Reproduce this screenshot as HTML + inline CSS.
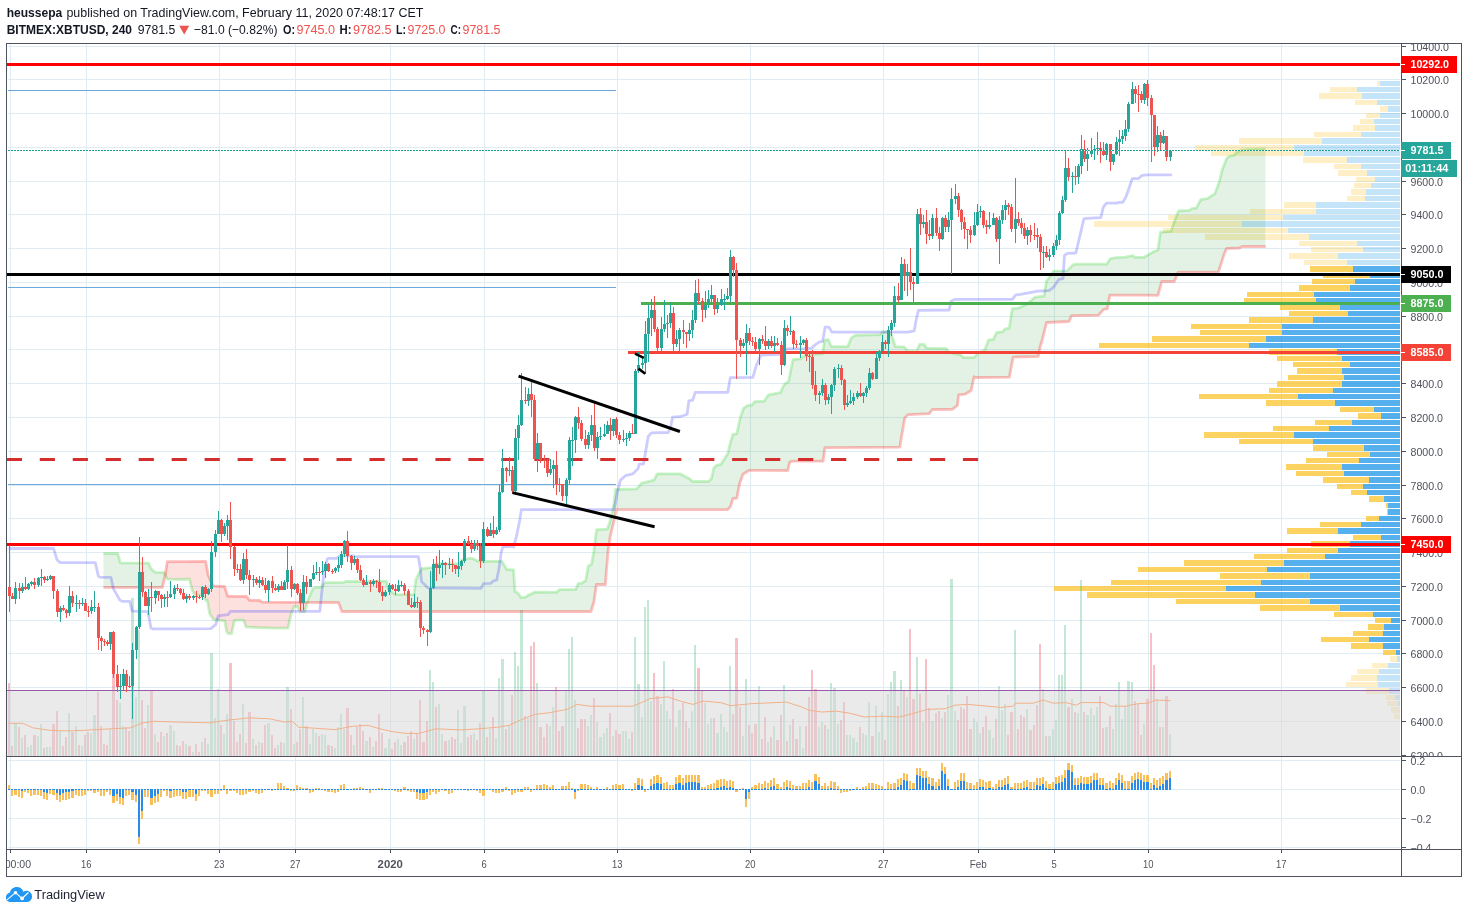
<!DOCTYPE html>
<html lang="en"><head><meta charset="utf-8"><title>BITMEX:XBTUSD chart</title><style>html,body{margin:0;padding:0;background:#fff;overflow:hidden}svg{display:block;will-change:transform}</style></head><body><svg width="1468" height="913" viewBox="0 0 1468 913"><defs><clipPath id="cpM"><rect x="7" y="44" width="1394" height="712"/></clipPath><clipPath id="cpI"><rect x="7" y="757" width="1394" height="92"/></clipPath><clipPath id="cpAxM"><rect x="1402" y="44" width="59" height="712"/></clipPath><clipPath id="cpAxI"><rect x="1402" y="757" width="59" height="92"/></clipPath><clipPath id="cpT"><rect x="7" y="850" width="1394" height="26"/></clipPath></defs>
<g stroke="#e1ecf2" stroke-width="1" shape-rendering="crispEdges"><line x1="8" x2="1400" y1="46.5" y2="46.5"/><line x1="8" x2="1400" y1="79.5" y2="79.5"/><line x1="8" x2="1400" y1="113.5" y2="113.5"/><line x1="8" x2="1400" y1="147.5" y2="147.5"/><line x1="8" x2="1400" y1="181.5" y2="181.5"/><line x1="8" x2="1400" y1="214.5" y2="214.5"/><line x1="8" x2="1400" y1="248.5" y2="248.5"/><line x1="8" x2="1400" y1="282.5" y2="282.5"/><line x1="8" x2="1400" y1="316.5" y2="316.5"/><line x1="8" x2="1400" y1="349.5" y2="349.5"/><line x1="8" x2="1400" y1="383.5" y2="383.5"/><line x1="8" x2="1400" y1="417.5" y2="417.5"/><line x1="8" x2="1400" y1="451.5" y2="451.5"/><line x1="8" x2="1400" y1="485.5" y2="485.5"/><line x1="8" x2="1400" y1="518.5" y2="518.5"/><line x1="8" x2="1400" y1="552.5" y2="552.5"/><line x1="8" x2="1400" y1="586.5" y2="586.5"/><line x1="8" x2="1400" y1="620.5" y2="620.5"/><line x1="8" x2="1400" y1="653.5" y2="653.5"/><line x1="8" x2="1400" y1="687.5" y2="687.5"/><line x1="8" x2="1400" y1="721.5" y2="721.5"/><line x1="8" x2="1400" y1="760.5" y2="760.5"/><line x1="8" x2="1400" y1="789.5" y2="789.5"/><line x1="8" x2="1400" y1="818.5" y2="818.5"/><line x1="8" x2="1400" y1="847.5" y2="847.5"/><line x1="10.5" x2="10.5" y1="44" y2="756"/><line x1="10.5" x2="10.5" y1="757" y2="849"/><line x1="86.5" x2="86.5" y1="44" y2="756"/><line x1="86.5" x2="86.5" y1="757" y2="849"/><line x1="219.5" x2="219.5" y1="44" y2="756"/><line x1="219.5" x2="219.5" y1="757" y2="849"/><line x1="295.5" x2="295.5" y1="44" y2="756"/><line x1="295.5" x2="295.5" y1="757" y2="849"/><line x1="390.5" x2="390.5" y1="44" y2="756"/><line x1="390.5" x2="390.5" y1="757" y2="849"/><line x1="484.5" x2="484.5" y1="44" y2="756"/><line x1="484.5" x2="484.5" y1="757" y2="849"/><line x1="617.5" x2="617.5" y1="44" y2="756"/><line x1="617.5" x2="617.5" y1="757" y2="849"/><line x1="750.5" x2="750.5" y1="44" y2="756"/><line x1="750.5" x2="750.5" y1="757" y2="849"/><line x1="883.5" x2="883.5" y1="44" y2="756"/><line x1="883.5" x2="883.5" y1="757" y2="849"/><line x1="978.5" x2="978.5" y1="44" y2="756"/><line x1="978.5" x2="978.5" y1="757" y2="849"/><line x1="1054.5" x2="1054.5" y1="44" y2="756"/><line x1="1054.5" x2="1054.5" y1="757" y2="849"/><line x1="1148.5" x2="1148.5" y1="44" y2="756"/><line x1="1148.5" x2="1148.5" y1="757" y2="849"/><line x1="1281.5" x2="1281.5" y1="44" y2="756"/><line x1="1281.5" x2="1281.5" y1="757" y2="849"/></g>
<g clip-path="url(#cpM)">
<g shape-rendering="crispEdges"><rect x="1377" y="81" width="3" height="5" fill="rgba(251,193,35,0.26)"/><rect x="1380" y="81" width="20" height="5" fill="rgba(21,146,230,0.25)"/><rect x="1330" y="87" width="27" height="5" fill="rgba(251,193,35,0.26)"/><rect x="1357" y="87" width="43" height="5" fill="rgba(21,146,230,0.25)"/><rect x="1319" y="93" width="43" height="6" fill="rgba(251,193,35,0.26)"/><rect x="1362" y="93" width="38" height="6" fill="rgba(21,146,230,0.25)"/><rect x="1355" y="100" width="22" height="5" fill="rgba(251,193,35,0.26)"/><rect x="1377" y="100" width="23" height="5" fill="rgba(21,146,230,0.25)"/><rect x="1380" y="106" width="8" height="6" fill="rgba(251,193,35,0.26)"/><rect x="1388" y="106" width="12" height="6" fill="rgba(21,146,230,0.25)"/><rect x="1366" y="113" width="14" height="5" fill="rgba(251,193,35,0.26)"/><rect x="1380" y="113" width="20" height="5" fill="rgba(21,146,230,0.25)"/><rect x="1360" y="119" width="14" height="5" fill="rgba(251,193,35,0.26)"/><rect x="1374" y="119" width="26" height="5" fill="rgba(21,146,230,0.25)"/><rect x="1353" y="125" width="22" height="6" fill="rgba(251,193,35,0.26)"/><rect x="1375" y="125" width="25" height="6" fill="rgba(21,146,230,0.25)"/><rect x="1314" y="132" width="47" height="5" fill="rgba(251,193,35,0.26)"/><rect x="1361" y="132" width="39" height="5" fill="rgba(21,146,230,0.25)"/><rect x="1239" y="138" width="83" height="6" fill="rgba(251,193,35,0.26)"/><rect x="1322" y="138" width="78" height="6" fill="rgba(21,146,230,0.25)"/><rect x="1195" y="145" width="99" height="5" fill="rgba(251,193,35,0.26)"/><rect x="1294" y="145" width="106" height="5" fill="rgba(21,146,230,0.25)"/><rect x="1211" y="151" width="93" height="5" fill="rgba(251,193,35,0.26)"/><rect x="1304" y="151" width="96" height="5" fill="rgba(21,146,230,0.25)"/><rect x="1303" y="157" width="44" height="6" fill="rgba(251,193,35,0.26)"/><rect x="1347" y="157" width="53" height="6" fill="rgba(21,146,230,0.25)"/><rect x="1334" y="164" width="27" height="5" fill="rgba(251,193,35,0.26)"/><rect x="1361" y="164" width="39" height="5" fill="rgba(21,146,230,0.25)"/><rect x="1338" y="170" width="29" height="6" fill="rgba(251,193,35,0.26)"/><rect x="1367" y="170" width="33" height="6" fill="rgba(21,146,230,0.25)"/><rect x="1356" y="177" width="19" height="5" fill="rgba(251,193,35,0.26)"/><rect x="1375" y="177" width="25" height="5" fill="rgba(21,146,230,0.25)"/><rect x="1354" y="183" width="17" height="5" fill="rgba(251,193,35,0.26)"/><rect x="1371" y="183" width="29" height="5" fill="rgba(21,146,230,0.25)"/><rect x="1351" y="189" width="15" height="6" fill="rgba(251,193,35,0.26)"/><rect x="1366" y="189" width="34" height="6" fill="rgba(21,146,230,0.25)"/><rect x="1347" y="196" width="18" height="5" fill="rgba(251,193,35,0.26)"/><rect x="1365" y="196" width="35" height="5" fill="rgba(21,146,230,0.25)"/><rect x="1284" y="202" width="32" height="6" fill="rgba(251,193,35,0.26)"/><rect x="1316" y="202" width="84" height="6" fill="rgba(21,146,230,0.25)"/><rect x="1250" y="209" width="66" height="5" fill="rgba(251,193,35,0.26)"/><rect x="1316" y="209" width="84" height="5" fill="rgba(21,146,230,0.25)"/><rect x="1168" y="215" width="115" height="5" fill="rgba(251,193,35,0.26)"/><rect x="1283" y="215" width="117" height="5" fill="rgba(21,146,230,0.25)"/><rect x="1094" y="221" width="148" height="6" fill="rgba(251,193,35,0.26)"/><rect x="1242" y="221" width="158" height="6" fill="rgba(21,146,230,0.25)"/><rect x="1163" y="228" width="125" height="5" fill="rgba(251,193,35,0.26)"/><rect x="1288" y="228" width="112" height="5" fill="rgba(21,146,230,0.25)"/><rect x="1205" y="234" width="104" height="6" fill="rgba(251,193,35,0.26)"/><rect x="1309" y="234" width="91" height="6" fill="rgba(21,146,230,0.25)"/><rect x="1299" y="241" width="58" height="5" fill="rgba(251,193,35,0.26)"/><rect x="1357" y="241" width="43" height="5" fill="rgba(21,146,230,0.25)"/><rect x="1311" y="247" width="52" height="5" fill="rgba(251,193,35,0.26)"/><rect x="1363" y="247" width="37" height="5" fill="rgba(21,146,230,0.25)"/><rect x="1289" y="253" width="49" height="6" fill="rgba(251,193,35,0.26)"/><rect x="1338" y="253" width="62" height="6" fill="rgba(21,146,230,0.25)"/><rect x="1304" y="260" width="43" height="5" fill="rgba(251,193,35,0.26)"/><rect x="1347" y="260" width="53" height="5" fill="rgba(21,146,230,0.25)"/><rect x="1310" y="266" width="43" height="6" fill="rgba(251,193,35,0.72)"/><rect x="1353" y="266" width="47" height="6" fill="rgba(21,146,230,0.72)"/><rect x="1323" y="273" width="47" height="5" fill="rgba(251,193,35,0.72)"/><rect x="1370" y="273" width="30" height="5" fill="rgba(21,146,230,0.72)"/><rect x="1312" y="279" width="43" height="5" fill="rgba(251,193,35,0.72)"/><rect x="1355" y="279" width="45" height="5" fill="rgba(21,146,230,0.72)"/><rect x="1299" y="285" width="51" height="6" fill="rgba(251,193,35,0.72)"/><rect x="1350" y="285" width="50" height="6" fill="rgba(21,146,230,0.72)"/><rect x="1247" y="292" width="67" height="5" fill="rgba(251,193,35,0.72)"/><rect x="1314" y="292" width="86" height="5" fill="rgba(21,146,230,0.72)"/><rect x="1244" y="298" width="72" height="6" fill="rgba(251,193,35,0.72)"/><rect x="1316" y="298" width="84" height="6" fill="rgba(21,146,230,0.72)"/><rect x="1280" y="305" width="60" height="5" fill="rgba(251,193,35,0.72)"/><rect x="1340" y="305" width="60" height="5" fill="rgba(21,146,230,0.72)"/><rect x="1289" y="311" width="59" height="5" fill="rgba(251,193,35,0.72)"/><rect x="1348" y="311" width="52" height="5" fill="rgba(21,146,230,0.72)"/><rect x="1249" y="317" width="64" height="6" fill="rgba(251,193,35,0.72)"/><rect x="1313" y="317" width="87" height="6" fill="rgba(21,146,230,0.72)"/><rect x="1191" y="324" width="91" height="5" fill="rgba(251,193,35,0.72)"/><rect x="1282" y="324" width="118" height="5" fill="rgba(21,146,230,0.72)"/><rect x="1200" y="330" width="82" height="5" fill="rgba(251,193,35,0.72)"/><rect x="1282" y="330" width="118" height="5" fill="rgba(21,146,230,0.72)"/><rect x="1152" y="336" width="114" height="6" fill="rgba(251,193,35,0.72)"/><rect x="1266" y="336" width="134" height="6" fill="rgba(21,146,230,0.72)"/><rect x="1099" y="343" width="150" height="5" fill="rgba(251,193,35,0.72)"/><rect x="1249" y="343" width="151" height="5" fill="rgba(21,146,230,0.72)"/><rect x="1269" y="349" width="68" height="6" fill="rgba(251,193,35,0.72)"/><rect x="1337" y="349" width="63" height="6" fill="rgba(21,146,230,0.72)"/><rect x="1277" y="356" width="65" height="5" fill="rgba(251,193,35,0.72)"/><rect x="1342" y="356" width="58" height="5" fill="rgba(21,146,230,0.72)"/><rect x="1293" y="362" width="57" height="5" fill="rgba(251,193,35,0.72)"/><rect x="1350" y="362" width="50" height="5" fill="rgba(21,146,230,0.72)"/><rect x="1297" y="368" width="45" height="6" fill="rgba(251,193,35,0.72)"/><rect x="1342" y="368" width="58" height="6" fill="rgba(21,146,230,0.72)"/><rect x="1288" y="375" width="56" height="5" fill="rgba(251,193,35,0.72)"/><rect x="1344" y="375" width="56" height="5" fill="rgba(21,146,230,0.72)"/><rect x="1277" y="381" width="65" height="6" fill="rgba(251,193,35,0.72)"/><rect x="1342" y="381" width="58" height="6" fill="rgba(21,146,230,0.72)"/><rect x="1269" y="388" width="64" height="5" fill="rgba(251,193,35,0.72)"/><rect x="1333" y="388" width="67" height="5" fill="rgba(21,146,230,0.72)"/><rect x="1199" y="394" width="99" height="5" fill="rgba(251,193,35,0.72)"/><rect x="1298" y="394" width="102" height="5" fill="rgba(21,146,230,0.72)"/><rect x="1266" y="400" width="69" height="6" fill="rgba(251,193,35,0.72)"/><rect x="1335" y="400" width="65" height="6" fill="rgba(21,146,230,0.72)"/><rect x="1340" y="407" width="34" height="5" fill="rgba(251,193,35,0.72)"/><rect x="1374" y="407" width="26" height="5" fill="rgba(21,146,230,0.72)"/><rect x="1358" y="413" width="23" height="6" fill="rgba(251,193,35,0.72)"/><rect x="1381" y="413" width="19" height="6" fill="rgba(21,146,230,0.72)"/><rect x="1315" y="420" width="37" height="5" fill="rgba(251,193,35,0.72)"/><rect x="1352" y="420" width="48" height="5" fill="rgba(21,146,230,0.72)"/><rect x="1273" y="426" width="56" height="5" fill="rgba(251,193,35,0.72)"/><rect x="1329" y="426" width="71" height="5" fill="rgba(21,146,230,0.72)"/><rect x="1204" y="432" width="90" height="6" fill="rgba(251,193,35,0.72)"/><rect x="1294" y="432" width="106" height="6" fill="rgba(21,146,230,0.72)"/><rect x="1239" y="439" width="74" height="5" fill="rgba(251,193,35,0.72)"/><rect x="1313" y="439" width="87" height="5" fill="rgba(21,146,230,0.72)"/><rect x="1313" y="445" width="51" height="6" fill="rgba(251,193,35,0.72)"/><rect x="1364" y="445" width="36" height="6" fill="rgba(21,146,230,0.72)"/><rect x="1327" y="452" width="43" height="5" fill="rgba(251,193,35,0.72)"/><rect x="1370" y="452" width="30" height="5" fill="rgba(21,146,230,0.72)"/><rect x="1306" y="458" width="53" height="5" fill="rgba(251,193,35,0.72)"/><rect x="1359" y="458" width="41" height="5" fill="rgba(21,146,230,0.72)"/><rect x="1286" y="464" width="56" height="6" fill="rgba(251,193,35,0.72)"/><rect x="1342" y="464" width="58" height="6" fill="rgba(21,146,230,0.72)"/><rect x="1296" y="471" width="48" height="5" fill="rgba(251,193,35,0.72)"/><rect x="1344" y="471" width="56" height="5" fill="rgba(21,146,230,0.72)"/><rect x="1323" y="477" width="46" height="6" fill="rgba(251,193,35,0.72)"/><rect x="1369" y="477" width="31" height="6" fill="rgba(21,146,230,0.72)"/><rect x="1337" y="484" width="26" height="5" fill="rgba(251,193,35,0.72)"/><rect x="1363" y="484" width="37" height="5" fill="rgba(21,146,230,0.72)"/><rect x="1351" y="490" width="16" height="5" fill="rgba(251,193,35,0.72)"/><rect x="1367" y="490" width="33" height="5" fill="rgba(21,146,230,0.72)"/><rect x="1369" y="496" width="15" height="6" fill="rgba(251,193,35,0.72)"/><rect x="1384" y="496" width="16" height="6" fill="rgba(21,146,230,0.72)"/><rect x="1386" y="503" width="2" height="5" fill="rgba(251,193,35,0.72)"/><rect x="1388" y="503" width="12" height="5" fill="rgba(21,146,230,0.72)"/><rect x="1387" y="509" width="1" height="6" fill="rgba(251,193,35,0.72)"/><rect x="1388" y="509" width="12" height="6" fill="rgba(21,146,230,0.72)"/><rect x="1366" y="516" width="13" height="5" fill="rgba(251,193,35,0.72)"/><rect x="1379" y="516" width="21" height="5" fill="rgba(21,146,230,0.72)"/><rect x="1320" y="522" width="41" height="5" fill="rgba(251,193,35,0.72)"/><rect x="1361" y="522" width="39" height="5" fill="rgba(21,146,230,0.72)"/><rect x="1287" y="528" width="51" height="6" fill="rgba(251,193,35,0.72)"/><rect x="1338" y="528" width="62" height="6" fill="rgba(21,146,230,0.72)"/><rect x="1353" y="535" width="28" height="5" fill="rgba(251,193,35,0.72)"/><rect x="1381" y="535" width="19" height="5" fill="rgba(21,146,230,0.72)"/><rect x="1311" y="541" width="39" height="6" fill="rgba(251,193,35,0.72)"/><rect x="1350" y="541" width="50" height="6" fill="rgba(21,146,230,0.72)"/><rect x="1287" y="548" width="51" height="5" fill="rgba(251,193,35,0.72)"/><rect x="1338" y="548" width="62" height="5" fill="rgba(21,146,230,0.72)"/><rect x="1254" y="554" width="71" height="5" fill="rgba(251,193,35,0.72)"/><rect x="1325" y="554" width="75" height="5" fill="rgba(21,146,230,0.72)"/><rect x="1184" y="560" width="100" height="6" fill="rgba(251,193,35,0.72)"/><rect x="1284" y="560" width="116" height="6" fill="rgba(21,146,230,0.72)"/><rect x="1138" y="567" width="129" height="5" fill="rgba(251,193,35,0.72)"/><rect x="1267" y="567" width="133" height="5" fill="rgba(21,146,230,0.72)"/><rect x="1220" y="573" width="90" height="6" fill="rgba(251,193,35,0.72)"/><rect x="1310" y="573" width="90" height="6" fill="rgba(21,146,230,0.72)"/><rect x="1111" y="580" width="150" height="5" fill="rgba(251,193,35,0.72)"/><rect x="1261" y="580" width="139" height="5" fill="rgba(21,146,230,0.72)"/><rect x="1054" y="586" width="172" height="5" fill="rgba(251,193,35,0.72)"/><rect x="1226" y="586" width="174" height="5" fill="rgba(21,146,230,0.72)"/><rect x="1087" y="592" width="168" height="6" fill="rgba(251,193,35,0.72)"/><rect x="1255" y="592" width="145" height="6" fill="rgba(21,146,230,0.72)"/><rect x="1176" y="599" width="134" height="5" fill="rgba(251,193,35,0.72)"/><rect x="1310" y="599" width="90" height="5" fill="rgba(21,146,230,0.72)"/><rect x="1260" y="605" width="80" height="6" fill="rgba(251,193,35,0.72)"/><rect x="1340" y="605" width="60" height="6" fill="rgba(21,146,230,0.72)"/><rect x="1334" y="612" width="39" height="5" fill="rgba(251,193,35,0.72)"/><rect x="1373" y="612" width="27" height="5" fill="rgba(21,146,230,0.72)"/><rect x="1375" y="618" width="16" height="5" fill="rgba(251,193,35,0.72)"/><rect x="1391" y="618" width="9" height="5" fill="rgba(21,146,230,0.72)"/><rect x="1368" y="624" width="16" height="6" fill="rgba(251,193,35,0.72)"/><rect x="1384" y="624" width="16" height="6" fill="rgba(21,146,230,0.72)"/><rect x="1353" y="631" width="30" height="5" fill="rgba(251,193,35,0.72)"/><rect x="1383" y="631" width="17" height="5" fill="rgba(21,146,230,0.72)"/><rect x="1321" y="637" width="48" height="5" fill="rgba(251,193,35,0.72)"/><rect x="1369" y="637" width="31" height="5" fill="rgba(21,146,230,0.72)"/><rect x="1351" y="643" width="32" height="6" fill="rgba(251,193,35,0.72)"/><rect x="1383" y="643" width="17" height="6" fill="rgba(21,146,230,0.72)"/><rect x="1383" y="650" width="13" height="5" fill="rgba(251,193,35,0.72)"/><rect x="1396" y="650" width="4" height="5" fill="rgba(21,146,230,0.72)"/><rect x="1390" y="656" width="7" height="6" fill="rgba(251,193,35,0.26)"/><rect x="1397" y="656" width="3" height="6" fill="rgba(21,146,230,0.25)"/><rect x="1372" y="663" width="16" height="5" fill="rgba(251,193,35,0.26)"/><rect x="1388" y="663" width="12" height="5" fill="rgba(21,146,230,0.25)"/><rect x="1357" y="669" width="22" height="5" fill="rgba(251,193,35,0.26)"/><rect x="1379" y="669" width="21" height="5" fill="rgba(21,146,230,0.25)"/><rect x="1351" y="675" width="26" height="6" fill="rgba(251,193,35,0.26)"/><rect x="1377" y="675" width="23" height="6" fill="rgba(21,146,230,0.25)"/><rect x="1346" y="682" width="32" height="5" fill="rgba(251,193,35,0.26)"/><rect x="1378" y="682" width="22" height="5" fill="rgba(21,146,230,0.25)"/><rect x="1366" y="688" width="23" height="6" fill="rgba(251,193,35,0.26)"/><rect x="1389" y="688" width="11" height="6" fill="rgba(21,146,230,0.25)"/><rect x="1386" y="695" width="9" height="5" fill="rgba(251,193,35,0.26)"/><rect x="1395" y="695" width="5" height="5" fill="rgba(21,146,230,0.25)"/><rect x="1387" y="701" width="11" height="5" fill="rgba(251,193,35,0.26)"/><rect x="1398" y="701" width="2" height="5" fill="rgba(21,146,230,0.25)"/><rect x="1391" y="707" width="9" height="6" fill="rgba(251,193,35,0.26)"/><rect x="1394" y="714" width="6" height="5" fill="rgba(251,193,35,0.26)"/></g>
<g shape-rendering="crispEdges"><g fill="rgba(83,185,135,0.34)"><rect x="14" y="723" width="3" height="33"/><rect x="21" y="738" width="2" height="18"/><rect x="27" y="747" width="2" height="9"/><rect x="30" y="745" width="2" height="11"/><rect x="37" y="736" width="2" height="20"/><rect x="40" y="724" width="2" height="32"/><rect x="46" y="747" width="2" height="9"/><rect x="49" y="747" width="2" height="9"/><rect x="59" y="731" width="2" height="25"/><rect x="68" y="713" width="2" height="43"/><rect x="75" y="726" width="2" height="30"/><rect x="81" y="746" width="2" height="10"/><rect x="90" y="733" width="2" height="23"/><rect x="93" y="715" width="3" height="41"/><rect x="109" y="729" width="2" height="27"/><rect x="119" y="703" width="2" height="53"/><rect x="122" y="726" width="2" height="30"/><rect x="131" y="598" width="3" height="158"/><rect x="135" y="697" width="2" height="59"/><rect x="138" y="630" width="2" height="126"/><rect x="147" y="705" width="2" height="51"/><rect x="154" y="734" width="2" height="22"/><rect x="163" y="736" width="2" height="20"/><rect x="169" y="725" width="3" height="31"/><rect x="173" y="731" width="2" height="25"/><rect x="185" y="744" width="2" height="12"/><rect x="192" y="752" width="2" height="4"/><rect x="201" y="742" width="2" height="14"/><rect x="207" y="744" width="2" height="12"/><rect x="210" y="653" width="3" height="103"/><rect x="214" y="718" width="2" height="38"/><rect x="217" y="689" width="2" height="67"/><rect x="223" y="734" width="2" height="22"/><rect x="226" y="714" width="2" height="42"/><rect x="242" y="704" width="2" height="52"/><rect x="252" y="739" width="2" height="17"/><rect x="258" y="742" width="2" height="14"/><rect x="267" y="723" width="3" height="33"/><rect x="277" y="745" width="2" height="11"/><rect x="283" y="743" width="2" height="13"/><rect x="286" y="687" width="3" height="69"/><rect x="293" y="744" width="2" height="12"/><rect x="302" y="697" width="2" height="59"/><rect x="309" y="744" width="2" height="12"/><rect x="312" y="729" width="2" height="27"/><rect x="315" y="733" width="2" height="23"/><rect x="321" y="734" width="2" height="22"/><rect x="324" y="735" width="2" height="21"/><rect x="334" y="748" width="2" height="8"/><rect x="337" y="727" width="2" height="29"/><rect x="340" y="714" width="2" height="42"/><rect x="343" y="729" width="2" height="27"/><rect x="353" y="745" width="2" height="11"/><rect x="365" y="741" width="3" height="15"/><rect x="372" y="747" width="2" height="9"/><rect x="384" y="748" width="3" height="8"/><rect x="388" y="739" width="2" height="17"/><rect x="397" y="739" width="2" height="17"/><rect x="400" y="745" width="2" height="11"/><rect x="413" y="739" width="2" height="17"/><rect x="429" y="670" width="2" height="86"/><rect x="432" y="682" width="2" height="74"/><rect x="438" y="704" width="2" height="52"/><rect x="441" y="734" width="2" height="22"/><rect x="448" y="740" width="2" height="16"/><rect x="457" y="710" width="2" height="46"/><rect x="460" y="743" width="2" height="13"/><rect x="463" y="706" width="3" height="50"/><rect x="473" y="733" width="2" height="23"/><rect x="482" y="691" width="3" height="65"/><rect x="489" y="729" width="2" height="27"/><rect x="495" y="738" width="2" height="18"/><rect x="498" y="678" width="2" height="78"/><rect x="501" y="659" width="3" height="97"/><rect x="508" y="725" width="2" height="31"/><rect x="514" y="652" width="2" height="104"/><rect x="517" y="666" width="2" height="90"/><rect x="520" y="610" width="3" height="146"/><rect x="527" y="718" width="2" height="38"/><rect x="536" y="683" width="2" height="73"/><rect x="549" y="726" width="2" height="30"/><rect x="552" y="707" width="2" height="49"/><rect x="565" y="691" width="2" height="65"/><rect x="568" y="649" width="2" height="107"/><rect x="571" y="637" width="2" height="119"/><rect x="574" y="700" width="2" height="56"/><rect x="587" y="726" width="2" height="30"/><rect x="590" y="715" width="2" height="41"/><rect x="596" y="722" width="2" height="34"/><rect x="599" y="737" width="3" height="19"/><rect x="603" y="733" width="2" height="23"/><rect x="606" y="728" width="2" height="28"/><rect x="612" y="736" width="2" height="20"/><rect x="622" y="731" width="2" height="25"/><rect x="625" y="731" width="2" height="25"/><rect x="628" y="739" width="2" height="17"/><rect x="634" y="637" width="2" height="119"/><rect x="637" y="684" width="3" height="72"/><rect x="641" y="717" width="2" height="39"/><rect x="644" y="607" width="2" height="149"/><rect x="647" y="600" width="2" height="156"/><rect x="650" y="701" width="2" height="55"/><rect x="660" y="704" width="2" height="52"/><rect x="663" y="661" width="2" height="95"/><rect x="666" y="711" width="2" height="45"/><rect x="669" y="719" width="2" height="37"/><rect x="675" y="727" width="2" height="29"/><rect x="678" y="710" width="3" height="46"/><rect x="688" y="728" width="2" height="28"/><rect x="691" y="711" width="2" height="45"/><rect x="694" y="645" width="2" height="111"/><rect x="704" y="703" width="2" height="53"/><rect x="707" y="724" width="2" height="32"/><rect x="710" y="718" width="2" height="38"/><rect x="716" y="733" width="3" height="23"/><rect x="720" y="714" width="2" height="42"/><rect x="723" y="727" width="2" height="29"/><rect x="726" y="732" width="2" height="24"/><rect x="729" y="666" width="2" height="90"/><rect x="742" y="736" width="2" height="20"/><rect x="745" y="679" width="2" height="77"/><rect x="758" y="686" width="2" height="70"/><rect x="767" y="742" width="2" height="14"/><rect x="773" y="726" width="2" height="30"/><rect x="783" y="685" width="2" height="71"/><rect x="789" y="725" width="2" height="31"/><rect x="799" y="726" width="2" height="30"/><rect x="802" y="748" width="2" height="8"/><rect x="818" y="727" width="2" height="29"/><rect x="821" y="722" width="2" height="34"/><rect x="827" y="729" width="2" height="27"/><rect x="830" y="683" width="2" height="73"/><rect x="833" y="688" width="3" height="68"/><rect x="837" y="724" width="2" height="32"/><rect x="846" y="735" width="2" height="21"/><rect x="849" y="735" width="2" height="21"/><rect x="852" y="738" width="3" height="18"/><rect x="856" y="742" width="2" height="14"/><rect x="862" y="733" width="2" height="23"/><rect x="865" y="735" width="2" height="21"/><rect x="868" y="702" width="2" height="54"/><rect x="875" y="706" width="2" height="50"/><rect x="878" y="732" width="2" height="24"/><rect x="881" y="712" width="2" height="44"/><rect x="887" y="694" width="2" height="62"/><rect x="890" y="682" width="2" height="74"/><rect x="893" y="671" width="3" height="85"/><rect x="900" y="680" width="2" height="76"/><rect x="906" y="697" width="2" height="59"/><rect x="916" y="657" width="2" height="99"/><rect x="922" y="722" width="2" height="34"/><rect x="931" y="721" width="3" height="35"/><rect x="941" y="718" width="2" height="38"/><rect x="947" y="695" width="2" height="61"/><rect x="950" y="579" width="3" height="177"/><rect x="954" y="711" width="2" height="45"/><rect x="973" y="718" width="2" height="38"/><rect x="976" y="722" width="2" height="34"/><rect x="979" y="733" width="2" height="23"/><rect x="988" y="730" width="3" height="26"/><rect x="992" y="738" width="2" height="18"/><rect x="998" y="686" width="2" height="70"/><rect x="1001" y="710" width="2" height="46"/><rect x="1004" y="704" width="2" height="52"/><rect x="1014" y="630" width="2" height="126"/><rect x="1026" y="709" width="2" height="47"/><rect x="1042" y="689" width="2" height="67"/><rect x="1048" y="736" width="3" height="20"/><rect x="1052" y="729" width="2" height="27"/><rect x="1055" y="720" width="2" height="36"/><rect x="1058" y="675" width="2" height="81"/><rect x="1061" y="675" width="2" height="81"/><rect x="1064" y="625" width="2" height="131"/><rect x="1071" y="699" width="2" height="57"/><rect x="1077" y="713" width="2" height="43"/><rect x="1080" y="580" width="2" height="176"/><rect x="1086" y="715" width="3" height="41"/><rect x="1090" y="708" width="2" height="48"/><rect x="1093" y="715" width="2" height="41"/><rect x="1096" y="707" width="2" height="49"/><rect x="1105" y="727" width="3" height="29"/><rect x="1112" y="729" width="2" height="27"/><rect x="1115" y="704" width="2" height="52"/><rect x="1118" y="682" width="2" height="74"/><rect x="1121" y="719" width="2" height="37"/><rect x="1124" y="706" width="2" height="50"/><rect x="1127" y="681" width="3" height="75"/><rect x="1131" y="682" width="2" height="74"/><rect x="1143" y="724" width="2" height="32"/><rect x="1156" y="699" width="2" height="57"/><rect x="1162" y="727" width="2" height="29"/><rect x="1169" y="734" width="2" height="22"/></g><g fill="rgba(235,77,92,0.36)"><rect x="8" y="683" width="2" height="73"/><rect x="11" y="746" width="2" height="10"/><rect x="18" y="727" width="2" height="29"/><rect x="24" y="735" width="2" height="21"/><rect x="33" y="735" width="3" height="21"/><rect x="43" y="748" width="2" height="8"/><rect x="52" y="724" width="3" height="32"/><rect x="56" y="711" width="2" height="45"/><rect x="62" y="746" width="2" height="10"/><rect x="65" y="737" width="2" height="19"/><rect x="71" y="732" width="3" height="24"/><rect x="78" y="745" width="2" height="11"/><rect x="84" y="735" width="2" height="21"/><rect x="87" y="732" width="2" height="24"/><rect x="97" y="692" width="2" height="64"/><rect x="100" y="726" width="2" height="30"/><rect x="103" y="744" width="2" height="12"/><rect x="106" y="745" width="2" height="11"/><rect x="112" y="673" width="3" height="83"/><rect x="116" y="700" width="2" height="56"/><rect x="125" y="727" width="2" height="29"/><rect x="128" y="731" width="2" height="25"/><rect x="141" y="700" width="2" height="56"/><rect x="144" y="728" width="2" height="28"/><rect x="150" y="691" width="3" height="65"/><rect x="157" y="742" width="2" height="14"/><rect x="160" y="732" width="2" height="24"/><rect x="166" y="733" width="2" height="23"/><rect x="176" y="745" width="2" height="11"/><rect x="179" y="746" width="2" height="10"/><rect x="182" y="741" width="2" height="15"/><rect x="188" y="746" width="3" height="10"/><rect x="195" y="744" width="2" height="12"/><rect x="198" y="752" width="2" height="4"/><rect x="204" y="738" width="2" height="18"/><rect x="220" y="725" width="2" height="31"/><rect x="229" y="663" width="3" height="93"/><rect x="233" y="721" width="2" height="35"/><rect x="236" y="742" width="2" height="14"/><rect x="239" y="734" width="2" height="22"/><rect x="245" y="743" width="2" height="13"/><rect x="248" y="712" width="3" height="44"/><rect x="255" y="745" width="2" height="11"/><rect x="261" y="743" width="2" height="13"/><rect x="264" y="725" width="2" height="31"/><rect x="271" y="735" width="2" height="21"/><rect x="274" y="748" width="2" height="8"/><rect x="280" y="742" width="2" height="14"/><rect x="290" y="709" width="2" height="47"/><rect x="296" y="742" width="2" height="14"/><rect x="299" y="729" width="2" height="27"/><rect x="305" y="726" width="3" height="30"/><rect x="318" y="736" width="2" height="20"/><rect x="327" y="745" width="3" height="11"/><rect x="331" y="746" width="2" height="10"/><rect x="346" y="708" width="3" height="48"/><rect x="350" y="735" width="2" height="21"/><rect x="356" y="727" width="2" height="29"/><rect x="359" y="724" width="2" height="32"/><rect x="362" y="731" width="2" height="25"/><rect x="369" y="737" width="2" height="19"/><rect x="375" y="741" width="2" height="15"/><rect x="378" y="714" width="2" height="42"/><rect x="381" y="733" width="2" height="23"/><rect x="391" y="749" width="2" height="7"/><rect x="394" y="742" width="2" height="14"/><rect x="403" y="742" width="3" height="14"/><rect x="407" y="736" width="2" height="20"/><rect x="410" y="731" width="2" height="25"/><rect x="416" y="734" width="2" height="22"/><rect x="419" y="700" width="2" height="56"/><rect x="422" y="742" width="3" height="14"/><rect x="426" y="721" width="2" height="35"/><rect x="435" y="707" width="2" height="49"/><rect x="444" y="741" width="3" height="15"/><rect x="451" y="737" width="2" height="19"/><rect x="454" y="739" width="2" height="17"/><rect x="467" y="737" width="2" height="19"/><rect x="470" y="735" width="2" height="21"/><rect x="476" y="740" width="2" height="16"/><rect x="479" y="723" width="2" height="33"/><rect x="486" y="737" width="2" height="19"/><rect x="492" y="717" width="2" height="39"/><rect x="505" y="729" width="2" height="27"/><rect x="511" y="695" width="2" height="61"/><rect x="524" y="716" width="2" height="40"/><rect x="530" y="646" width="2" height="110"/><rect x="533" y="642" width="2" height="114"/><rect x="539" y="727" width="3" height="29"/><rect x="543" y="737" width="2" height="19"/><rect x="546" y="724" width="2" height="32"/><rect x="555" y="687" width="2" height="69"/><rect x="558" y="731" width="2" height="25"/><rect x="561" y="726" width="3" height="30"/><rect x="577" y="728" width="2" height="28"/><rect x="580" y="719" width="3" height="37"/><rect x="584" y="719" width="2" height="37"/><rect x="593" y="698" width="2" height="58"/><rect x="609" y="713" width="2" height="43"/><rect x="615" y="730" width="2" height="26"/><rect x="618" y="734" width="3" height="22"/><rect x="631" y="732" width="2" height="24"/><rect x="653" y="673" width="2" height="83"/><rect x="656" y="696" width="3" height="60"/><rect x="672" y="689" width="2" height="67"/><rect x="682" y="703" width="2" height="53"/><rect x="685" y="721" width="2" height="35"/><rect x="697" y="668" width="3" height="88"/><rect x="701" y="691" width="2" height="65"/><rect x="713" y="718" width="2" height="38"/><rect x="732" y="714" width="2" height="42"/><rect x="735" y="638" width="3" height="118"/><rect x="739" y="707" width="2" height="49"/><rect x="748" y="725" width="2" height="31"/><rect x="751" y="733" width="2" height="23"/><rect x="754" y="724" width="3" height="32"/><rect x="761" y="739" width="2" height="17"/><rect x="764" y="717" width="2" height="39"/><rect x="770" y="737" width="2" height="19"/><rect x="776" y="740" width="3" height="16"/><rect x="780" y="715" width="2" height="41"/><rect x="786" y="741" width="2" height="15"/><rect x="792" y="719" width="2" height="37"/><rect x="795" y="739" width="3" height="17"/><rect x="805" y="726" width="2" height="30"/><rect x="808" y="697" width="2" height="59"/><rect x="811" y="670" width="2" height="86"/><rect x="814" y="689" width="3" height="67"/><rect x="824" y="725" width="2" height="31"/><rect x="840" y="720" width="2" height="36"/><rect x="843" y="702" width="2" height="54"/><rect x="859" y="727" width="2" height="29"/><rect x="871" y="736" width="3" height="20"/><rect x="884" y="740" width="2" height="16"/><rect x="897" y="706" width="2" height="50"/><rect x="903" y="691" width="2" height="65"/><rect x="909" y="629" width="2" height="127"/><rect x="912" y="699" width="3" height="57"/><rect x="919" y="694" width="2" height="62"/><rect x="925" y="659" width="2" height="97"/><rect x="928" y="708" width="2" height="48"/><rect x="935" y="713" width="2" height="43"/><rect x="938" y="711" width="2" height="45"/><rect x="944" y="712" width="2" height="44"/><rect x="957" y="720" width="2" height="36"/><rect x="960" y="707" width="2" height="49"/><rect x="963" y="709" width="2" height="47"/><rect x="966" y="696" width="2" height="60"/><rect x="969" y="729" width="3" height="27"/><rect x="982" y="727" width="2" height="29"/><rect x="985" y="716" width="2" height="40"/><rect x="995" y="719" width="2" height="37"/><rect x="1007" y="735" width="2" height="21"/><rect x="1010" y="712" width="3" height="44"/><rect x="1017" y="729" width="2" height="27"/><rect x="1020" y="715" width="2" height="41"/><rect x="1023" y="717" width="2" height="39"/><rect x="1029" y="730" width="3" height="26"/><rect x="1033" y="725" width="2" height="31"/><rect x="1036" y="705" width="2" height="51"/><rect x="1039" y="644" width="2" height="112"/><rect x="1045" y="736" width="2" height="20"/><rect x="1067" y="707" width="3" height="49"/><rect x="1074" y="712" width="2" height="44"/><rect x="1083" y="712" width="2" height="44"/><rect x="1099" y="696" width="2" height="60"/><rect x="1102" y="728" width="2" height="28"/><rect x="1109" y="716" width="2" height="40"/><rect x="1134" y="701" width="2" height="55"/><rect x="1137" y="704" width="2" height="52"/><rect x="1140" y="735" width="2" height="21"/><rect x="1146" y="699" width="3" height="57"/><rect x="1150" y="633" width="2" height="123"/><rect x="1153" y="665" width="2" height="91"/><rect x="1159" y="727" width="2" height="29"/><rect x="1165" y="696" width="3" height="60"/></g></g>
<rect x="7" y="691" width="1393" height="65" fill="rgba(214,214,214,0.51)" shape-rendering="crispEdges"/>
<rect x="7" y="690" width="1393" height="1" fill="#985aaa" shape-rendering="crispEdges"/>
<path d="M8.8,723.3 L22.7,723.3 L32.7,727.8 L50.4,730.4 L65.5,730.9 L83.1,730.4 L110.8,728.8 L131.0,727.8 L141.1,723.3 L153.7,721.3 L176.3,722.0 L209.1,722.8 L226.7,720.3 L249.4,717.8 L269.5,718.8 L284.6,722.0 L292.2,721.3 L298.5,727.1 L335.0,729.6 L352.6,726.3 L368.0,725.3 L378.1,728.3 L390.7,731.4 L405.8,733.4 L418.4,733.4 L436.0,728.8 L461.2,729.9 L478.8,728.8 L499.0,727.1 L509.1,725.3 L521.7,719.5 L534.2,714.5 L549.4,712.7 L567.0,709.4 L577.1,704.4 L589.7,706.2 L609.8,706.2 L632.5,706.2 L640.0,703.2 L650.1,698.6 L667.7,696.9 L680.3,701.1 L692.9,704.4 L703.0,701.1 L720.6,702.6 L730.7,705.7 L736.0,705.2 L751.1,703.7 L786.4,702.1 L801.5,706.9 L809.0,710.2 L821.6,712.0 L836.8,711.2 L849.4,713.2 L864.5,717.0 L882.1,716.2 L899.7,717.0 L912.3,713.7 L927.4,709.4 L945.1,708.7 L955.1,705.2 L967.7,704.4 L987.9,706.2 L1000.5,707.4 L1013.1,706.2 L1015.6,703.2 L1033.2,703.2 L1043.3,700.1 L1053.4,703.2 L1066.0,702.6 L1076.1,705.2 L1081.1,702.6 L1104.0,702.6 L1110.1,706.2 L1125.2,706.2 L1137.8,703.7 L1147.9,703.2 L1155.4,700.1 L1170.5,700.6" fill="none" stroke="#f1b088" stroke-width="1"/>
<path d="M103.4,553.5 L103.9,553.5 L104.4,553.5 L104.9,553.5 L105.4,553.5 L105.9,553.5 L106.4,553.5 L106.9,553.5 L107.4,553.5 L107.9,553.5 L108.4,553.5 L108.9,553.5 L109.4,553.5 L109.9,553.5 L110.4,553.5 L110.9,553.5 L111.4,553.5 L111.9,553.5 L112.4,553.5 L112.9,553.5 L113.4,553.5 L113.9,553.5 L114.4,553.5 L114.9,553.5 L115.4,553.5 L115.9,553.5 L116.4,553.5 L116.9,553.5 L117.4,553.5 L117.9,553.9 L118.4,555.7 L118.9,557.6 L119.4,559.5 L119.9,561.4 L120.4,562.9 L120.9,563.0 L121.4,563.0 L121.9,563.0 L122.4,563.0 L122.9,563.0 L123.4,563.0 L123.9,563.0 L124.4,563.0 L124.9,563.0 L125.4,563.0 L125.9,563.0 L126.4,563.0 L126.9,563.0 L127.4,563.0 L127.9,563.0 L128.4,563.0 L128.9,563.0 L129.4,563.0 L129.9,563.0 L130.4,563.0 L130.9,563.0 L131.4,563.0 L131.9,563.1 L132.4,563.1 L132.9,563.1 L133.4,563.1 L133.9,563.1 L134.4,563.1 L134.9,563.1 L135.4,563.1 L135.9,563.1 L136.4,563.1 L136.9,563.1 L137.4,563.1 L137.9,563.1 L138.4,563.1 L138.9,563.1 L139.4,563.1 L139.9,563.1 L140.4,563.1 L140.9,563.1 L141.4,563.1 L141.9,563.1 L142.4,563.1 L142.9,563.1 L143.4,563.2 L143.9,563.2 L144.4,563.2 L144.9,563.2 L145.4,563.2 L145.9,563.2 L146.4,563.2 L146.9,563.2 L147.4,563.2 L147.9,563.2 L148.4,563.2 L148.9,564.0 L149.4,565.2 L149.9,566.3 L150.4,567.4 L150.9,568.5 L151.4,569.1 L151.9,569.5 L152.4,569.9 L152.9,570.3 L153.4,570.7 L153.9,571.1 L154.4,571.5 L154.9,571.9 L155.4,572.3 L155.9,572.4 L156.4,572.4 L156.9,572.4 L157.4,572.4 L157.9,572.4 L158.4,572.4 L158.9,572.4 L159.4,572.5 L159.9,572.5 L160.4,572.5 L160.9,572.5 L161.4,572.5 L161.9,572.5 L162.4,572.5 L162.9,572.6 L163.4,572.6 L163.9,572.6 L164.4,573.0 L164.9,574.1 L165.4,575.2 L165.4,573.8 L164.9,576.0 L164.4,578.2 L163.9,580.4 L163.4,582.6 L162.9,584.8 L162.4,587.0 L161.9,587.4 L161.4,587.4 L160.9,587.4 L160.4,587.4 L159.9,587.4 L159.4,587.4 L158.9,587.4 L158.4,587.4 L157.9,587.4 L157.4,587.4 L156.9,587.4 L156.4,587.4 L155.9,587.4 L155.4,587.4 L154.9,587.4 L154.4,587.4 L153.9,587.4 L153.4,587.4 L152.9,587.4 L152.4,587.4 L151.9,587.4 L151.4,587.4 L150.9,587.4 L150.4,587.4 L149.9,587.4 L149.4,587.4 L148.9,587.4 L148.4,587.4 L147.9,587.4 L147.4,587.4 L146.9,587.4 L146.4,587.4 L145.9,587.4 L145.4,587.4 L144.9,587.4 L144.4,587.4 L143.9,587.4 L143.4,587.4 L142.9,587.4 L142.4,587.4 L141.9,587.4 L141.4,587.4 L140.9,587.4 L140.4,587.4 L139.9,587.4 L139.4,587.4 L138.9,587.4 L138.4,587.4 L137.9,587.4 L137.4,587.4 L136.9,587.4 L136.4,587.4 L135.9,587.4 L135.4,587.4 L134.9,587.4 L134.4,587.4 L133.9,587.4 L133.4,587.4 L132.9,587.4 L132.4,587.4 L131.9,587.4 L131.4,587.4 L130.9,587.4 L130.4,587.4 L129.9,587.4 L129.4,587.4 L128.9,587.4 L128.4,587.4 L127.9,587.4 L127.4,587.4 L126.9,587.4 L126.4,587.4 L125.9,587.4 L125.4,587.4 L124.9,587.4 L124.4,587.4 L123.9,587.4 L123.4,587.4 L122.9,587.4 L122.4,587.4 L121.9,587.4 L121.4,587.4 L120.9,587.4 L120.4,587.4 L119.9,587.4 L119.4,587.4 L118.9,587.4 L118.4,587.4 L117.9,587.4 L117.4,587.4 L116.9,587.4 L116.4,587.4 L115.9,587.4 L115.4,587.4 L114.9,587.4 L114.4,587.4 L113.9,587.4 L113.4,587.4 L112.9,587.4 L112.4,587.4 L111.9,587.4 L111.4,587.4 L110.9,587.4 L110.4,587.4 L109.9,587.4 L109.4,587.4 L108.9,587.4 L108.4,587.4 L107.9,587.4 L107.4,587.4 L106.9,587.4 L106.4,587.4 L105.9,587.4 L105.4,587.4 L104.9,587.4 L104.4,587.4 L103.9,587.4 L103.4,587.4 Z" fill="rgba(67,160,71,0.14)"/><path d="M165.4,575.2 L165.9,576.2 L166.4,577.3 L166.9,578.3 L167.4,579.2 L167.9,579.3 L168.4,579.3 L168.9,579.3 L169.4,579.3 L169.9,579.3 L170.4,579.3 L170.9,579.3 L171.4,579.3 L171.9,579.3 L172.4,579.3 L172.9,579.3 L173.4,579.3 L173.9,579.3 L174.4,579.4 L174.9,579.4 L175.4,579.4 L175.9,579.4 L176.4,579.4 L176.9,579.4 L177.4,579.4 L177.9,579.4 L178.4,579.4 L178.9,579.4 L179.4,579.4 L179.9,579.4 L180.4,579.4 L180.9,579.4 L181.4,579.5 L181.9,579.5 L182.4,579.5 L182.9,579.5 L183.4,579.5 L183.9,579.5 L184.4,579.5 L184.9,579.4 L185.4,579.4 L185.9,579.3 L186.4,579.3 L186.9,579.2 L187.4,579.2 L187.9,579.1 L188.4,579.1 L188.9,579.0 L189.4,579.0 L189.9,580.9 L190.4,582.9 L190.9,584.9 L191.4,586.9 L191.9,588.9 L192.4,590.9 L192.9,591.9 L193.4,592.6 L193.9,593.2 L194.4,593.8 L194.9,594.4 L195.4,594.7 L195.9,594.7 L196.4,594.7 L196.9,594.8 L197.4,594.8 L197.9,594.9 L198.4,594.9 L198.9,595.0 L199.4,595.0 L199.9,595.0 L200.4,595.1 L200.9,595.1 L201.4,595.2 L201.9,595.2 L202.4,595.2 L202.9,595.8 L203.4,596.6 L203.9,597.4 L204.4,598.2 L204.9,599.0 L205.4,599.8 L205.9,600.2 L206.4,600.2 L206.9,600.1 L207.4,601.2 L207.9,603.9 L208.4,606.7 L208.9,609.4 L209.4,612.2 L209.9,614.1 L210.4,614.9 L210.9,615.6 L211.4,616.4 L211.9,617.1 L212.4,617.9 L212.9,618.6 L213.4,619.4 L213.9,619.5 L214.4,619.6 L214.9,619.6 L215.4,619.7 L215.9,619.7 L216.4,619.8 L216.9,619.8 L217.4,619.9 L217.9,619.9 L218.4,620.0 L218.9,620.1 L219.4,620.1 L219.9,620.2 L220.4,620.2 L220.9,620.3 L221.4,620.3 L221.9,620.4 L222.4,620.4 L222.9,620.5 L223.4,620.6 L223.9,620.6 L224.4,620.7 L224.9,621.6 L225.4,624.5 L225.9,627.3 L226.4,630.1 L226.9,631.9 L227.4,632.8 L227.9,633.6 L228.4,633.6 L228.9,633.6 L229.4,633.6 L229.9,633.6 L230.4,633.6 L230.9,633.6 L231.4,633.6 L231.9,632.3 L232.4,629.8 L232.9,627.4 L233.4,624.9 L233.9,622.5 L234.4,621.1 L234.9,620.6 L235.4,620.1 L235.9,620.1 L236.4,620.1 L236.9,620.1 L237.4,620.1 L237.9,620.1 L238.4,620.1 L238.9,620.1 L239.4,620.1 L239.9,620.1 L240.4,620.1 L240.9,620.1 L241.4,620.1 L241.9,620.1 L242.4,620.1 L242.9,620.1 L243.4,620.1 L243.9,621.1 L244.4,622.5 L244.9,623.8 L245.4,625.2 L245.9,626.6 L246.4,627.0 L246.9,627.0 L247.4,627.0 L247.9,627.1 L248.4,627.1 L248.9,627.1 L249.4,627.1 L249.9,627.1 L250.4,627.2 L250.9,627.2 L251.4,627.2 L251.9,627.2 L252.4,627.3 L252.9,627.3 L253.4,627.3 L253.9,627.3 L254.4,627.4 L254.9,627.4 L255.4,627.4 L255.9,627.4 L256.4,627.4 L256.9,627.5 L257.4,627.5 L257.9,627.5 L258.4,627.5 L258.9,627.6 L259.4,627.6 L259.9,627.6 L260.4,627.6 L260.9,627.6 L261.4,627.7 L261.9,627.7 L262.4,627.7 L262.9,627.7 L263.4,627.8 L263.9,627.8 L264.4,627.8 L264.9,627.8 L265.4,627.8 L265.9,627.9 L266.4,627.9 L266.9,627.9 L267.4,627.9 L267.9,628.0 L268.4,628.0 L268.9,628.0 L269.4,628.0 L269.9,628.0 L270.4,628.1 L270.9,628.1 L271.4,628.1 L271.9,628.1 L272.4,628.2 L272.9,628.2 L273.4,628.2 L273.9,628.2 L274.4,628.2 L274.9,628.2 L275.4,628.2 L275.9,628.2 L276.4,628.2 L276.9,628.2 L277.4,628.2 L277.9,628.2 L278.4,628.2 L278.9,628.2 L279.4,628.2 L279.9,628.2 L280.4,628.2 L280.9,628.2 L281.4,628.2 L281.9,628.2 L282.4,628.2 L282.9,628.2 L283.4,628.2 L283.9,628.2 L284.4,628.2 L284.9,628.2 L285.4,628.2 L285.9,628.2 L286.4,628.2 L286.9,628.2 L287.4,628.2 L287.9,628.2 L288.4,626.2 L288.9,623.9 L289.4,621.5 L289.9,619.1 L290.4,616.7 L290.9,614.3 L291.4,613.0 L291.9,611.8 L292.4,610.6 L292.9,609.4 L293.4,608.2 L293.9,607.0 L294.4,606.5 L294.9,606.5 L295.4,606.5 L295.9,606.5 L296.4,606.5 L296.9,606.5 L297.4,606.8 L297.9,607.6 L298.4,608.4 L298.9,609.2 L299.4,610.0 L299.9,610.8 L300.4,611.6 L300.9,611.6 L301.4,611.6 L301.9,611.6 L302.4,611.6 L302.9,611.6 L303.4,611.6 L303.9,611.6 L304.4,611.6 L304.9,611.0 L305.4,609.2 L305.9,607.4 L306.4,605.6 L306.9,603.8 L307.4,602.0 L307.4,602.4 L306.9,602.4 L306.4,602.4 L305.9,602.4 L305.4,602.4 L304.9,602.4 L304.4,602.4 L303.9,602.4 L303.4,602.4 L302.9,602.4 L302.4,602.4 L301.9,602.4 L301.4,602.3 L300.9,602.3 L300.4,602.3 L299.9,602.3 L299.4,602.3 L298.9,602.3 L298.4,602.3 L297.9,602.3 L297.4,602.3 L296.9,602.3 L296.4,602.3 L295.9,602.3 L295.4,602.3 L294.9,602.3 L294.4,602.3 L293.9,602.3 L293.4,602.3 L292.9,602.3 L292.4,602.3 L291.9,602.3 L291.4,602.3 L290.9,602.3 L290.4,602.3 L289.9,602.3 L289.4,602.3 L288.9,602.3 L288.4,602.3 L287.9,602.3 L287.4,602.3 L286.9,602.3 L286.4,602.3 L285.9,602.3 L285.4,602.3 L284.9,602.3 L284.4,602.3 L283.9,602.3 L283.4,602.3 L282.9,602.3 L282.4,602.3 L281.9,602.3 L281.4,602.3 L280.9,602.2 L280.4,602.2 L279.9,602.2 L279.4,602.2 L278.9,602.2 L278.4,602.2 L277.9,602.2 L277.4,602.2 L276.9,602.2 L276.4,602.2 L275.9,602.2 L275.4,602.2 L274.9,602.2 L274.4,602.2 L273.9,602.2 L273.4,602.2 L272.9,602.2 L272.4,602.2 L271.9,602.2 L271.4,602.2 L270.9,602.2 L270.4,602.2 L269.9,602.2 L269.4,602.2 L268.9,602.2 L268.4,602.2 L267.9,602.2 L267.4,602.2 L266.9,602.2 L266.4,602.2 L265.9,602.2 L265.4,602.2 L264.9,602.2 L264.4,602.2 L263.9,602.2 L263.4,602.2 L262.9,602.2 L262.4,602.2 L261.9,602.0 L261.4,601.7 L260.9,601.4 L260.4,601.0 L259.9,600.7 L259.4,600.5 L258.9,600.5 L258.4,600.5 L257.9,600.5 L257.4,600.5 L256.9,600.5 L256.4,600.4 L255.9,600.4 L255.4,600.4 L254.9,600.4 L254.4,600.4 L253.9,600.4 L253.4,600.4 L252.9,600.4 L252.4,600.3 L251.9,600.3 L251.4,600.3 L250.9,600.3 L250.4,600.3 L249.9,600.3 L249.4,600.1 L248.9,599.5 L248.4,598.9 L247.9,598.3 L247.4,597.7 L246.9,597.1 L246.4,596.5 L245.9,596.5 L245.4,596.5 L244.9,596.5 L244.4,596.5 L243.9,596.5 L243.4,596.5 L242.9,596.5 L242.4,596.5 L241.9,596.5 L241.4,596.4 L240.9,596.4 L240.4,596.4 L239.9,596.4 L239.4,596.4 L238.9,596.4 L238.4,596.4 L237.9,596.4 L237.4,596.4 L236.9,596.4 L236.4,596.4 L235.9,596.4 L235.4,596.4 L234.9,596.4 L234.4,596.4 L233.9,596.3 L233.4,596.3 L232.9,596.3 L232.4,596.3 L231.9,596.3 L231.4,596.3 L230.9,596.3 L230.4,596.3 L229.9,596.3 L229.4,596.3 L228.9,596.3 L228.4,596.3 L227.9,596.3 L227.4,595.5 L226.9,593.9 L226.4,592.4 L225.9,590.8 L225.4,589.2 L224.9,587.7 L224.4,586.5 L223.9,586.5 L223.4,586.5 L222.9,586.4 L222.4,586.4 L221.9,586.4 L221.4,586.4 L220.9,586.4 L220.4,586.4 L219.9,586.4 L219.4,586.4 L218.9,586.3 L218.4,586.3 L217.9,586.3 L217.4,586.3 L216.9,586.3 L216.4,586.3 L215.9,586.3 L215.4,586.3 L214.9,586.2 L214.4,586.2 L213.9,585.7 L213.4,585.3 L212.9,584.8 L212.4,584.4 L211.9,583.8 L211.4,582.6 L210.9,581.5 L210.4,580.3 L209.9,579.1 L209.4,578.0 L208.9,576.8 L208.4,575.6 L207.9,573.4 L207.4,570.7 L206.9,567.9 L206.4,565.2 L205.9,562.4 L205.4,561.4 L204.9,561.4 L204.4,561.4 L203.9,561.4 L203.4,561.4 L202.9,561.5 L202.4,561.5 L201.9,561.5 L201.4,561.5 L200.9,561.5 L200.4,561.5 L199.9,561.5 L199.4,561.5 L198.9,561.5 L198.4,561.5 L197.9,561.5 L197.4,561.5 L196.9,561.5 L196.4,561.5 L195.9,561.5 L195.4,561.6 L194.9,561.6 L194.4,561.6 L193.9,561.6 L193.4,561.6 L192.9,561.6 L192.4,561.6 L191.9,561.6 L191.4,561.6 L190.9,561.6 L190.4,561.6 L189.9,561.6 L189.4,561.6 L188.9,561.6 L188.4,561.6 L187.9,561.6 L187.4,561.7 L186.9,561.7 L186.4,561.7 L185.9,561.7 L185.4,561.7 L184.9,561.7 L184.4,561.7 L183.9,561.7 L183.4,561.7 L182.9,561.7 L182.4,561.7 L181.9,561.7 L181.4,561.7 L180.9,561.7 L180.4,561.7 L179.9,561.7 L179.4,561.7 L178.9,561.7 L178.4,561.7 L177.9,561.7 L177.4,561.7 L176.9,561.7 L176.4,561.7 L175.9,561.7 L175.4,561.7 L174.9,561.7 L174.4,561.7 L173.9,561.7 L173.4,561.7 L172.9,561.7 L172.4,561.7 L171.9,561.7 L171.4,561.7 L170.9,561.7 L170.4,561.7 L169.9,561.7 L169.4,561.7 L168.9,561.7 L168.4,561.7 L167.9,561.7 L167.4,561.7 L166.9,564.4 L166.4,567.6 L165.9,570.7 L165.4,573.8 Z" fill="rgba(244,67,54,0.16)"/><path d="M307.4,602.0 L307.9,600.2 L308.4,599.0 L308.9,597.8 L309.4,596.6 L309.9,595.3 L310.4,594.1 L310.9,592.9 L311.4,591.7 L311.9,590.5 L312.4,589.5 L312.9,589.0 L313.4,588.5 L313.9,588.0 L314.4,587.7 L314.9,587.7 L315.4,587.6 L315.9,587.6 L316.4,587.6 L316.9,587.5 L317.4,587.5 L317.9,587.4 L318.4,587.4 L318.9,587.3 L319.4,587.3 L319.9,587.3 L320.4,587.2 L320.9,587.2 L321.4,587.1 L321.9,586.8 L322.4,586.1 L322.9,585.4 L323.4,584.7 L323.9,584.0 L324.4,583.3 L324.9,582.7 L325.4,582.7 L325.9,582.7 L326.4,582.7 L326.9,582.7 L327.4,582.7 L327.9,582.7 L328.4,582.7 L328.9,582.6 L329.4,582.6 L329.9,582.6 L330.4,582.6 L330.9,582.6 L331.4,582.6 L331.9,582.6 L332.4,582.6 L332.9,582.6 L333.4,582.6 L333.9,582.5 L334.4,582.5 L334.9,582.5 L335.4,582.5 L335.9,582.5 L336.4,582.5 L336.9,582.5 L337.4,582.5 L337.9,582.5 L338.4,582.5 L338.9,582.4 L339.4,582.4 L339.9,582.4 L340.4,582.4 L340.9,582.4 L341.4,582.4 L341.9,582.4 L342.4,582.4 L342.9,582.4 L343.4,582.4 L343.9,582.2 L344.4,582.0 L344.9,581.7 L345.4,581.5 L345.9,581.5 L346.4,581.5 L346.9,581.5 L347.4,581.5 L347.9,581.5 L348.4,581.5 L348.9,581.5 L349.4,581.5 L349.9,581.5 L350.4,581.5 L350.9,581.5 L351.4,581.5 L351.9,581.5 L352.4,581.5 L352.9,581.5 L353.4,581.5 L353.9,581.5 L354.4,581.5 L354.9,581.5 L355.4,581.5 L355.9,581.5 L356.4,581.4 L356.9,581.4 L357.4,581.4 L357.9,581.4 L358.4,581.4 L358.9,581.4 L359.4,581.4 L359.9,581.4 L360.4,581.4 L360.9,581.4 L361.4,581.4 L361.9,581.4 L362.4,581.4 L362.9,581.4 L363.4,581.4 L363.9,581.4 L364.4,581.4 L364.9,581.4 L365.4,581.4 L365.9,581.4 L366.4,581.3 L366.9,581.3 L367.4,581.3 L367.9,581.3 L368.4,581.3 L368.9,581.3 L369.4,581.3 L369.9,581.3 L370.4,581.3 L370.9,581.3 L371.4,581.3 L371.9,581.3 L372.4,581.3 L372.9,581.3 L373.4,581.3 L373.9,581.3 L374.4,581.3 L374.9,581.3 L375.4,581.3 L375.9,581.2 L376.4,581.2 L376.9,581.2 L377.4,581.2 L377.9,581.2 L378.4,581.2 L378.9,581.2 L379.4,581.2 L379.9,581.2 L380.4,581.2 L380.9,581.2 L381.4,581.2 L381.9,581.2 L382.4,581.2 L382.9,581.2 L383.4,581.2 L383.9,581.2 L384.4,581.2 L384.9,581.2 L385.4,581.2 L385.9,581.1 L386.4,581.3 L386.9,583.3 L387.4,585.4 L387.9,587.5 L388.4,589.0 L388.9,589.5 L389.4,589.9 L389.9,590.3 L390.4,590.8 L390.9,591.2 L391.4,591.6 L391.9,592.0 L392.4,592.5 L392.9,592.9 L393.4,593.2 L393.9,593.6 L394.4,594.0 L394.9,594.4 L395.4,594.6 L395.9,594.6 L396.4,594.6 L396.9,594.6 L397.4,594.6 L397.9,594.6 L398.4,594.6 L398.9,594.6 L399.4,594.6 L399.9,594.6 L400.4,594.6 L400.9,594.6 L401.4,594.6 L401.9,594.6 L402.4,594.6 L402.9,594.6 L403.4,594.6 L403.9,594.6 L404.4,594.6 L404.9,594.6 L405.4,594.6 L405.9,594.6 L406.4,594.6 L406.9,594.6 L407.4,594.6 L407.9,594.6 L408.4,594.6 L408.9,594.6 L409.4,594.6 L409.9,594.6 L410.4,594.6 L410.9,594.6 L411.4,594.6 L411.9,594.6 L412.4,594.6 L412.9,594.6 L413.4,594.6 L413.9,594.6 L414.4,591.1 L414.9,587.2 L415.4,583.4 L415.9,580.0 L416.4,578.9 L416.9,577.8 L417.4,576.7 L417.9,575.6 L418.4,574.5 L418.9,573.4 L419.4,572.6 L419.9,571.8 L420.4,571.1 L420.9,570.4 L421.4,569.6 L421.9,568.9 L422.4,568.6 L422.9,568.5 L423.4,568.5 L423.9,568.4 L424.4,568.4 L424.9,568.3 L425.4,568.3 L425.9,568.2 L426.4,568.2 L426.9,568.1 L427.4,568.1 L427.9,568.0 L428.4,568.0 L428.9,567.9 L429.4,567.9 L429.9,567.8 L430.4,567.8 L430.9,567.7 L431.4,567.7 L431.9,567.6 L432.4,567.3 L432.9,566.7 L433.4,566.1 L433.9,565.5 L434.4,564.9 L434.9,564.3 L435.4,563.8 L435.9,563.8 L436.4,563.8 L436.9,563.8 L437.4,563.8 L437.9,563.8 L438.4,563.8 L438.9,563.8 L439.4,563.8 L439.9,563.8 L440.4,563.8 L440.9,563.8 L441.4,563.8 L441.9,563.8 L442.4,563.8 L442.9,563.8 L443.4,563.8 L443.9,563.8 L444.4,563.7 L444.9,563.7 L445.4,563.7 L445.9,563.7 L446.4,563.7 L446.9,563.7 L447.4,563.7 L447.9,563.7 L448.4,563.7 L448.9,563.7 L449.4,563.7 L449.9,563.7 L450.4,563.7 L450.9,563.7 L451.4,563.7 L451.9,563.7 L452.4,563.7 L452.9,563.7 L453.4,563.7 L453.9,563.6 L454.4,563.6 L454.9,563.6 L455.4,563.6 L455.9,563.6 L456.4,563.6 L456.9,563.6 L457.4,563.6 L457.9,563.6 L458.4,563.6 L458.9,563.6 L459.4,563.1 L459.9,562.4 L460.4,561.7 L460.9,561.0 L461.4,560.3 L461.9,560.0 L462.4,559.9 L462.9,559.7 L463.4,559.6 L463.9,559.5 L464.4,559.3 L464.9,559.2 L465.4,559.1 L465.9,559.0 L466.4,558.9 L466.9,558.9 L467.4,558.8 L467.9,558.7 L468.4,558.7 L468.9,558.6 L469.4,558.5 L469.9,558.4 L470.4,558.4 L470.9,558.3 L471.4,558.2 L471.9,558.3 L472.4,558.5 L472.9,558.7 L473.4,558.9 L473.9,559.1 L474.4,559.3 L474.9,559.6 L475.4,559.9 L475.9,560.2 L476.4,560.5 L476.9,560.8 L477.4,561.1 L477.9,561.3 L478.4,561.3 L478.9,561.3 L479.4,561.3 L479.9,561.3 L480.4,561.3 L480.9,561.3 L481.4,561.3 L481.9,561.3 L482.4,561.3 L482.9,561.3 L483.4,561.3 L483.9,561.3 L484.4,561.3 L484.9,561.3 L485.4,561.3 L485.9,561.3 L486.4,561.3 L486.9,561.3 L487.4,561.3 L487.9,561.3 L488.4,561.3 L488.9,561.3 L489.4,561.3 L489.9,561.3 L490.4,561.3 L490.9,561.3 L491.4,561.3 L491.9,561.3 L492.4,561.3 L492.9,561.3 L493.4,561.3 L493.9,561.3 L494.4,561.3 L494.9,561.3 L495.4,561.3 L495.9,561.3 L496.4,561.3 L496.9,561.3 L497.4,561.3 L497.9,561.3 L498.4,561.3 L498.9,561.3 L499.4,561.3 L499.9,561.3 L500.4,561.3 L500.9,561.3 L501.4,561.3 L501.9,561.7 L502.4,562.4 L502.9,563.2 L503.4,563.9 L503.9,564.7 L504.4,565.5 L504.9,566.3 L505.4,567.2 L505.9,568.1 L506.4,569.0 L506.9,569.5 L507.4,569.5 L507.9,569.5 L508.4,569.6 L508.9,569.6 L509.4,569.6 L509.9,569.7 L510.4,569.7 L510.9,569.7 L511.4,569.7 L511.9,569.8 L512.4,569.8 L512.9,569.8 L513.4,569.8 L513.9,575.1 L514.4,583.7 L514.9,591.5 L515.4,591.8 L515.9,592.1 L516.4,592.4 L516.9,592.7 L517.4,593.0 L517.9,593.3 L518.4,593.9 L518.9,594.6 L519.4,595.3 L519.9,596.0 L520.4,596.7 L520.9,597.4 L521.4,597.7 L521.9,597.6 L522.4,597.5 L522.9,597.5 L523.4,597.4 L523.9,597.4 L524.4,597.3 L524.9,597.3 L525.4,597.2 L525.9,597.0 L526.4,596.6 L526.9,596.2 L527.4,595.8 L527.9,595.4 L528.4,595.0 L528.9,594.7 L529.4,594.5 L529.9,594.4 L530.4,594.2 L530.9,594.1 L531.4,593.9 L531.9,593.6 L532.4,593.3 L532.9,593.0 L533.4,592.7 L533.9,592.4 L534.4,592.1 L534.9,592.1 L535.4,592.1 L535.9,592.1 L536.4,592.1 L536.9,592.1 L537.4,592.1 L537.9,592.1 L538.4,592.1 L538.9,592.1 L539.4,592.1 L539.9,592.2 L540.4,592.2 L540.9,592.2 L541.4,592.2 L541.9,592.2 L542.4,592.2 L542.9,592.2 L543.4,592.2 L543.9,592.2 L544.4,592.2 L544.9,592.2 L545.4,592.2 L545.9,592.2 L546.4,592.2 L546.9,592.2 L547.4,592.2 L547.9,592.2 L548.4,592.2 L548.9,592.2 L549.4,592.2 L549.9,592.2 L550.4,592.2 L550.9,592.2 L551.4,592.3 L551.9,592.3 L552.4,592.3 L552.9,592.3 L553.4,592.3 L553.9,592.3 L554.4,592.3 L554.9,592.3 L555.4,592.3 L555.9,592.3 L556.4,592.3 L556.9,592.1 L557.4,591.6 L557.9,591.2 L558.4,590.7 L558.9,590.2 L559.4,589.8 L559.9,589.6 L560.4,589.6 L560.9,589.6 L561.4,589.6 L561.9,589.6 L562.4,589.6 L562.9,589.6 L563.4,589.6 L563.9,589.5 L564.4,589.5 L564.9,589.5 L565.4,589.5 L565.9,589.5 L566.4,589.5 L566.9,589.5 L567.4,589.5 L567.9,589.5 L568.4,589.5 L568.9,589.5 L569.4,589.5 L569.9,589.5 L570.4,589.5 L570.9,589.5 L571.4,589.5 L571.9,589.4 L572.4,589.4 L572.9,589.4 L573.4,589.4 L573.9,589.4 L574.4,589.4 L574.9,589.4 L575.4,589.4 L575.9,589.1 L576.4,587.9 L576.9,586.6 L577.4,585.4 L577.9,584.1 L578.4,583.4 L578.9,583.4 L579.4,583.4 L579.9,583.4 L580.4,583.4 L580.9,583.4 L581.4,583.4 L581.9,583.1 L582.4,582.8 L582.9,582.4 L583.4,582.1 L583.9,581.8 L584.4,581.4 L584.9,581.1 L585.4,580.8 L585.9,579.8 L586.4,576.9 L586.9,573.9 L587.4,570.9 L587.9,567.9 L588.4,566.1 L588.9,565.8 L589.4,565.5 L589.9,565.2 L590.4,564.9 L590.9,564.6 L591.4,564.4 L591.9,562.1 L592.4,559.4 L592.9,556.7 L593.4,554.0 L593.9,551.3 L594.4,547.0 L594.9,542.8 L595.4,538.5 L595.9,534.8 L596.4,531.0 L596.9,529.6 L597.4,529.6 L597.9,529.6 L598.4,529.6 L598.9,529.5 L599.4,529.5 L599.9,529.5 L600.4,529.5 L600.9,529.5 L601.4,529.5 L601.9,529.4 L602.4,529.4 L602.9,529.4 L603.4,529.4 L603.9,529.4 L604.4,529.3 L604.9,529.3 L605.4,529.3 L605.9,529.3 L606.4,529.3 L606.9,529.3 L607.4,528.8 L607.9,527.4 L608.4,525.9 L608.9,524.5 L609.4,523.0 L609.9,521.6 L610.4,520.1 L610.9,517.8 L611.4,515.4 L611.9,513.1 L612.4,510.8 L612.9,508.4 L613.4,506.1 L613.9,503.8 L614.4,499.9 L614.9,494.7 L615.4,489.5 L615.9,489.5 L616.4,489.5 L616.9,489.5 L617.4,489.5 L617.9,489.4 L618.4,489.4 L618.9,489.4 L619.4,489.4 L619.9,489.4 L620.4,489.4 L620.9,489.3 L621.4,489.3 L621.9,489.3 L622.4,489.3 L622.9,489.3 L623.4,489.3 L623.9,489.3 L624.4,489.2 L624.9,489.2 L625.4,489.2 L625.9,489.2 L626.4,489.2 L626.9,489.2 L627.4,489.2 L627.9,489.1 L628.4,489.1 L628.9,489.1 L629.4,489.1 L629.9,489.1 L630.4,489.1 L630.9,489.1 L631.4,489.0 L631.9,489.0 L632.4,489.0 L632.9,489.0 L633.4,489.0 L633.9,489.0 L634.4,489.0 L634.9,488.9 L635.4,488.9 L635.9,488.9 L636.4,488.9 L636.9,488.7 L637.4,488.1 L637.9,487.5 L638.4,487.0 L638.9,486.4 L639.4,485.8 L639.9,485.3 L640.4,484.7 L640.9,484.2 L641.4,483.6 L641.9,483.2 L642.4,483.1 L642.9,482.9 L643.4,482.8 L643.9,482.7 L644.4,482.6 L644.9,482.4 L645.4,482.3 L645.9,482.2 L646.4,482.0 L646.9,481.9 L647.4,481.8 L647.9,481.7 L648.4,481.5 L648.9,481.4 L649.4,481.3 L649.9,481.2 L650.4,481.0 L650.9,480.9 L651.4,480.8 L651.9,480.6 L652.4,480.5 L652.9,480.4 L653.4,480.3 L653.9,480.1 L654.4,479.3 L654.9,478.3 L655.4,477.3 L655.9,476.3 L656.4,475.4 L656.9,474.4 L657.4,473.8 L657.9,473.8 L658.4,473.8 L658.9,473.8 L659.4,473.8 L659.9,473.8 L660.4,473.8 L660.9,473.8 L661.4,473.8 L661.9,473.8 L662.4,473.8 L662.9,473.8 L663.4,473.8 L663.9,473.8 L664.4,473.8 L664.9,473.8 L665.4,473.8 L665.9,473.8 L666.4,473.8 L666.9,473.8 L667.4,473.8 L667.9,473.8 L668.4,473.8 L668.9,473.8 L669.4,473.8 L669.9,473.8 L670.4,473.8 L670.9,473.8 L671.4,473.8 L671.9,473.8 L672.4,473.8 L672.9,473.8 L673.4,473.8 L673.9,473.8 L674.4,473.8 L674.9,473.8 L675.4,473.8 L675.9,473.8 L676.4,473.8 L676.9,473.8 L677.4,473.8 L677.9,473.8 L678.4,473.8 L678.9,473.8 L679.4,473.8 L679.9,473.8 L680.4,474.1 L680.9,474.3 L681.4,474.6 L681.9,474.9 L682.4,475.1 L682.9,475.4 L683.4,475.6 L683.9,475.9 L684.4,476.2 L684.9,476.4 L685.4,476.7 L685.9,477.0 L686.4,477.2 L686.9,477.5 L687.4,477.7 L687.9,478.0 L688.4,478.3 L688.9,478.5 L689.4,478.8 L689.9,479.1 L690.4,479.5 L690.9,480.0 L691.4,480.5 L691.9,481.0 L692.4,481.5 L692.9,481.5 L693.4,481.5 L693.9,481.5 L694.4,481.5 L694.9,481.5 L695.4,481.5 L695.9,481.5 L696.4,481.5 L696.9,481.5 L697.4,481.5 L697.9,481.5 L698.4,481.5 L698.9,481.5 L699.4,481.5 L699.9,481.5 L700.4,481.5 L700.9,481.5 L701.4,481.5 L701.9,481.5 L702.4,481.5 L702.9,481.5 L703.4,481.5 L703.9,481.5 L704.4,481.5 L704.9,481.5 L705.4,481.5 L705.9,481.5 L706.4,481.5 L706.9,481.5 L707.4,481.5 L707.9,481.5 L708.4,481.5 L708.9,481.2 L709.4,480.7 L709.9,480.2 L710.4,479.7 L710.9,479.2 L711.4,478.7 L711.9,476.7 L712.4,474.4 L712.9,472.2 L713.4,469.9 L713.9,468.0 L714.4,467.5 L714.9,467.0 L715.4,466.5 L715.9,466.1 L716.4,465.6 L716.9,465.3 L717.4,465.1 L717.9,465.0 L718.4,464.9 L718.9,464.8 L719.4,464.7 L719.9,464.6 L720.4,464.4 L720.9,464.3 L721.4,463.7 L721.9,462.9 L722.4,462.1 L722.9,461.3 L723.4,460.5 L723.9,459.7 L724.4,459.0 L724.9,458.2 L725.4,457.4 L725.9,456.6 L726.4,455.8 L726.9,455.0 L727.4,454.3 L727.9,452.9 L728.4,450.9 L728.9,448.9 L729.4,446.8 L729.9,444.8 L730.4,442.8 L730.9,441.0 L731.4,439.3 L731.9,437.6 L732.4,436.0 L732.9,434.3 L733.4,434.2 L733.9,434.2 L734.4,434.1 L734.9,434.0 L735.4,434.0 L735.9,433.9 L736.4,433.8 L736.9,432.9 L737.4,430.7 L737.9,428.5 L738.4,426.2 L738.9,424.0 L739.4,421.8 L739.9,419.6 L740.4,417.5 L740.9,416.0 L741.4,414.5 L741.9,413.0 L742.4,411.5 L742.9,410.0 L743.4,408.5 L743.9,408.0 L744.4,407.6 L744.9,407.3 L745.4,406.9 L745.9,406.5 L746.4,406.2 L746.9,405.8 L747.4,405.6 L747.9,405.5 L748.4,405.5 L748.9,405.4 L749.4,405.4 L749.9,405.4 L750.4,405.3 L750.9,405.3 L751.4,405.2 L751.9,404.9 L752.4,404.3 L752.9,403.8 L753.4,403.2 L753.9,402.6 L754.4,402.1 L754.9,401.7 L755.4,401.7 L755.9,401.6 L756.4,401.6 L756.9,401.6 L757.4,401.6 L757.9,401.5 L758.4,401.5 L758.9,401.5 L759.4,401.4 L759.9,401.4 L760.4,401.4 L760.9,401.4 L761.4,401.3 L761.9,401.3 L762.4,401.3 L762.9,401.3 L763.4,401.2 L763.9,401.2 L764.4,400.8 L764.9,400.1 L765.4,399.4 L765.9,398.7 L766.4,398.0 L766.9,397.2 L767.4,396.5 L767.9,395.8 L768.4,395.1 L768.9,394.9 L769.4,394.8 L769.9,394.7 L770.4,394.6 L770.9,394.5 L771.4,394.4 L771.9,394.3 L772.4,394.2 L772.9,394.1 L773.4,394.0 L773.9,393.9 L774.4,393.8 L774.9,393.7 L775.4,393.6 L775.9,393.5 L776.4,393.4 L776.9,393.3 L777.4,393.2 L777.9,393.2 L778.4,393.1 L778.9,393.0 L779.4,392.9 L779.9,392.8 L780.4,392.7 L780.9,391.7 L781.4,390.6 L781.9,389.5 L782.4,388.4 L782.9,387.3 L783.4,386.2 L783.9,385.2 L784.4,384.4 L784.9,384.0 L785.4,383.7 L785.9,383.3 L786.4,382.9 L786.9,382.6 L787.4,382.2 L787.9,381.9 L788.4,381.5 L788.9,379.8 L789.4,377.3 L789.9,374.8 L790.4,372.3 L790.9,369.8 L791.4,367.3 L791.9,364.8 L792.4,362.3 L792.9,359.8 L793.4,359.4 L793.9,359.4 L794.4,359.3 L794.9,359.3 L795.4,359.3 L795.9,359.2 L796.4,359.2 L796.9,359.1 L797.4,359.1 L797.9,359.0 L798.4,359.0 L798.9,359.0 L799.4,358.9 L799.9,358.9 L800.4,358.8 L800.9,358.5 L801.4,358.1 L801.9,357.8 L802.4,357.4 L802.9,357.0 L803.4,356.6 L803.9,356.2 L804.4,355.9 L804.9,355.5 L805.4,355.4 L805.9,355.3 L806.4,355.2 L806.9,355.2 L807.4,355.1 L807.9,355.1 L808.4,355.0 L808.9,355.0 L809.4,354.9 L809.9,354.9 L810.4,354.8 L810.9,354.8 L811.4,354.7 L811.9,354.7 L812.4,354.6 L812.9,354.5 L813.4,354.5 L813.9,354.4 L814.4,354.4 L814.9,354.3 L815.4,354.3 L815.9,354.2 L816.4,354.2 L816.9,354.1 L817.4,354.1 L817.9,354.0 L818.4,354.0 L818.9,353.9 L819.4,353.9 L819.9,353.8 L820.4,353.7 L820.9,353.7 L821.4,353.6 L821.9,353.6 L822.4,353.5 L822.9,351.3 L823.4,347.8 L823.9,344.3 L824.4,340.8 L824.9,340.2 L825.4,340.1 L825.9,340.0 L826.4,339.8 L826.9,339.7 L827.4,339.6 L827.9,339.4 L828.4,339.8 L828.9,340.9 L829.4,342.1 L829.9,343.2 L830.4,344.4 L830.9,345.6 L831.4,346.6 L831.9,346.6 L832.4,346.6 L832.9,346.6 L833.4,346.6 L833.9,346.6 L834.4,346.6 L834.9,346.6 L835.4,346.6 L835.9,346.6 L836.4,346.6 L836.9,346.6 L837.4,346.6 L837.9,346.6 L838.4,346.6 L838.9,346.6 L839.4,346.6 L839.9,346.6 L840.4,346.6 L840.9,346.6 L841.4,346.6 L841.9,346.6 L842.4,346.6 L842.9,346.6 L843.4,346.6 L843.9,346.6 L844.4,346.6 L844.9,346.6 L845.4,346.6 L845.9,346.6 L846.4,346.6 L846.9,346.6 L847.4,346.6 L847.9,346.0 L848.4,344.9 L848.9,343.7 L849.4,342.5 L849.9,341.4 L850.4,340.2 L850.9,339.0 L851.4,337.9 L851.9,337.5 L852.4,337.2 L852.9,336.8 L853.4,336.5 L853.9,336.2 L854.4,335.8 L854.9,335.5 L855.4,335.3 L855.9,335.3 L856.4,335.3 L856.9,335.3 L857.4,335.3 L857.9,335.3 L858.4,335.3 L858.9,335.2 L859.4,335.2 L859.9,335.2 L860.4,335.2 L860.9,335.2 L861.4,335.2 L861.9,335.2 L862.4,335.2 L862.9,335.1 L863.4,335.1 L863.9,335.1 L864.4,335.1 L864.9,335.1 L865.4,335.1 L865.9,335.1 L866.4,335.1 L866.9,335.0 L867.4,335.0 L867.9,335.0 L868.4,335.0 L868.9,335.0 L869.4,335.0 L869.9,335.0 L870.4,335.0 L870.9,334.9 L871.4,334.9 L871.9,334.9 L872.4,334.9 L872.9,334.9 L873.4,334.9 L873.9,334.9 L874.4,334.9 L874.9,334.8 L875.4,334.8 L875.9,334.8 L876.4,334.8 L876.9,334.8 L877.4,334.8 L877.9,334.8 L878.4,334.8 L878.9,334.7 L879.4,334.7 L879.9,334.7 L880.4,334.5 L880.9,333.9 L881.4,333.4 L881.9,332.8 L882.4,332.2 L882.9,331.8 L883.4,331.8 L883.9,331.8 L884.4,331.8 L884.9,331.8 L885.4,331.8 L885.9,331.8 L886.4,331.8 L886.9,331.8 L887.4,331.8 L887.9,331.8 L888.4,331.8 L888.9,331.8 L889.4,332.4 L889.9,333.2 L890.4,333.9 L890.9,334.7 L891.4,335.5 L891.9,336.2 L892.4,337.4 L892.9,339.0 L893.4,340.6 L893.9,342.2 L894.4,343.8 L894.9,345.4 L895.4,346.6 L895.9,346.6 L896.4,346.6 L896.9,346.7 L897.4,346.7 L897.9,346.7 L898.4,346.7 L898.9,346.7 L899.4,346.7 L899.9,346.7 L900.4,346.8 L900.9,346.8 L901.4,346.8 L901.9,346.8 L902.4,346.8 L902.9,346.8 L903.4,346.8 L903.9,346.9 L904.4,347.2 L904.9,347.8 L905.4,348.3 L905.9,348.9 L906.4,349.4 L906.9,350.0 L907.4,350.5 L907.9,351.0 L908.4,351.0 L908.9,351.0 L909.4,351.0 L909.9,351.0 L910.4,351.0 L910.9,351.0 L911.4,351.0 L911.9,351.0 L912.4,351.0 L912.9,351.0 L913.4,351.0 L913.9,351.0 L914.4,351.0 L914.9,351.0 L915.4,351.0 L915.9,351.0 L916.4,351.0 L916.9,350.3 L917.4,349.3 L917.9,348.2 L918.4,347.2 L918.9,346.1 L919.4,345.0 L919.9,344.4 L920.4,344.4 L920.9,344.4 L921.4,344.4 L921.9,344.4 L922.4,344.4 L922.9,344.4 L923.4,344.4 L923.9,344.4 L924.4,344.8 L924.9,345.5 L925.4,346.3 L925.9,347.0 L926.4,347.8 L926.9,348.1 L927.4,348.1 L927.9,348.1 L928.4,348.2 L928.9,348.2 L929.4,348.2 L929.9,348.2 L930.4,348.2 L930.9,348.2 L931.4,348.2 L931.9,348.2 L932.4,348.2 L932.9,348.2 L933.4,348.3 L933.9,348.3 L934.4,348.3 L934.9,348.3 L935.4,348.3 L935.9,348.3 L936.4,348.3 L936.9,348.3 L937.4,348.3 L937.9,348.3 L938.4,348.3 L938.9,348.4 L939.4,348.4 L939.9,348.4 L940.4,348.4 L940.9,348.4 L941.4,348.4 L941.9,348.4 L942.4,348.4 L942.9,348.4 L943.4,348.4 L943.9,348.5 L944.4,348.5 L944.9,348.5 L945.4,348.5 L945.9,348.5 L946.4,348.9 L946.9,349.5 L947.4,350.1 L947.9,350.7 L948.4,351.3 L948.9,351.9 L949.4,352.3 L949.9,352.4 L950.4,352.5 L950.9,352.6 L951.4,352.8 L951.9,352.9 L952.4,353.0 L952.9,353.1 L953.4,353.2 L953.9,353.3 L954.4,353.4 L954.9,353.5 L955.4,353.6 L955.9,353.8 L956.4,353.9 L956.9,354.0 L957.4,354.1 L957.9,354.2 L958.4,354.3 L958.9,354.4 L959.4,354.5 L959.9,354.6 L960.4,354.8 L960.9,355.2 L961.4,355.6 L961.9,356.1 L962.4,356.5 L962.9,357.0 L963.4,357.5 L963.9,357.6 L964.4,357.6 L964.9,357.6 L965.4,357.6 L965.9,357.6 L966.4,357.6 L966.9,357.6 L967.4,357.6 L967.9,357.6 L968.4,357.6 L968.9,357.6 L969.4,357.6 L969.9,357.6 L970.4,357.6 L970.9,357.6 L971.4,357.6 L971.9,357.6 L972.4,357.6 L972.9,357.6 L973.4,357.6 L973.9,357.6 L974.4,357.2 L974.9,356.6 L975.4,356.0 L975.9,355.5 L976.4,354.9 L976.9,354.3 L977.4,353.7 L977.9,353.2 L978.4,353.0 L978.9,352.8 L979.4,352.5 L979.9,352.3 L980.4,352.1 L980.9,351.8 L981.4,351.6 L981.9,351.4 L982.4,351.1 L982.9,350.9 L983.4,350.7 L983.9,350.4 L984.4,350.2 L984.9,349.6 L985.4,348.2 L985.9,346.9 L986.4,345.6 L986.9,344.2 L987.4,342.9 L987.9,341.6 L988.4,340.2 L988.9,340.0 L989.4,339.9 L989.9,339.9 L990.4,339.8 L990.9,339.7 L991.4,339.7 L991.9,339.6 L992.4,339.5 L992.9,339.5 L993.4,339.4 L993.9,338.5 L994.4,337.4 L994.9,336.3 L995.4,335.2 L995.9,334.1 L996.4,333.0 L996.9,332.5 L997.4,332.4 L997.9,332.4 L998.4,332.3 L998.9,332.3 L999.4,332.2 L999.9,332.2 L1000.4,332.1 L1000.9,332.0 L1001.4,332.0 L1001.9,331.9 L1002.4,331.7 L1002.9,331.2 L1003.4,330.7 L1003.9,330.2 L1004.4,329.7 L1004.9,329.2 L1005.4,328.8 L1005.9,328.7 L1006.4,328.6 L1006.9,328.5 L1007.4,328.4 L1007.9,328.3 L1008.4,328.3 L1008.9,328.2 L1009.4,326.6 L1009.9,323.5 L1010.4,320.4 L1010.9,317.3 L1011.4,314.2 L1011.9,311.1 L1012.4,308.7 L1012.9,308.6 L1013.4,308.6 L1013.9,308.5 L1014.4,308.5 L1014.9,308.4 L1015.4,308.4 L1015.9,308.3 L1016.4,308.3 L1016.9,308.2 L1017.4,308.2 L1017.9,308.1 L1018.4,308.1 L1018.9,307.9 L1019.4,307.7 L1019.9,307.5 L1020.4,307.2 L1020.9,307.0 L1021.4,306.8 L1021.9,306.5 L1022.4,306.3 L1022.9,306.1 L1023.4,305.8 L1023.9,305.6 L1024.4,305.4 L1024.9,305.1 L1025.4,304.9 L1025.9,304.7 L1026.4,304.5 L1026.9,304.1 L1027.4,303.7 L1027.9,303.3 L1028.4,302.9 L1028.9,302.5 L1029.4,302.1 L1029.9,301.6 L1030.4,301.2 L1030.9,300.8 L1031.4,300.3 L1031.9,299.9 L1032.4,299.4 L1032.9,298.9 L1033.4,298.5 L1033.9,298.0 L1034.4,297.6 L1034.9,297.2 L1035.4,297.1 L1035.9,297.1 L1036.4,297.0 L1036.9,296.9 L1037.4,296.9 L1037.9,296.8 L1038.4,296.8 L1038.9,296.7 L1039.4,296.7 L1039.9,296.6 L1040.4,296.6 L1040.9,296.5 L1041.4,296.5 L1041.9,296.4 L1042.4,296.4 L1042.9,296.3 L1043.4,296.3 L1043.9,296.2 L1044.4,293.6 L1044.9,290.6 L1045.4,287.6 L1045.9,284.6 L1046.4,281.6 L1046.9,280.6 L1047.4,279.9 L1047.9,279.3 L1048.4,278.6 L1048.9,277.9 L1049.4,277.3 L1049.9,276.6 L1050.4,275.9 L1050.9,275.1 L1051.4,274.3 L1051.9,273.5 L1052.4,272.7 L1052.9,271.9 L1053.4,271.1 L1053.9,271.1 L1054.4,271.1 L1054.9,271.1 L1055.4,271.1 L1055.9,271.1 L1056.4,271.1 L1056.9,271.1 L1057.4,271.1 L1057.9,271.0 L1058.4,271.0 L1058.9,271.0 L1059.4,271.0 L1059.9,271.0 L1060.4,271.0 L1060.9,271.0 L1061.4,271.0 L1061.9,271.0 L1062.4,271.0 L1062.9,271.0 L1063.4,270.9 L1063.9,270.9 L1064.4,270.9 L1064.9,270.9 L1065.4,270.9 L1065.9,270.9 L1066.4,270.9 L1066.9,270.9 L1067.4,270.6 L1067.9,270.1 L1068.4,269.6 L1068.9,269.0 L1069.4,268.5 L1069.9,268.0 L1070.4,267.4 L1070.9,266.9 L1071.4,266.4 L1071.9,265.8 L1072.4,265.3 L1072.9,264.8 L1073.4,264.7 L1073.9,264.6 L1074.4,264.5 L1074.9,264.4 L1075.4,264.3 L1075.9,264.2 L1076.4,264.2 L1076.9,264.2 L1077.4,264.2 L1077.9,264.2 L1078.4,264.2 L1078.9,264.2 L1079.4,264.2 L1079.9,264.2 L1080.4,264.2 L1080.9,264.2 L1081.4,264.2 L1081.9,264.2 L1082.4,264.2 L1082.9,264.2 L1083.4,264.2 L1083.9,264.2 L1084.4,264.2 L1084.9,264.2 L1085.4,264.2 L1085.9,264.2 L1086.4,264.2 L1086.9,264.2 L1087.4,264.2 L1087.9,264.2 L1088.4,264.2 L1088.9,264.2 L1089.4,264.2 L1089.9,264.2 L1090.4,264.2 L1090.9,264.2 L1091.4,264.2 L1091.9,264.2 L1092.4,264.2 L1092.9,264.2 L1093.4,264.2 L1093.9,264.2 L1094.4,264.2 L1094.9,264.2 L1095.4,264.2 L1095.9,264.2 L1096.4,264.2 L1096.9,264.2 L1097.4,264.2 L1097.9,264.2 L1098.4,264.2 L1098.9,264.2 L1099.4,264.2 L1099.9,264.2 L1100.4,264.2 L1100.9,264.2 L1101.4,264.2 L1101.9,264.2 L1102.4,264.2 L1102.9,264.2 L1103.4,264.2 L1103.9,264.2 L1104.4,264.2 L1104.9,264.2 L1105.4,264.2 L1105.9,264.2 L1106.4,264.2 L1106.9,263.8 L1107.4,263.1 L1107.9,262.3 L1108.4,261.6 L1108.9,260.8 L1109.4,260.1 L1109.9,259.3 L1110.4,258.6 L1110.9,258.5 L1111.4,258.4 L1111.9,258.3 L1112.4,258.2 L1112.9,258.1 L1113.4,258.1 L1113.9,258.0 L1114.4,257.9 L1114.9,257.8 L1115.4,257.7 L1115.9,257.6 L1116.4,257.6 L1116.9,257.5 L1117.4,257.5 L1117.9,257.5 L1118.4,257.5 L1118.9,257.4 L1119.4,257.4 L1119.9,257.4 L1120.4,257.4 L1120.9,257.3 L1121.4,257.3 L1121.9,257.3 L1122.4,257.2 L1122.9,257.2 L1123.4,257.2 L1123.9,257.2 L1124.4,257.1 L1124.9,257.1 L1125.4,257.1 L1125.9,257.0 L1126.4,256.9 L1126.9,256.7 L1127.4,256.6 L1127.9,256.5 L1128.4,256.4 L1128.9,256.3 L1129.4,256.2 L1129.9,256.0 L1130.4,255.9 L1130.9,255.8 L1131.4,255.7 L1131.9,255.6 L1132.4,255.5 L1132.9,255.9 L1133.4,256.3 L1133.9,256.6 L1134.4,257.0 L1134.9,257.3 L1135.4,257.3 L1135.9,257.3 L1136.4,257.3 L1136.9,257.3 L1137.4,257.3 L1137.9,257.3 L1138.4,257.3 L1138.9,257.3 L1139.4,257.3 L1139.9,257.3 L1140.4,257.3 L1140.9,257.3 L1141.4,257.3 L1141.9,257.3 L1142.4,257.3 L1142.9,257.3 L1143.4,257.3 L1143.9,257.3 L1144.4,257.1 L1144.9,256.8 L1145.4,256.5 L1145.9,256.2 L1146.4,255.9 L1146.9,255.6 L1147.4,255.3 L1147.9,255.0 L1148.4,254.7 L1148.9,254.5 L1149.4,254.2 L1149.9,253.9 L1150.4,253.6 L1150.9,253.3 L1151.4,253.0 L1151.9,252.7 L1152.4,252.4 L1152.9,252.1 L1153.4,251.9 L1153.9,251.7 L1154.4,251.5 L1154.9,251.3 L1155.4,251.0 L1155.9,250.8 L1156.4,250.6 L1156.9,250.4 L1157.4,250.2 L1157.9,249.8 L1158.4,246.2 L1158.9,242.6 L1159.4,239.1 L1159.9,235.5 L1160.4,232.1 L1160.9,232.0 L1161.4,232.0 L1161.9,232.0 L1162.4,232.0 L1162.9,231.9 L1163.4,231.9 L1163.9,231.9 L1164.4,231.8 L1164.9,231.8 L1165.4,231.8 L1165.9,231.7 L1166.4,231.7 L1166.9,231.7 L1167.4,231.7 L1167.9,231.6 L1168.4,231.6 L1168.9,231.6 L1169.4,231.5 L1169.9,231.5 L1170.4,231.5 L1170.9,231.5 L1171.4,230.3 L1171.9,228.8 L1172.4,227.3 L1172.9,225.8 L1173.4,224.3 L1173.9,222.8 L1174.4,221.3 L1174.9,219.9 L1175.4,218.6 L1175.9,217.4 L1176.4,216.1 L1176.9,214.9 L1177.4,213.6 L1177.9,212.4 L1178.4,211.1 L1178.9,210.8 L1179.4,210.7 L1179.9,210.7 L1180.4,210.7 L1180.9,210.7 L1181.4,210.7 L1181.9,210.6 L1182.4,210.6 L1182.9,210.6 L1183.4,210.6 L1183.9,210.6 L1184.4,210.6 L1184.9,210.5 L1185.4,210.5 L1185.9,210.5 L1186.4,210.5 L1186.9,210.5 L1187.4,210.5 L1187.9,210.4 L1188.4,210.4 L1188.9,210.4 L1189.4,210.3 L1189.9,209.9 L1190.4,209.6 L1190.9,209.2 L1191.4,208.9 L1191.9,208.6 L1192.4,208.3 L1192.9,208.3 L1193.4,208.3 L1193.9,208.3 L1194.4,208.3 L1194.9,208.3 L1195.4,208.3 L1195.9,208.3 L1196.4,207.7 L1196.9,206.8 L1197.4,205.9 L1197.9,205.0 L1198.4,204.1 L1198.9,203.2 L1199.4,202.3 L1199.9,201.3 L1200.4,200.4 L1200.9,199.5 L1201.4,199.5 L1201.9,199.4 L1202.4,199.3 L1202.9,199.3 L1203.4,199.2 L1203.9,199.1 L1204.4,199.0 L1204.9,199.0 L1205.4,198.9 L1205.9,198.8 L1206.4,198.8 L1206.9,198.7 L1207.4,198.5 L1207.9,198.2 L1208.4,197.9 L1208.9,197.6 L1209.4,197.2 L1209.9,196.9 L1210.4,196.6 L1210.9,196.3 L1211.4,196.0 L1211.9,195.7 L1212.4,195.3 L1212.9,195.0 L1213.4,194.7 L1213.9,194.4 L1214.4,194.1 L1214.9,193.3 L1215.4,192.0 L1215.9,190.8 L1216.4,189.5 L1216.9,188.2 L1217.4,186.9 L1217.9,185.6 L1218.4,184.3 L1218.9,183.0 L1219.4,181.3 L1219.9,179.3 L1220.4,177.3 L1220.9,175.3 L1221.4,173.3 L1221.9,171.3 L1222.4,169.6 L1222.9,168.2 L1223.4,166.9 L1223.9,165.6 L1224.4,164.3 L1224.9,163.0 L1225.4,161.7 L1225.9,160.4 L1226.4,159.0 L1226.9,158.3 L1227.4,157.8 L1227.9,157.4 L1228.4,156.9 L1228.9,156.5 L1229.4,156.2 L1229.9,156.1 L1230.4,156.0 L1230.9,155.9 L1231.4,155.8 L1231.9,155.7 L1232.4,155.6 L1232.9,155.5 L1233.4,155.4 L1233.9,155.3 L1234.4,154.9 L1234.9,154.3 L1235.4,153.7 L1235.9,153.1 L1236.4,152.5 L1236.9,152.2 L1237.4,151.9 L1237.9,151.7 L1238.4,151.5 L1238.9,151.3 L1239.4,151.0 L1239.9,150.8 L1240.4,150.6 L1240.9,150.4 L1241.4,150.1 L1241.9,150.0 L1242.4,150.0 L1242.9,149.9 L1243.4,149.9 L1243.9,149.9 L1244.4,149.8 L1244.9,149.8 L1245.4,149.8 L1245.9,149.7 L1246.4,149.7 L1246.9,149.7 L1247.4,149.6 L1247.9,149.6 L1248.4,149.5 L1248.9,149.5 L1249.4,149.5 L1249.9,149.4 L1250.4,149.4 L1250.9,149.4 L1251.4,149.4 L1251.9,149.4 L1252.4,149.4 L1252.9,149.3 L1253.4,149.3 L1253.9,149.3 L1254.4,149.3 L1254.9,149.3 L1255.4,149.3 L1255.9,149.3 L1256.4,149.3 L1256.9,149.2 L1257.4,149.2 L1257.9,149.2 L1258.4,149.2 L1258.9,149.2 L1259.4,149.2 L1259.9,149.2 L1260.4,149.2 L1260.9,149.1 L1261.4,149.1 L1261.9,149.1 L1262.4,149.1 L1262.9,149.1 L1263.4,149.1 L1263.9,149.1 L1264.4,149.1 L1264.9,149.0 L1265.4,149.0 L1265.4,246.5 L1264.9,246.5 L1264.4,246.5 L1263.9,246.5 L1263.4,246.5 L1262.9,246.5 L1262.4,246.5 L1261.9,246.5 L1261.4,246.5 L1260.9,246.5 L1260.4,246.5 L1259.9,246.5 L1259.4,246.5 L1258.9,246.5 L1258.4,246.5 L1257.9,246.5 L1257.4,246.5 L1256.9,246.5 L1256.4,246.5 L1255.9,246.5 L1255.4,246.5 L1254.9,246.5 L1254.4,246.5 L1253.9,246.5 L1253.4,246.5 L1252.9,246.5 L1252.4,246.5 L1251.9,246.5 L1251.4,246.5 L1250.9,246.5 L1250.4,246.5 L1249.9,246.5 L1249.4,246.5 L1248.9,246.5 L1248.4,246.5 L1247.9,246.5 L1247.4,246.5 L1246.9,246.5 L1246.4,246.5 L1245.9,246.5 L1245.4,246.5 L1244.9,246.5 L1244.4,246.5 L1243.9,246.5 L1243.4,246.5 L1242.9,246.5 L1242.4,246.5 L1241.9,246.7 L1241.4,247.0 L1240.9,247.2 L1240.4,247.4 L1239.9,247.7 L1239.4,247.9 L1238.9,248.1 L1238.4,248.1 L1237.9,248.1 L1237.4,248.1 L1236.9,248.1 L1236.4,248.1 L1235.9,248.1 L1235.4,248.2 L1234.9,248.2 L1234.4,248.2 L1233.9,248.2 L1233.4,248.2 L1232.9,248.2 L1232.4,248.2 L1231.9,248.3 L1231.4,248.3 L1230.9,248.3 L1230.4,248.3 L1229.9,248.3 L1229.4,248.3 L1228.9,248.4 L1228.4,248.4 L1227.9,248.4 L1227.4,248.4 L1226.9,248.4 L1226.4,248.8 L1225.9,250.0 L1225.4,251.1 L1224.9,252.2 L1224.4,253.3 L1223.9,254.6 L1223.4,256.2 L1222.9,257.8 L1222.4,259.4 L1221.9,261.0 L1221.4,262.6 L1220.9,264.2 L1220.4,265.8 L1219.9,267.4 L1219.4,269.0 L1218.9,270.6 L1218.4,272.2 L1217.9,272.2 L1217.4,272.2 L1216.9,272.2 L1216.4,272.2 L1215.9,272.2 L1215.4,272.2 L1214.9,272.2 L1214.4,272.2 L1213.9,272.2 L1213.4,272.2 L1212.9,272.2 L1212.4,272.2 L1211.9,272.2 L1211.4,272.2 L1210.9,272.2 L1210.4,272.2 L1209.9,272.2 L1209.4,272.2 L1208.9,272.2 L1208.4,272.2 L1207.9,272.2 L1207.4,272.2 L1206.9,272.2 L1206.4,272.2 L1205.9,272.2 L1205.4,272.2 L1204.9,272.2 L1204.4,272.2 L1203.9,272.2 L1203.4,272.2 L1202.9,272.2 L1202.4,272.2 L1201.9,272.2 L1201.4,272.2 L1200.9,272.2 L1200.4,272.2 L1199.9,272.2 L1199.4,272.2 L1198.9,272.2 L1198.4,272.2 L1197.9,272.2 L1197.4,272.2 L1196.9,272.2 L1196.4,272.2 L1195.9,272.2 L1195.4,272.2 L1194.9,272.2 L1194.4,272.2 L1193.9,272.2 L1193.4,272.2 L1192.9,272.2 L1192.4,272.2 L1191.9,272.2 L1191.4,272.2 L1190.9,272.2 L1190.4,272.2 L1189.9,272.2 L1189.4,272.2 L1188.9,272.2 L1188.4,272.2 L1187.9,272.2 L1187.4,272.2 L1186.9,272.2 L1186.4,272.2 L1185.9,272.2 L1185.4,272.2 L1184.9,272.2 L1184.4,272.2 L1183.9,272.2 L1183.4,272.2 L1182.9,272.2 L1182.4,272.2 L1181.9,272.2 L1181.4,272.2 L1180.9,272.2 L1180.4,272.2 L1179.9,272.2 L1179.4,272.2 L1178.9,272.2 L1178.4,272.2 L1177.9,272.7 L1177.4,273.9 L1176.9,275.1 L1176.4,276.3 L1175.9,277.6 L1175.4,278.8 L1174.9,280.0 L1174.4,281.2 L1173.9,281.5 L1173.4,281.5 L1172.9,281.5 L1172.4,281.5 L1171.9,281.5 L1171.4,281.5 L1170.9,281.5 L1170.4,281.5 L1169.9,281.5 L1169.4,281.5 L1168.9,281.5 L1168.4,281.5 L1167.9,281.5 L1167.4,281.5 L1166.9,281.5 L1166.4,281.5 L1165.9,281.5 L1165.4,281.5 L1164.9,281.5 L1164.4,281.5 L1163.9,281.5 L1163.4,281.5 L1162.9,281.5 L1162.4,281.5 L1161.9,281.5 L1161.4,282.6 L1160.9,284.4 L1160.4,286.2 L1159.9,288.0 L1159.4,289.8 L1158.9,291.6 L1158.4,293.5 L1157.9,295.3 L1157.4,295.3 L1156.9,295.3 L1156.4,295.3 L1155.9,295.3 L1155.4,295.3 L1154.9,295.3 L1154.4,295.3 L1153.9,295.3 L1153.4,295.3 L1152.9,295.3 L1152.4,295.3 L1151.9,295.3 L1151.4,295.2 L1150.9,295.2 L1150.4,295.2 L1149.9,295.2 L1149.4,295.2 L1148.9,295.2 L1148.4,295.2 L1147.9,295.2 L1147.4,295.2 L1146.9,295.2 L1146.4,295.2 L1145.9,295.2 L1145.4,295.2 L1144.9,295.2 L1144.4,295.2 L1143.9,295.2 L1143.4,295.2 L1142.9,295.2 L1142.4,295.2 L1141.9,295.2 L1141.4,295.2 L1140.9,295.2 L1140.4,295.2 L1139.9,295.2 L1139.4,295.2 L1138.9,295.2 L1138.4,295.2 L1137.9,295.2 L1137.4,295.2 L1136.9,295.2 L1136.4,295.2 L1135.9,295.2 L1135.4,295.2 L1134.9,295.2 L1134.4,295.2 L1133.9,295.2 L1133.4,295.2 L1132.9,295.2 L1132.4,295.2 L1131.9,295.2 L1131.4,295.2 L1130.9,295.2 L1130.4,295.2 L1129.9,295.2 L1129.4,295.2 L1128.9,295.2 L1128.4,295.2 L1127.9,295.2 L1127.4,295.2 L1126.9,295.2 L1126.4,295.2 L1125.9,295.2 L1125.4,295.2 L1124.9,295.2 L1124.4,295.2 L1123.9,295.2 L1123.4,295.2 L1122.9,295.2 L1122.4,295.2 L1121.9,295.2 L1121.4,295.2 L1120.9,295.2 L1120.4,295.2 L1119.9,295.2 L1119.4,295.2 L1118.9,295.2 L1118.4,295.2 L1117.9,295.2 L1117.4,295.2 L1116.9,295.2 L1116.4,295.2 L1115.9,295.2 L1115.4,295.2 L1114.9,295.2 L1114.4,295.2 L1113.9,295.2 L1113.4,295.2 L1112.9,295.2 L1112.4,295.2 L1111.9,295.2 L1111.4,295.2 L1110.9,295.2 L1110.4,295.2 L1109.9,295.2 L1109.4,297.2 L1108.9,299.9 L1108.4,302.6 L1107.9,305.3 L1107.4,308.0 L1106.9,308.8 L1106.4,308.9 L1105.9,309.0 L1105.4,309.0 L1104.9,309.1 L1104.4,309.2 L1103.9,309.3 L1103.4,309.5 L1102.9,310.1 L1102.4,310.7 L1101.9,311.2 L1101.4,311.8 L1100.9,312.4 L1100.4,313.0 L1099.9,313.6 L1099.4,314.2 L1098.9,314.8 L1098.4,315.2 L1097.9,315.3 L1097.4,315.3 L1096.9,315.3 L1096.4,315.3 L1095.9,315.3 L1095.4,315.3 L1094.9,315.3 L1094.4,315.3 L1093.9,315.3 L1093.4,315.3 L1092.9,315.3 L1092.4,315.3 L1091.9,315.3 L1091.4,315.3 L1090.9,315.4 L1090.4,315.4 L1089.9,315.4 L1089.4,315.4 L1088.9,315.4 L1088.4,315.4 L1087.9,315.4 L1087.4,315.4 L1086.9,315.4 L1086.4,315.4 L1085.9,315.4 L1085.4,315.4 L1084.9,315.4 L1084.4,315.4 L1083.9,315.4 L1083.4,315.5 L1082.9,315.5 L1082.4,315.5 L1081.9,315.5 L1081.4,315.5 L1080.9,315.5 L1080.4,315.5 L1079.9,315.5 L1079.4,315.5 L1078.9,315.5 L1078.4,315.5 L1077.9,315.5 L1077.4,315.5 L1076.9,315.5 L1076.4,315.6 L1075.9,315.6 L1075.4,315.6 L1074.9,315.6 L1074.4,315.6 L1073.9,315.6 L1073.4,315.6 L1072.9,315.6 L1072.4,315.6 L1071.9,315.6 L1071.4,316.0 L1070.9,317.1 L1070.4,318.3 L1069.9,319.5 L1069.4,320.7 L1068.9,321.5 L1068.4,321.5 L1067.9,321.6 L1067.4,321.6 L1066.9,321.6 L1066.4,321.6 L1065.9,321.7 L1065.4,321.7 L1064.9,321.7 L1064.4,321.7 L1063.9,321.7 L1063.4,321.8 L1062.9,321.8 L1062.4,321.8 L1061.9,321.8 L1061.4,321.9 L1060.9,321.9 L1060.4,321.9 L1059.9,321.9 L1059.4,321.9 L1058.9,322.0 L1058.4,322.0 L1057.9,322.0 L1057.4,322.0 L1056.9,322.1 L1056.4,322.1 L1055.9,322.1 L1055.4,322.1 L1054.9,322.1 L1054.4,322.2 L1053.9,322.2 L1053.4,322.2 L1052.9,322.2 L1052.4,322.3 L1051.9,322.3 L1051.4,322.3 L1050.9,322.3 L1050.4,322.3 L1049.9,322.4 L1049.4,322.4 L1048.9,322.4 L1048.4,322.4 L1047.9,322.5 L1047.4,322.5 L1046.9,322.5 L1046.4,322.8 L1045.9,324.8 L1045.4,326.8 L1044.9,328.8 L1044.4,330.8 L1043.9,332.8 L1043.4,334.8 L1042.9,336.8 L1042.4,338.8 L1041.9,340.7 L1041.4,342.3 L1040.9,344.0 L1040.4,345.6 L1039.9,347.5 L1039.4,350.2 L1038.9,353.0 L1038.4,355.7 L1037.9,356.3 L1037.4,356.3 L1036.9,356.3 L1036.4,356.4 L1035.9,356.4 L1035.4,356.4 L1034.9,356.4 L1034.4,356.4 L1033.9,356.4 L1033.4,356.5 L1032.9,356.5 L1032.4,356.5 L1031.9,356.5 L1031.4,356.5 L1030.9,356.5 L1030.4,356.6 L1029.9,356.6 L1029.4,356.6 L1028.9,356.6 L1028.4,356.6 L1027.9,356.6 L1027.4,356.6 L1026.9,356.7 L1026.4,356.7 L1025.9,356.7 L1025.4,356.7 L1024.9,356.7 L1024.4,356.7 L1023.9,356.8 L1023.4,356.8 L1022.9,356.8 L1022.4,356.8 L1021.9,356.8 L1021.4,356.8 L1020.9,356.9 L1020.4,356.9 L1019.9,356.9 L1019.4,356.9 L1018.9,356.9 L1018.4,356.9 L1017.9,356.9 L1017.4,357.0 L1016.9,357.0 L1016.4,357.0 L1015.9,357.0 L1015.4,357.0 L1014.9,357.0 L1014.4,357.1 L1013.9,357.1 L1013.4,357.1 L1012.9,358.1 L1012.4,360.8 L1011.9,363.4 L1011.4,366.0 L1010.9,368.7 L1010.4,371.3 L1009.9,374.0 L1009.4,376.6 L1008.9,377.2 L1008.4,377.2 L1007.9,377.2 L1007.4,377.2 L1006.9,377.2 L1006.4,377.2 L1005.9,377.2 L1005.4,377.2 L1004.9,377.2 L1004.4,377.2 L1003.9,377.2 L1003.4,377.3 L1002.9,377.3 L1002.4,377.3 L1001.9,377.3 L1001.4,377.3 L1000.9,377.3 L1000.4,377.3 L999.9,377.3 L999.4,377.3 L998.9,377.3 L998.4,377.3 L997.9,377.3 L997.4,377.3 L996.9,377.3 L996.4,377.3 L995.9,377.3 L995.4,377.3 L994.9,377.3 L994.4,377.3 L993.9,377.3 L993.4,377.3 L992.9,377.3 L992.4,377.3 L991.9,377.3 L991.4,377.4 L990.9,377.4 L990.4,377.4 L989.9,377.4 L989.4,377.4 L988.9,377.4 L988.4,377.4 L987.9,377.4 L987.4,377.4 L986.9,377.4 L986.4,377.4 L985.9,377.4 L985.4,377.4 L984.9,377.4 L984.4,377.4 L983.9,377.4 L983.4,377.4 L982.9,377.4 L982.4,377.4 L981.9,377.4 L981.4,377.4 L980.9,377.4 L980.4,377.4 L979.9,377.5 L979.4,377.5 L978.9,377.5 L978.4,377.5 L977.9,377.5 L977.4,377.5 L976.9,377.5 L976.4,377.5 L975.9,377.5 L975.4,377.5 L974.9,377.5 L974.4,377.4 L973.9,377.2 L973.4,379.6 L972.9,381.9 L972.4,384.3 L971.9,386.7 L971.4,389.1 L970.9,390.6 L970.4,390.9 L969.9,391.2 L969.4,391.5 L968.9,391.8 L968.4,392.1 L967.9,392.4 L967.4,392.7 L966.9,393.0 L966.4,393.3 L965.9,393.6 L965.4,393.9 L964.9,394.2 L964.4,394.3 L963.9,394.3 L963.4,394.4 L962.9,394.4 L962.4,394.5 L961.9,394.5 L961.4,394.6 L960.9,394.6 L960.4,394.7 L959.9,394.7 L959.4,394.8 L958.9,394.8 L958.4,396.4 L957.9,400.6 L957.4,404.9 L956.9,405.8 L956.4,406.2 L955.9,406.6 L955.4,407.0 L954.9,407.3 L954.4,407.7 L953.9,408.1 L953.4,408.5 L952.9,408.8 L952.4,409.2 L951.9,409.3 L951.4,409.3 L950.9,409.3 L950.4,409.3 L949.9,409.3 L949.4,409.3 L948.9,409.3 L948.4,409.3 L947.9,409.3 L947.4,409.4 L946.9,409.4 L946.4,409.4 L945.9,409.4 L945.4,409.4 L944.9,409.4 L944.4,409.4 L943.9,409.4 L943.4,409.4 L942.9,409.4 L942.4,409.4 L941.9,409.4 L941.4,409.4 L940.9,409.4 L940.4,409.4 L939.9,409.4 L939.4,409.5 L938.9,409.5 L938.4,409.5 L937.9,409.5 L937.4,409.5 L936.9,409.5 L936.4,409.5 L935.9,409.5 L935.4,409.5 L934.9,409.5 L934.4,409.5 L933.9,409.5 L933.4,409.5 L932.9,409.5 L932.4,409.5 L931.9,410.0 L931.4,410.7 L930.9,411.3 L930.4,412.0 L929.9,412.7 L929.4,413.3 L928.9,413.7 L928.4,413.7 L927.9,413.7 L927.4,413.7 L926.9,413.8 L926.4,413.8 L925.9,413.8 L925.4,413.8 L924.9,413.9 L924.4,413.9 L923.9,413.9 L923.4,413.9 L922.9,413.9 L922.4,414.0 L921.9,414.0 L921.4,414.0 L920.9,414.0 L920.4,414.0 L919.9,414.1 L919.4,414.1 L918.9,414.1 L918.4,414.1 L917.9,414.1 L917.4,414.2 L916.9,414.2 L916.4,414.2 L915.9,414.2 L915.4,414.2 L914.9,414.3 L914.4,414.3 L913.9,414.3 L913.4,414.3 L912.9,414.3 L912.4,414.4 L911.9,414.4 L911.4,414.4 L910.9,414.4 L910.4,414.4 L909.9,414.5 L909.4,414.5 L908.9,414.5 L908.4,414.5 L907.9,414.6 L907.4,415.0 L906.9,415.6 L906.4,416.1 L905.9,416.7 L905.4,417.3 L904.9,417.8 L904.4,419.7 L903.9,422.6 L903.4,425.5 L902.9,428.5 L902.4,431.4 L901.9,434.3 L901.4,437.2 L900.9,440.1 L900.4,443.1 L899.9,446.0 L899.4,447.2 L898.9,447.2 L898.4,447.2 L897.9,447.2 L897.4,447.2 L896.9,447.2 L896.4,447.2 L895.9,447.2 L895.4,447.2 L894.9,447.2 L894.4,447.2 L893.9,447.2 L893.4,447.2 L892.9,447.2 L892.4,447.2 L891.9,447.2 L891.4,447.2 L890.9,447.2 L890.4,447.2 L889.9,447.3 L889.4,447.3 L888.9,447.3 L888.4,447.3 L887.9,447.3 L887.4,447.3 L886.9,447.3 L886.4,447.3 L885.9,447.3 L885.4,447.3 L884.9,447.3 L884.4,447.3 L883.9,447.3 L883.4,447.3 L882.9,447.3 L882.4,447.3 L881.9,447.3 L881.4,447.3 L880.9,447.3 L880.4,447.3 L879.9,447.3 L879.4,447.3 L878.9,447.3 L878.4,447.3 L877.9,447.3 L877.4,447.3 L876.9,447.3 L876.4,447.3 L875.9,447.3 L875.4,447.3 L874.9,447.3 L874.4,447.3 L873.9,447.3 L873.4,447.3 L872.9,447.3 L872.4,447.3 L871.9,447.3 L871.4,447.4 L870.9,447.4 L870.4,447.4 L869.9,447.4 L869.4,447.4 L868.9,447.4 L868.4,447.4 L867.9,447.4 L867.4,447.4 L866.9,447.4 L866.4,447.4 L865.9,447.4 L865.4,447.4 L864.9,447.4 L864.4,447.4 L863.9,447.4 L863.4,447.4 L862.9,447.4 L862.4,447.4 L861.9,447.4 L861.4,447.4 L860.9,447.4 L860.4,447.4 L859.9,447.4 L859.4,447.4 L858.9,447.4 L858.4,447.4 L857.9,447.4 L857.4,447.4 L856.9,447.4 L856.4,447.4 L855.9,447.4 L855.4,447.4 L854.9,447.4 L854.4,447.4 L853.9,447.4 L853.4,447.4 L852.9,447.5 L852.4,447.5 L851.9,447.5 L851.4,447.5 L850.9,447.5 L850.4,447.5 L849.9,447.5 L849.4,447.5 L848.9,447.5 L848.4,447.5 L847.9,447.5 L847.4,447.5 L846.9,447.5 L846.4,447.5 L845.9,447.5 L845.4,447.5 L844.9,447.5 L844.4,447.5 L843.9,447.5 L843.4,447.5 L842.9,447.5 L842.4,447.5 L841.9,447.5 L841.4,447.5 L840.9,447.5 L840.4,447.5 L839.9,447.5 L839.4,447.5 L838.9,447.5 L838.4,447.5 L837.9,447.5 L837.4,447.5 L836.9,447.5 L836.4,447.5 L835.9,447.5 L835.4,447.5 L834.9,447.5 L834.4,447.5 L833.9,447.6 L833.4,447.6 L832.9,447.6 L832.4,447.6 L831.9,447.6 L831.4,447.6 L830.9,447.6 L830.4,447.6 L829.9,447.6 L829.4,447.6 L828.9,447.6 L828.4,447.6 L827.9,447.6 L827.4,447.6 L826.9,447.6 L826.4,447.6 L825.9,447.6 L825.4,447.6 L824.9,447.6 L824.4,451.1 L823.9,454.7 L823.4,458.3 L822.9,461.2 L822.4,461.2 L821.9,461.2 L821.4,461.2 L820.9,461.2 L820.4,461.2 L819.9,461.2 L819.4,461.2 L818.9,461.2 L818.4,461.2 L817.9,461.2 L817.4,461.2 L816.9,461.2 L816.4,461.2 L815.9,461.2 L815.4,461.2 L814.9,461.2 L814.4,461.2 L813.9,461.2 L813.4,461.2 L812.9,461.2 L812.4,461.2 L811.9,461.2 L811.4,461.2 L810.9,461.2 L810.4,461.2 L809.9,461.2 L809.4,461.2 L808.9,461.2 L808.4,461.2 L807.9,461.2 L807.4,461.2 L806.9,461.2 L806.4,461.2 L805.9,461.2 L805.4,461.2 L804.9,461.2 L804.4,461.2 L803.9,461.2 L803.4,461.2 L802.9,461.2 L802.4,461.2 L801.9,461.2 L801.4,461.2 L800.9,461.2 L800.4,461.2 L799.9,461.2 L799.4,461.2 L798.9,461.2 L798.4,461.2 L797.9,461.2 L797.4,461.2 L796.9,461.2 L796.4,461.2 L795.9,461.2 L795.4,461.2 L794.9,461.2 L794.4,461.2 L793.9,461.2 L793.4,461.2 L792.9,461.2 L792.4,461.2 L791.9,461.4 L791.4,461.5 L790.9,461.7 L790.4,461.8 L789.9,461.9 L789.4,463.2 L788.9,465.4 L788.4,467.5 L787.9,469.6 L787.4,470.5 L786.9,470.5 L786.4,470.5 L785.9,470.5 L785.4,470.5 L784.9,470.5 L784.4,470.5 L783.9,470.5 L783.4,470.5 L782.9,470.5 L782.4,470.5 L781.9,470.5 L781.4,470.5 L780.9,470.5 L780.4,470.5 L779.9,470.5 L779.4,470.5 L778.9,470.5 L778.4,470.5 L777.9,470.4 L777.4,470.4 L776.9,470.4 L776.4,470.4 L775.9,470.4 L775.4,470.4 L774.9,470.4 L774.4,470.4 L773.9,470.4 L773.4,470.4 L772.9,470.4 L772.4,470.4 L771.9,470.4 L771.4,470.4 L770.9,470.4 L770.4,470.4 L769.9,470.4 L769.4,470.4 L768.9,470.4 L768.4,470.4 L767.9,470.4 L767.4,470.4 L766.9,470.4 L766.4,470.4 L765.9,470.4 L765.4,470.4 L764.9,470.4 L764.4,470.4 L763.9,470.4 L763.4,470.4 L762.9,470.4 L762.4,470.4 L761.9,470.4 L761.4,470.4 L760.9,470.4 L760.4,470.4 L759.9,470.4 L759.4,470.4 L758.9,470.4 L758.4,470.3 L757.9,470.3 L757.4,470.3 L756.9,470.3 L756.4,470.3 L755.9,470.3 L755.4,470.3 L754.9,470.3 L754.4,470.3 L753.9,470.3 L753.4,470.3 L752.9,470.3 L752.4,470.3 L751.9,470.3 L751.4,470.3 L750.9,470.3 L750.4,470.3 L749.9,470.3 L749.4,470.3 L748.9,470.4 L748.4,470.7 L747.9,471.1 L747.4,471.4 L746.9,471.7 L746.4,472.0 L745.9,472.4 L745.4,472.7 L744.9,473.0 L744.4,473.3 L743.9,473.6 L743.4,474.0 L742.9,474.3 L742.4,475.7 L741.9,477.0 L741.4,478.4 L740.9,479.8 L740.4,481.2 L739.9,482.5 L739.4,484.4 L738.9,486.9 L738.4,489.5 L737.9,492.0 L737.4,494.6 L736.9,497.1 L736.4,498.2 L735.9,498.3 L735.4,498.3 L734.9,498.3 L734.4,498.4 L733.9,498.4 L733.4,498.5 L732.9,498.5 L732.4,500.1 L731.9,501.7 L731.4,503.3 L730.9,505.0 L730.4,506.4 L729.9,507.0 L729.4,507.5 L728.9,508.1 L728.4,508.7 L727.9,509.3 L727.4,509.5 L726.9,509.5 L726.4,509.5 L725.9,509.5 L725.4,509.5 L724.9,509.5 L724.4,509.5 L723.9,509.5 L723.4,509.5 L722.9,509.5 L722.4,509.5 L721.9,509.5 L721.4,509.5 L720.9,509.5 L720.4,509.5 L719.9,509.5 L719.4,509.5 L718.9,509.5 L718.4,509.5 L717.9,509.5 L717.4,509.5 L716.9,509.5 L716.4,509.5 L715.9,509.5 L715.4,509.5 L714.9,509.5 L714.4,509.5 L713.9,509.5 L713.4,509.5 L712.9,509.5 L712.4,509.5 L711.9,509.5 L711.4,509.5 L710.9,509.5 L710.4,509.5 L709.9,509.5 L709.4,509.5 L708.9,509.5 L708.4,509.5 L707.9,509.5 L707.4,509.5 L706.9,509.5 L706.4,509.5 L705.9,509.5 L705.4,509.5 L704.9,509.5 L704.4,509.5 L703.9,509.5 L703.4,509.5 L702.9,509.5 L702.4,509.5 L701.9,509.5 L701.4,509.5 L700.9,509.5 L700.4,509.5 L699.9,509.5 L699.4,509.5 L698.9,509.5 L698.4,509.5 L697.9,509.5 L697.4,509.5 L696.9,509.5 L696.4,509.5 L695.9,509.5 L695.4,509.5 L694.9,509.5 L694.4,509.5 L693.9,509.5 L693.4,509.5 L692.9,509.5 L692.4,509.5 L691.9,509.5 L691.4,509.5 L690.9,509.5 L690.4,509.5 L689.9,509.5 L689.4,509.5 L688.9,509.5 L688.4,509.5 L687.9,509.5 L687.4,509.5 L686.9,509.5 L686.4,509.5 L685.9,509.5 L685.4,509.5 L684.9,509.5 L684.4,509.5 L683.9,509.5 L683.4,509.5 L682.9,509.5 L682.4,509.5 L681.9,509.5 L681.4,509.5 L680.9,509.5 L680.4,509.5 L679.9,509.5 L679.4,509.5 L678.9,509.5 L678.4,509.5 L677.9,509.5 L677.4,509.5 L676.9,509.5 L676.4,509.5 L675.9,509.5 L675.4,509.5 L674.9,509.5 L674.4,509.5 L673.9,509.5 L673.4,509.5 L672.9,509.5 L672.4,509.5 L671.9,509.6 L671.4,509.6 L670.9,509.6 L670.4,509.6 L669.9,509.6 L669.4,509.6 L668.9,509.6 L668.4,509.6 L667.9,509.6 L667.4,509.6 L666.9,509.6 L666.4,509.6 L665.9,509.6 L665.4,509.6 L664.9,509.6 L664.4,509.6 L663.9,509.6 L663.4,509.6 L662.9,509.6 L662.4,509.6 L661.9,509.6 L661.4,509.6 L660.9,509.6 L660.4,509.6 L659.9,509.6 L659.4,509.6 L658.9,509.6 L658.4,509.6 L657.9,509.6 L657.4,509.6 L656.9,509.6 L656.4,509.6 L655.9,509.6 L655.4,509.6 L654.9,509.6 L654.4,509.6 L653.9,509.6 L653.4,509.6 L652.9,509.6 L652.4,509.6 L651.9,509.6 L651.4,509.6 L650.9,509.6 L650.4,509.6 L649.9,509.6 L649.4,509.6 L648.9,509.6 L648.4,509.6 L647.9,509.6 L647.4,509.6 L646.9,509.6 L646.4,509.6 L645.9,509.6 L645.4,509.6 L644.9,509.6 L644.4,509.6 L643.9,509.6 L643.4,509.6 L642.9,509.6 L642.4,509.6 L641.9,509.6 L641.4,509.6 L640.9,509.6 L640.4,509.6 L639.9,509.6 L639.4,509.6 L638.9,509.6 L638.4,509.6 L637.9,509.6 L637.4,509.6 L636.9,509.6 L636.4,509.6 L635.9,509.6 L635.4,509.6 L634.9,509.6 L634.4,509.6 L633.9,509.6 L633.4,509.6 L632.9,509.6 L632.4,509.6 L631.9,509.6 L631.4,509.6 L630.9,509.6 L630.4,509.6 L629.9,509.6 L629.4,509.6 L628.9,509.6 L628.4,509.6 L627.9,509.6 L627.4,509.6 L626.9,509.6 L626.4,509.6 L625.9,509.6 L625.4,509.6 L624.9,509.6 L624.4,509.6 L623.9,509.6 L623.4,509.6 L622.9,509.6 L622.4,509.6 L621.9,509.6 L621.4,509.6 L620.9,509.6 L620.4,509.6 L619.9,509.6 L619.4,509.6 L618.9,509.6 L618.4,509.6 L617.9,509.6 L617.4,509.6 L616.9,509.6 L616.4,509.6 L615.9,510.2 L615.4,513.1 L614.9,515.9 L614.4,518.7 L613.9,521.2 L613.4,523.2 L612.9,525.2 L612.4,527.2 L611.9,529.2 L611.4,531.2 L610.9,533.2 L610.4,535.2 L609.9,538.4 L609.4,541.6 L608.9,544.9 L608.4,548.1 L607.9,552.9 L607.4,558.7 L606.9,564.4 L606.4,570.2 L605.9,577.1 L605.4,584.4 L604.9,584.5 L604.4,584.5 L603.9,584.5 L603.4,584.5 L602.9,584.5 L602.4,584.5 L601.9,584.5 L601.4,584.5 L600.9,584.5 L600.4,584.5 L599.9,584.5 L599.4,584.5 L598.9,584.5 L598.4,584.5 L597.9,584.5 L597.4,584.5 L596.9,584.5 L596.4,584.5 L595.9,587.3 L595.4,591.0 L594.9,594.6 L594.4,598.3 L593.9,601.9 L593.4,603.6 L592.9,605.1 L592.4,606.7 L591.9,608.3 L591.4,609.9 L590.9,611.5 L590.4,611.5 L589.9,611.5 L589.4,611.5 L588.9,611.5 L588.4,611.5 L587.9,611.5 L587.4,611.5 L586.9,611.5 L586.4,611.5 L585.9,611.5 L585.4,611.5 L584.9,611.5 L584.4,611.5 L583.9,611.5 L583.4,611.5 L582.9,611.5 L582.4,611.5 L581.9,611.5 L581.4,611.5 L580.9,611.5 L580.4,611.5 L579.9,611.5 L579.4,611.5 L578.9,611.5 L578.4,611.5 L577.9,611.5 L577.4,611.5 L576.9,611.5 L576.4,611.5 L575.9,611.5 L575.4,611.5 L574.9,611.5 L574.4,611.5 L573.9,611.5 L573.4,611.5 L572.9,611.5 L572.4,611.5 L571.9,611.5 L571.4,611.5 L570.9,611.5 L570.4,611.5 L569.9,611.5 L569.4,611.5 L568.9,611.5 L568.4,611.5 L567.9,611.5 L567.4,611.5 L566.9,611.5 L566.4,611.5 L565.9,611.5 L565.4,611.5 L564.9,611.5 L564.4,611.5 L563.9,611.5 L563.4,611.5 L562.9,611.5 L562.4,611.5 L561.9,611.5 L561.4,611.5 L560.9,611.5 L560.4,611.5 L559.9,611.5 L559.4,611.5 L558.9,611.5 L558.4,611.5 L557.9,611.5 L557.4,611.5 L556.9,611.5 L556.4,611.5 L555.9,611.5 L555.4,611.5 L554.9,611.5 L554.4,611.5 L553.9,611.5 L553.4,611.5 L552.9,611.5 L552.4,611.5 L551.9,611.5 L551.4,611.5 L550.9,611.5 L550.4,611.5 L549.9,611.5 L549.4,611.5 L548.9,611.5 L548.4,611.5 L547.9,611.5 L547.4,611.5 L546.9,611.5 L546.4,611.5 L545.9,611.5 L545.4,611.5 L544.9,611.5 L544.4,611.5 L543.9,611.5 L543.4,611.5 L542.9,611.5 L542.4,611.5 L541.9,611.5 L541.4,611.5 L540.9,611.5 L540.4,611.5 L539.9,611.5 L539.4,611.5 L538.9,611.5 L538.4,611.5 L537.9,611.5 L537.4,611.5 L536.9,611.5 L536.4,611.5 L535.9,611.5 L535.4,611.5 L534.9,611.5 L534.4,611.5 L533.9,611.5 L533.4,611.5 L532.9,611.5 L532.4,611.5 L531.9,611.5 L531.4,611.5 L530.9,611.5 L530.4,611.5 L529.9,611.5 L529.4,611.5 L528.9,611.5 L528.4,611.5 L527.9,611.5 L527.4,611.5 L526.9,611.5 L526.4,611.5 L525.9,611.5 L525.4,611.5 L524.9,611.5 L524.4,611.5 L523.9,611.5 L523.4,611.5 L522.9,611.5 L522.4,611.5 L521.9,611.5 L521.4,611.5 L520.9,611.5 L520.4,611.5 L519.9,611.5 L519.4,611.5 L518.9,611.5 L518.4,611.5 L517.9,611.5 L517.4,611.5 L516.9,611.5 L516.4,611.5 L515.9,611.5 L515.4,611.5 L514.9,611.5 L514.4,611.5 L513.9,611.5 L513.4,611.5 L512.9,611.5 L512.4,611.5 L511.9,611.5 L511.4,611.5 L510.9,611.5 L510.4,611.5 L509.9,611.5 L509.4,611.5 L508.9,611.5 L508.4,611.5 L507.9,611.5 L507.4,611.5 L506.9,611.5 L506.4,611.5 L505.9,611.5 L505.4,611.5 L504.9,611.5 L504.4,611.5 L503.9,611.5 L503.4,611.5 L502.9,611.5 L502.4,611.5 L501.9,611.5 L501.4,611.5 L500.9,611.5 L500.4,611.5 L499.9,611.5 L499.4,611.5 L498.9,611.5 L498.4,611.5 L497.9,611.5 L497.4,611.5 L496.9,611.5 L496.4,611.5 L495.9,611.5 L495.4,611.5 L494.9,611.5 L494.4,611.5 L493.9,611.5 L493.4,611.5 L492.9,611.5 L492.4,611.5 L491.9,611.5 L491.4,611.5 L490.9,611.5 L490.4,611.5 L489.9,611.5 L489.4,611.5 L488.9,611.5 L488.4,611.5 L487.9,611.5 L487.4,611.5 L486.9,611.5 L486.4,611.5 L485.9,611.5 L485.4,611.5 L484.9,611.5 L484.4,611.5 L483.9,611.5 L483.4,611.5 L482.9,611.5 L482.4,611.5 L481.9,611.5 L481.4,611.5 L480.9,611.5 L480.4,611.5 L479.9,611.5 L479.4,611.5 L478.9,611.5 L478.4,611.5 L477.9,611.5 L477.4,611.5 L476.9,611.5 L476.4,611.5 L475.9,611.5 L475.4,611.5 L474.9,611.5 L474.4,611.5 L473.9,611.5 L473.4,611.5 L472.9,611.5 L472.4,611.5 L471.9,611.5 L471.4,611.5 L470.9,611.5 L470.4,611.5 L469.9,611.5 L469.4,611.5 L468.9,611.5 L468.4,611.5 L467.9,611.5 L467.4,611.5 L466.9,611.5 L466.4,611.5 L465.9,611.5 L465.4,611.5 L464.9,611.5 L464.4,611.5 L463.9,611.5 L463.4,611.5 L462.9,611.5 L462.4,611.5 L461.9,611.5 L461.4,611.5 L460.9,611.5 L460.4,611.5 L459.9,611.5 L459.4,611.5 L458.9,611.5 L458.4,611.5 L457.9,611.5 L457.4,611.5 L456.9,611.5 L456.4,611.5 L455.9,611.5 L455.4,611.5 L454.9,611.5 L454.4,611.5 L453.9,611.5 L453.4,611.5 L452.9,611.5 L452.4,611.5 L451.9,611.5 L451.4,611.5 L450.9,611.5 L450.4,611.5 L449.9,611.5 L449.4,611.5 L448.9,611.5 L448.4,611.5 L447.9,611.5 L447.4,611.5 L446.9,611.5 L446.4,611.5 L445.9,611.5 L445.4,611.5 L444.9,611.5 L444.4,611.5 L443.9,611.5 L443.4,611.5 L442.9,611.5 L442.4,611.5 L441.9,611.5 L441.4,611.5 L440.9,611.5 L440.4,611.5 L439.9,611.5 L439.4,611.5 L438.9,611.5 L438.4,611.5 L437.9,611.5 L437.4,611.5 L436.9,611.5 L436.4,611.5 L435.9,611.5 L435.4,611.5 L434.9,611.5 L434.4,611.5 L433.9,611.5 L433.4,611.5 L432.9,611.5 L432.4,611.5 L431.9,611.5 L431.4,611.5 L430.9,611.5 L430.4,611.5 L429.9,611.5 L429.4,611.5 L428.9,611.5 L428.4,611.5 L427.9,611.5 L427.4,611.5 L426.9,611.5 L426.4,611.5 L425.9,611.5 L425.4,611.5 L424.9,611.5 L424.4,611.5 L423.9,611.5 L423.4,611.5 L422.9,611.5 L422.4,611.5 L421.9,611.5 L421.4,611.5 L420.9,611.5 L420.4,611.5 L419.9,611.5 L419.4,611.5 L418.9,611.5 L418.4,611.5 L417.9,611.5 L417.4,611.5 L416.9,611.5 L416.4,611.5 L415.9,611.5 L415.4,611.5 L414.9,611.5 L414.4,611.5 L413.9,611.5 L413.4,611.5 L412.9,611.5 L412.4,611.5 L411.9,611.5 L411.4,611.5 L410.9,611.5 L410.4,611.5 L409.9,611.5 L409.4,611.5 L408.9,611.5 L408.4,611.5 L407.9,611.5 L407.4,611.5 L406.9,611.5 L406.4,611.5 L405.9,611.5 L405.4,611.5 L404.9,611.5 L404.4,611.5 L403.9,611.5 L403.4,611.5 L402.9,611.5 L402.4,611.5 L401.9,611.5 L401.4,611.5 L400.9,611.5 L400.4,611.5 L399.9,611.5 L399.4,611.5 L398.9,611.5 L398.4,611.5 L397.9,611.5 L397.4,611.5 L396.9,611.5 L396.4,611.5 L395.9,611.5 L395.4,611.5 L394.9,611.5 L394.4,611.5 L393.9,611.5 L393.4,611.5 L392.9,611.5 L392.4,611.5 L391.9,611.5 L391.4,611.5 L390.9,611.5 L390.4,611.5 L389.9,611.5 L389.4,611.5 L388.9,611.5 L388.4,611.5 L387.9,611.5 L387.4,611.5 L386.9,611.5 L386.4,611.5 L385.9,611.5 L385.4,611.5 L384.9,611.5 L384.4,611.5 L383.9,611.5 L383.4,611.5 L382.9,611.5 L382.4,611.5 L381.9,611.5 L381.4,611.5 L380.9,611.5 L380.4,611.5 L379.9,611.5 L379.4,611.5 L378.9,611.5 L378.4,611.5 L377.9,611.5 L377.4,611.5 L376.9,611.5 L376.4,611.5 L375.9,611.5 L375.4,611.5 L374.9,611.5 L374.4,611.5 L373.9,611.5 L373.4,611.5 L372.9,611.5 L372.4,611.5 L371.9,611.5 L371.4,611.5 L370.9,611.5 L370.4,611.5 L369.9,611.5 L369.4,611.5 L368.9,611.5 L368.4,611.5 L367.9,611.5 L367.4,611.5 L366.9,611.5 L366.4,611.5 L365.9,611.5 L365.4,611.5 L364.9,611.5 L364.4,611.5 L363.9,611.5 L363.4,611.5 L362.9,611.5 L362.4,611.5 L361.9,611.5 L361.4,611.5 L360.9,611.5 L360.4,611.5 L359.9,611.5 L359.4,611.5 L358.9,611.5 L358.4,611.5 L357.9,611.5 L357.4,611.5 L356.9,611.5 L356.4,611.5 L355.9,611.5 L355.4,611.5 L354.9,611.5 L354.4,611.5 L353.9,611.5 L353.4,611.5 L352.9,611.5 L352.4,611.5 L351.9,611.5 L351.4,611.5 L350.9,611.5 L350.4,611.5 L349.9,611.5 L349.4,611.5 L348.9,611.5 L348.4,611.5 L347.9,611.5 L347.4,611.5 L346.9,611.5 L346.4,611.5 L345.9,611.5 L345.4,611.5 L344.9,611.5 L344.4,611.5 L343.9,611.5 L343.4,611.5 L342.9,611.5 L342.4,611.5 L341.9,611.5 L341.4,610.1 L340.9,608.8 L340.4,607.4 L339.9,606.1 L339.4,604.7 L338.9,603.4 L338.4,602.5 L337.9,602.5 L337.4,602.5 L336.9,602.5 L336.4,602.5 L335.9,602.5 L335.4,602.5 L334.9,602.5 L334.4,602.5 L333.9,602.5 L333.4,602.5 L332.9,602.5 L332.4,602.5 L331.9,602.5 L331.4,602.5 L330.9,602.5 L330.4,602.5 L329.9,602.5 L329.4,602.5 L328.9,602.5 L328.4,602.5 L327.9,602.5 L327.4,602.5 L326.9,602.5 L326.4,602.5 L325.9,602.5 L325.4,602.5 L324.9,602.5 L324.4,602.5 L323.9,602.5 L323.4,602.5 L322.9,602.5 L322.4,602.5 L321.9,602.4 L321.4,602.4 L320.9,602.4 L320.4,602.4 L319.9,602.4 L319.4,602.4 L318.9,602.4 L318.4,602.4 L317.9,602.4 L317.4,602.4 L316.9,602.4 L316.4,602.4 L315.9,602.4 L315.4,602.4 L314.9,602.4 L314.4,602.4 L313.9,602.4 L313.4,602.4 L312.9,602.4 L312.4,602.4 L311.9,602.4 L311.4,602.4 L310.9,602.4 L310.4,602.4 L309.9,602.4 L309.4,602.4 L308.9,602.4 L308.4,602.4 L307.9,602.4 L307.4,602.4 Z" fill="rgba(67,160,71,0.14)"/><path d="M103.4,553.5 L117.8,553.5 L120.3,562.9 L148.5,563.2 L151.0,568.8 L155.4,572.3 L164.2,572.6 L167.3,579.2 L184.0,579.5 L189.4,579.0 L192.6,591.5 L195.1,594.6 L202.6,595.3 L205.7,600.3 L207.2,600.0 L209.7,613.8 L213.5,619.5 L224.7,620.7 L226.6,631.4 L227.9,633.6 L231.6,633.6 L234.1,621.3 L235.4,620.1 L243.5,620.1 L246.1,627.0 L274.0,628.2 L288.0,628.2 L291.0,614.1 L294.1,606.5 L297.2,606.5 L300.4,611.6 L304.7,611.6 L307.9,600.3 L312.3,589.6 L314.1,587.7 L321.7,587.1 L324.8,582.7 L343.6,582.4 L345.5,581.5 L354.0,581.5 L386.4,581.1 L388.3,588.9 L392.6,592.7 L395.2,594.6 L414.0,594.6 L415.8,580.1 L419.0,573.2 L422.1,568.6 L432.1,567.6 L435.3,563.8 L459.1,563.6 L461.6,560.1 L465.3,559.1 L471.6,558.2 L474.7,559.5 L477.9,561.3 L501.7,561.3 L504.2,565.1 L506.7,569.5 L513.6,569.9 L514.9,591.4 L518.0,593.3 L521.1,597.7 L525.7,597.2 L528.6,594.8 L531.5,593.9 L534.3,592.1 L556.7,592.3 L559.6,589.6 L575.8,589.4 L578.2,583.4 L581.5,583.4 L585.8,580.5 L588.2,566.2 L591.5,564.3 L593.9,551.4 L595.3,539.0 L596.6,529.6 L607.3,529.2 L610.4,520.2 L614.1,502.7 L615.4,489.5 L636.7,488.9 L641.7,483.2 L654.0,480.1 L657.2,473.8 L679.9,473.8 L690.0,479.1 L692.4,481.5 L708.6,481.5 L711.5,478.6 L713.8,468.1 L716.7,465.3 L721.0,464.3 L727.7,453.8 L730.5,442.4 L732.9,434.3 L736.7,433.8 L740.3,417.7 L743.5,408.3 L747.2,405.6 L751.6,405.2 L754.7,401.7 L764.1,401.2 L768.5,394.9 L780.4,392.7 L784.2,384.5 L788.6,381.4 L793.0,359.5 L800.5,358.8 L805.0,355.4 L822.6,353.5 L824.5,340.3 L828.2,339.3 L831.4,346.6 L847.7,346.6 L851.4,337.8 L855.2,335.3 L880.2,334.7 L882.8,331.8 L889.0,331.8 L892.2,336.6 L895.3,346.6 L904.1,346.9 L907.8,351.0 L916.6,351.0 L919.7,344.4 L924.1,344.4 L926.6,348.1 L946.1,348.5 L949.2,352.3 L960.5,354.8 L963.6,357.6 L974.0,357.6 L977.8,353.3 L984.7,350.1 L988.5,340.0 L993.5,339.4 L996.6,332.5 L1002.3,331.9 L1005.4,328.8 L1009.2,328.1 L1012.3,308.7 L1018.6,308.1 L1026.7,304.3 L1030.5,301.2 L1034.9,297.2 L1044.0,296.2 L1046.5,281.2 L1050.2,276.1 L1053.4,271.1 L1067.2,270.9 L1072.8,264.9 L1075.9,264.2 L1106.7,264.2 L1110.4,258.6 L1116.1,257.6 L1125.5,257.1 L1132.3,255.5 L1134.9,257.3 L1144.0,257.3 L1152.9,252.1 L1157.9,250.0 L1160.4,232.1 L1171.0,231.4 L1174.8,220.2 L1178.6,210.8 L1189.2,210.4 L1192.3,208.3 L1196.1,208.3 L1200.9,199.5 L1207.2,198.7 L1214.7,193.9 L1219.1,182.6 L1222.2,170.1 L1226.6,158.6 L1229.1,156.3 L1234.1,155.3 L1236.6,152.3 L1241.6,150.0 L1250.4,149.4 L1265.7,149.0" fill="none" stroke="rgba(0,205,0,0.215)" stroke-width="2.8" stroke-linejoin="round"/><path d="M103.4,587.4 L162.3,587.4 L165.5,573.6 L167.3,561.7 L184.0,561.7 L205.7,561.4 L208.2,575.2 L212.0,584.0 L214.5,586.2 L224.5,586.5 L227.7,596.3 L246.5,596.5 L249.6,600.3 L259.6,600.5 L262.1,602.2 L338.6,602.5 L341.7,610.9 L341.7,611.5 L524.0,611.5 L590.9,611.5 L593.9,602.0 L596.3,584.5 L605.4,584.5 L606.3,571.5 L608.2,549.5 L610.4,535.3 L614.1,520.2 L616.0,509.6 L654.0,509.6 L727.7,509.5 L730.5,506.3 L732.9,498.5 L736.7,498.2 L739.6,483.4 L742.9,474.3 L749.1,470.3 L787.7,470.5 L789.7,462.0 L792.5,461.2 L823.0,461.2 L824.9,447.6 L899.7,447.2 L904.7,418.1 L907.8,414.6 L929.1,413.7 L932.3,409.5 L952.3,409.3 L957.3,405.5 L958.6,394.9 L964.9,394.2 L971.1,390.5 L974.0,376.7 L974.5,377.5 L1009.3,377.2 L1013.1,357.1 L1038.3,356.3 L1040.0,347.0 L1042.1,340.1 L1046.5,322.5 L1069.0,321.5 L1071.6,315.6 L1098.5,315.2 L1103.5,309.4 L1107.3,308.7 L1109.8,295.2 L1144.0,295.2 L1157.9,295.3 L1161.7,281.5 L1174.3,281.5 L1178.1,272.2 L1218.4,272.2 L1224.1,254.1 L1226.6,248.4 L1239.1,248.0 L1242.3,246.5 L1265.7,246.5" fill="none" stroke="rgba(255,0,0,0.25)" stroke-width="2.8" stroke-linejoin="round"/><path d="M8.5,548.5 L53.6,548.5 L57.0,559.8 L60.2,562.6 L95.3,562.6 L98.4,576.1 L100.3,577.4 L110.9,577.4 L113.4,588.6 L119.7,599.9 L122.2,601.4 L129.7,601.4 L132.2,611.2 L147.9,611.6 L151.0,628.1 L152.3,628.8 L184.0,628.8 L210.9,628.6 L215.8,624.4 L218.2,615.8 L228.1,614.6 L230.5,611.4 L230.5,611.3 L319.8,611.3 L322.3,587.7 L324.2,570.2 L327.3,558.9 L328.6,558.3 L336.7,558.3 L339.8,555.8 L354.0,555.8 L354.0,556.6 L418.3,556.6 L420.2,567.6 L421.5,581.4 L424.0,583.9 L427.7,587.9 L481.0,588.3 L483.5,583.6 L491.0,583.3 L493.5,580.8 L496.7,580.1 L499.2,567.6 L501.1,552.6 L502.9,546.9 L513.6,546.3 L513.6,547.2 L516.4,536.5 L519.5,521.5 L521.4,509.6 L614.1,509.6 L617.9,490.1 L620.4,480.1 L625.4,475.7 L632.9,473.8 L638.0,468.8 L639.2,464.1 L643.6,463.8 L645.5,452.5 L648.2,436.5 L651.3,432.8 L668.3,432.5 L670.8,426.5 L672.6,417.1 L680.2,416.7 L687.1,414.2 L688.9,400.8 L692.7,400.2 L695.2,392.3 L727.8,392.3 L730.3,377.6 L752.9,377.4 L756.0,366.3 L761.0,355.1 L780.4,354.4 L786.7,348.8 L804.0,348.6 L811.9,348.1 L815.7,344.4 L819.5,341.9 L822.6,341.4 L825.1,327.2 L828.9,327.2 L832.0,332.2 L907.8,332.2 L914.1,330.9 L916.6,317.8 L918.5,310.3 L949.2,310.0 L950.9,301.2 L955.3,299.3 L1012.3,299.3 L1015.8,294.9 L1020.2,294.3 L1031.4,292.4 L1037.7,291.2 L1049.0,290.6 L1053.4,287.4 L1059.0,279.3 L1063.0,278.6 L1064.5,255.3 L1067.6,253.4 L1075.8,253.0 L1078.9,240.2 L1083.9,218.9 L1086.4,218.3 L1100.8,217.7 L1103.4,207.0 L1106.5,203.2 L1116.5,203.2 L1119.0,202.4 L1122.8,202.4 L1125.9,197.0 L1129.0,188.2 L1132.2,178.6 L1138.5,178.6 L1141.6,175.7 L1146.6,174.8 L1171.9,174.8" fill="none" stroke="rgba(0,0,255,0.2)" stroke-width="2.8" stroke-linejoin="round"/>
<rect x="8" y="90" width="608" height="1" fill="#6ea8dc" shape-rendering="crispEdges"/><rect x="8" y="287" width="608" height="1" fill="#6ea8dc" shape-rendering="crispEdges"/><rect x="8" y="484" width="608" height="1" fill="#6ea8dc" shape-rendering="crispEdges"/><line x1="6.8" x2="979.3" y1="459.5" y2="459.5" stroke="#d32f2f" stroke-width="3" stroke-dasharray="15.2 17.77"/>
<g shape-rendering="crispEdges"><rect x="7" y="63" width="1393" height="3" fill="#ff0000"/><rect x="7" y="273" width="1393" height="3" fill="#000000"/><rect x="641" y="302" width="759" height="3" fill="#4caf50"/><rect x="628" y="351" width="772" height="3" fill="#f44336"/><rect x="7" y="543" width="1393" height="3" fill="#ff0000"/></g>
<g shape-rendering="crispEdges"><g fill="#26a69a"><rect x="15" y="582" width="1" height="22"/><rect x="14" y="588" width="3" height="11"/><rect x="22" y="583" width="1" height="10"/><rect x="21" y="587" width="3" height="4"/><rect x="28" y="583" width="1" height="7"/><rect x="27" y="584" width="3" height="5"/><rect x="31" y="581" width="1" height="5"/><rect x="30" y="582" width="3" height="2"/><rect x="38" y="577" width="1" height="10"/><rect x="37" y="578" width="3" height="7"/><rect x="41" y="569" width="1" height="17"/><rect x="40" y="577" width="3" height="1"/><rect x="47" y="576" width="1" height="5"/><rect x="46" y="579" width="3" height="1"/><rect x="50" y="575" width="1" height="5"/><rect x="49" y="576" width="3" height="3"/><rect x="60" y="606" width="1" height="16"/><rect x="59" y="608" width="3" height="4"/><rect x="69" y="586" width="1" height="30"/><rect x="68" y="596" width="3" height="17"/><rect x="76" y="595" width="1" height="17"/><rect x="75" y="603" width="3" height="1"/><rect x="82" y="598" width="1" height="8"/><rect x="81" y="603" width="3" height="1"/><rect x="91" y="600" width="1" height="14"/><rect x="90" y="607" width="3" height="4"/><rect x="94" y="591" width="1" height="21"/><rect x="93" y="607" width="3" height="1"/><rect x="110" y="632" width="1" height="18"/><rect x="109" y="632" width="3" height="12"/><rect x="120" y="674" width="1" height="25"/><rect x="119" y="686" width="3" height="1"/><rect x="123" y="669" width="1" height="21"/><rect x="122" y="674" width="3" height="12"/><rect x="132" y="643" width="1" height="76"/><rect x="131" y="650" width="3" height="36"/><rect x="136" y="626" width="1" height="33"/><rect x="135" y="627" width="3" height="23"/><rect x="139" y="537" width="1" height="92"/><rect x="138" y="572" width="3" height="55"/><rect x="148" y="589" width="1" height="26"/><rect x="147" y="597" width="3" height="9"/><rect x="155" y="590" width="1" height="14"/><rect x="154" y="591" width="3" height="7"/><rect x="164" y="594" width="1" height="13"/><rect x="163" y="597" width="3" height="2"/><rect x="170" y="581" width="1" height="17"/><rect x="169" y="594" width="3" height="3"/><rect x="174" y="585" width="1" height="14"/><rect x="173" y="588" width="3" height="6"/><rect x="186" y="594" width="1" height="9"/><rect x="185" y="596" width="3" height="3"/><rect x="193" y="595" width="1" height="5"/><rect x="192" y="596" width="3" height="2"/><rect x="202" y="586" width="1" height="14"/><rect x="201" y="587" width="3" height="10"/><rect x="208" y="588" width="1" height="7"/><rect x="207" y="589" width="3" height="5"/><rect x="211" y="541" width="1" height="51"/><rect x="210" y="552" width="3" height="37"/><rect x="215" y="530" width="1" height="27"/><rect x="214" y="534" width="3" height="18"/><rect x="218" y="511" width="1" height="23"/><rect x="217" y="520" width="3" height="14"/><rect x="224" y="523" width="1" height="13"/><rect x="223" y="526" width="3" height="8"/><rect x="227" y="515" width="1" height="25"/><rect x="226" y="520" width="3" height="6"/><rect x="243" y="553" width="1" height="31"/><rect x="242" y="559" width="3" height="21"/><rect x="253" y="575" width="1" height="12"/><rect x="252" y="579" width="3" height="1"/><rect x="259" y="576" width="1" height="12"/><rect x="258" y="580" width="3" height="3"/><rect x="268" y="580" width="1" height="22"/><rect x="267" y="581" width="3" height="9"/><rect x="278" y="584" width="1" height="8"/><rect x="277" y="586" width="3" height="4"/><rect x="284" y="580" width="1" height="10"/><rect x="283" y="582" width="3" height="8"/><rect x="287" y="545" width="1" height="44"/><rect x="286" y="570" width="3" height="12"/><rect x="294" y="583" width="1" height="7"/><rect x="293" y="584" width="3" height="5"/><rect x="303" y="575" width="1" height="35"/><rect x="302" y="582" width="3" height="21"/><rect x="310" y="579" width="1" height="8"/><rect x="309" y="579" width="3" height="8"/><rect x="313" y="565" width="1" height="15"/><rect x="312" y="573" width="3" height="6"/><rect x="316" y="562" width="1" height="13"/><rect x="315" y="572" width="3" height="1"/><rect x="322" y="561" width="1" height="14"/><rect x="321" y="571" width="3" height="1"/><rect x="325" y="562" width="1" height="16"/><rect x="324" y="564" width="3" height="7"/><rect x="335" y="567" width="1" height="6"/><rect x="334" y="568" width="3" height="3"/><rect x="338" y="557" width="1" height="15"/><rect x="337" y="565" width="3" height="3"/><rect x="341" y="551" width="1" height="17"/><rect x="340" y="554" width="3" height="11"/><rect x="344" y="540" width="1" height="17"/><rect x="343" y="541" width="3" height="13"/><rect x="354" y="556" width="1" height="9"/><rect x="353" y="559" width="3" height="4"/><rect x="366" y="575" width="1" height="10"/><rect x="365" y="582" width="3" height="3"/><rect x="373" y="579" width="1" height="7"/><rect x="372" y="581" width="3" height="3"/><rect x="385" y="590" width="1" height="7"/><rect x="384" y="592" width="3" height="4"/><rect x="389" y="583" width="1" height="12"/><rect x="388" y="585" width="3" height="7"/><rect x="398" y="580" width="1" height="12"/><rect x="397" y="585" width="3" height="6"/><rect x="401" y="581" width="1" height="6"/><rect x="400" y="585" width="3" height="1"/><rect x="414" y="594" width="1" height="14"/><rect x="413" y="602" width="3" height="5"/><rect x="430" y="571" width="1" height="62"/><rect x="429" y="588" width="3" height="44"/><rect x="433" y="559" width="1" height="30"/><rect x="432" y="564" width="3" height="24"/><rect x="439" y="550" width="1" height="24"/><rect x="438" y="565" width="3" height="3"/><rect x="442" y="560" width="1" height="18"/><rect x="441" y="563" width="3" height="2"/><rect x="449" y="558" width="1" height="11"/><rect x="448" y="564" width="3" height="1"/><rect x="458" y="552" width="1" height="25"/><rect x="457" y="566" width="3" height="3"/><rect x="461" y="560" width="1" height="10"/><rect x="460" y="561" width="3" height="5"/><rect x="464" y="539" width="1" height="24"/><rect x="463" y="541" width="3" height="20"/><rect x="474" y="540" width="1" height="11"/><rect x="473" y="543" width="3" height="6"/><rect x="483" y="522" width="1" height="41"/><rect x="482" y="529" width="3" height="32"/><rect x="490" y="523" width="1" height="13"/><rect x="489" y="530" width="3" height="6"/><rect x="496" y="527" width="1" height="8"/><rect x="495" y="530" width="3" height="4"/><rect x="499" y="485" width="1" height="47"/><rect x="498" y="492" width="3" height="38"/><rect x="502" y="449" width="1" height="44"/><rect x="501" y="468" width="3" height="24"/><rect x="509" y="457" width="1" height="19"/><rect x="508" y="470" width="3" height="1"/><rect x="515" y="429" width="1" height="66"/><rect x="514" y="438" width="3" height="53"/><rect x="518" y="415" width="1" height="45"/><rect x="517" y="425" width="3" height="13"/><rect x="521" y="373" width="1" height="53"/><rect x="520" y="400" width="3" height="25"/><rect x="528" y="388" width="1" height="18"/><rect x="527" y="394" width="3" height="7"/><rect x="537" y="433" width="1" height="39"/><rect x="536" y="443" width="3" height="16"/><rect x="550" y="459" width="1" height="16"/><rect x="549" y="469" width="3" height="4"/><rect x="553" y="460" width="1" height="28"/><rect x="552" y="465" width="3" height="4"/><rect x="566" y="478" width="1" height="28"/><rect x="565" y="480" width="3" height="16"/><rect x="569" y="437" width="1" height="47"/><rect x="568" y="440" width="3" height="40"/><rect x="572" y="427" width="1" height="39"/><rect x="571" y="440" width="3" height="1"/><rect x="575" y="416" width="1" height="37"/><rect x="574" y="417" width="3" height="23"/><rect x="588" y="432" width="1" height="17"/><rect x="587" y="435" width="3" height="10"/><rect x="591" y="415" width="1" height="26"/><rect x="590" y="425" width="3" height="10"/><rect x="597" y="432" width="1" height="27"/><rect x="596" y="437" width="3" height="11"/><rect x="600" y="427" width="1" height="13"/><rect x="599" y="436" width="3" height="1"/><rect x="604" y="424" width="1" height="13"/><rect x="603" y="434" width="3" height="2"/><rect x="607" y="421" width="1" height="13"/><rect x="606" y="425" width="3" height="9"/><rect x="613" y="419" width="1" height="17"/><rect x="612" y="419" width="3" height="12"/><rect x="623" y="430" width="1" height="12"/><rect x="622" y="439" width="3" height="1"/><rect x="626" y="433" width="1" height="13"/><rect x="625" y="438" width="3" height="1"/><rect x="629" y="431" width="1" height="10"/><rect x="628" y="433" width="3" height="5"/><rect x="635" y="369" width="1" height="65"/><rect x="634" y="371" width="3" height="63"/><rect x="638" y="352" width="1" height="21"/><rect x="637" y="365" width="3" height="6"/><rect x="642" y="357" width="1" height="12"/><rect x="641" y="363" width="3" height="2"/><rect x="645" y="321" width="1" height="53"/><rect x="644" y="334" width="3" height="29"/><rect x="648" y="304" width="1" height="58"/><rect x="647" y="318" width="3" height="16"/><rect x="651" y="299" width="1" height="37"/><rect x="650" y="310" width="3" height="8"/><rect x="661" y="317" width="1" height="35"/><rect x="660" y="329" width="3" height="19"/><rect x="664" y="300" width="1" height="32"/><rect x="663" y="324" width="3" height="5"/><rect x="667" y="315" width="1" height="23"/><rect x="666" y="323" width="3" height="1"/><rect x="670" y="303" width="1" height="25"/><rect x="669" y="313" width="3" height="10"/><rect x="676" y="330" width="1" height="17"/><rect x="675" y="339" width="3" height="5"/><rect x="679" y="328" width="1" height="24"/><rect x="678" y="330" width="3" height="9"/><rect x="689" y="323" width="1" height="18"/><rect x="688" y="330" width="3" height="4"/><rect x="692" y="310" width="1" height="28"/><rect x="691" y="320" width="3" height="10"/><rect x="695" y="280" width="1" height="43"/><rect x="694" y="293" width="3" height="27"/><rect x="705" y="291" width="1" height="27"/><rect x="704" y="305" width="3" height="5"/><rect x="708" y="290" width="1" height="18"/><rect x="707" y="299" width="3" height="6"/><rect x="711" y="285" width="1" height="20"/><rect x="710" y="295" width="3" height="4"/><rect x="717" y="298" width="1" height="15"/><rect x="716" y="305" width="3" height="4"/><rect x="721" y="289" width="1" height="17"/><rect x="720" y="299" width="3" height="6"/><rect x="724" y="294" width="1" height="16"/><rect x="723" y="299" width="3" height="1"/><rect x="727" y="288" width="1" height="12"/><rect x="726" y="296" width="3" height="3"/><rect x="730" y="250" width="1" height="52"/><rect x="729" y="257" width="3" height="39"/><rect x="743" y="339" width="1" height="9"/><rect x="742" y="343" width="3" height="3"/><rect x="746" y="324" width="1" height="51"/><rect x="745" y="333" width="3" height="10"/><rect x="759" y="338" width="1" height="27"/><rect x="758" y="339" width="3" height="10"/><rect x="768" y="339" width="1" height="10"/><rect x="767" y="341" width="3" height="5"/><rect x="774" y="336" width="1" height="16"/><rect x="773" y="343" width="3" height="3"/><rect x="784" y="320" width="1" height="46"/><rect x="783" y="328" width="3" height="37"/><rect x="790" y="316" width="1" height="19"/><rect x="789" y="331" width="3" height="1"/><rect x="800" y="336" width="1" height="22"/><rect x="799" y="343" width="3" height="2"/><rect x="803" y="339" width="1" height="6"/><rect x="802" y="340" width="3" height="3"/><rect x="819" y="391" width="1" height="13"/><rect x="818" y="393" width="3" height="2"/><rect x="822" y="379" width="1" height="17"/><rect x="821" y="385" width="3" height="8"/><rect x="828" y="394" width="1" height="10"/><rect x="827" y="397" width="3" height="3"/><rect x="831" y="384" width="1" height="30"/><rect x="830" y="385" width="3" height="12"/><rect x="834" y="367" width="1" height="24"/><rect x="833" y="369" width="3" height="16"/><rect x="838" y="364" width="1" height="14"/><rect x="837" y="368" width="3" height="1"/><rect x="847" y="395" width="1" height="12"/><rect x="846" y="403" width="3" height="2"/><rect x="850" y="390" width="1" height="14"/><rect x="849" y="401" width="3" height="2"/><rect x="853" y="393" width="1" height="12"/><rect x="852" y="397" width="3" height="4"/><rect x="857" y="391" width="1" height="8"/><rect x="856" y="393" width="3" height="4"/><rect x="863" y="392" width="1" height="11"/><rect x="862" y="393" width="3" height="3"/><rect x="866" y="386" width="1" height="11"/><rect x="865" y="388" width="3" height="5"/><rect x="869" y="368" width="1" height="22"/><rect x="868" y="373" width="3" height="15"/><rect x="876" y="352" width="1" height="27"/><rect x="875" y="358" width="3" height="21"/><rect x="879" y="350" width="1" height="11"/><rect x="878" y="351" width="3" height="7"/><rect x="882" y="335" width="1" height="16"/><rect x="881" y="342" width="3" height="9"/><rect x="888" y="326" width="1" height="31"/><rect x="887" y="330" width="3" height="14"/><rect x="891" y="320" width="1" height="16"/><rect x="890" y="323" width="3" height="7"/><rect x="894" y="286" width="1" height="41"/><rect x="893" y="296" width="3" height="27"/><rect x="901" y="257" width="1" height="43"/><rect x="900" y="264" width="3" height="36"/><rect x="907" y="264" width="1" height="32"/><rect x="906" y="272" width="3" height="4"/><rect x="917" y="209" width="1" height="75"/><rect x="916" y="214" width="3" height="70"/><rect x="923" y="215" width="1" height="13"/><rect x="922" y="222" width="3" height="2"/><rect x="932" y="214" width="1" height="25"/><rect x="931" y="218" width="3" height="18"/><rect x="942" y="217" width="1" height="23"/><rect x="941" y="218" width="3" height="21"/><rect x="948" y="212" width="1" height="20"/><rect x="947" y="220" width="3" height="7"/><rect x="951" y="188" width="1" height="86"/><rect x="950" y="199" width="3" height="21"/><rect x="955" y="184" width="1" height="20"/><rect x="954" y="196" width="3" height="3"/><rect x="974" y="212" width="1" height="24"/><rect x="973" y="225" width="3" height="10"/><rect x="977" y="204" width="1" height="22"/><rect x="976" y="212" width="3" height="13"/><rect x="980" y="206" width="1" height="12"/><rect x="979" y="211" width="3" height="1"/><rect x="989" y="212" width="1" height="17"/><rect x="988" y="225" width="3" height="2"/><rect x="993" y="213" width="1" height="12"/><rect x="992" y="218" width="3" height="7"/><rect x="999" y="216" width="1" height="48"/><rect x="998" y="220" width="3" height="19"/><rect x="1002" y="205" width="1" height="19"/><rect x="1001" y="210" width="3" height="10"/><rect x="1005" y="200" width="1" height="20"/><rect x="1004" y="205" width="3" height="5"/><rect x="1015" y="178" width="1" height="65"/><rect x="1014" y="219" width="3" height="10"/><rect x="1027" y="227" width="1" height="18"/><rect x="1026" y="230" width="3" height="6"/><rect x="1043" y="246" width="1" height="22"/><rect x="1042" y="252" width="3" height="1"/><rect x="1049" y="249" width="1" height="12"/><rect x="1048" y="255" width="3" height="2"/><rect x="1053" y="243" width="1" height="14"/><rect x="1052" y="246" width="3" height="9"/><rect x="1056" y="235" width="1" height="15"/><rect x="1055" y="240" width="3" height="6"/><rect x="1059" y="211" width="1" height="34"/><rect x="1058" y="213" width="3" height="27"/><rect x="1062" y="196" width="1" height="18"/><rect x="1061" y="200" width="3" height="13"/><rect x="1065" y="151" width="1" height="51"/><rect x="1064" y="168" width="3" height="32"/><rect x="1072" y="172" width="1" height="21"/><rect x="1071" y="176" width="3" height="1"/><rect x="1078" y="164" width="1" height="20"/><rect x="1077" y="166" width="3" height="11"/><rect x="1081" y="135" width="1" height="39"/><rect x="1080" y="149" width="3" height="17"/><rect x="1087" y="148" width="1" height="23"/><rect x="1086" y="154" width="3" height="5"/><rect x="1091" y="138" width="1" height="19"/><rect x="1090" y="151" width="3" height="3"/><rect x="1094" y="145" width="1" height="15"/><rect x="1093" y="149" width="3" height="2"/><rect x="1097" y="132" width="1" height="23"/><rect x="1096" y="148" width="3" height="1"/><rect x="1106" y="143" width="1" height="17"/><rect x="1105" y="144" width="3" height="11"/><rect x="1113" y="154" width="1" height="11"/><rect x="1112" y="154" width="3" height="8"/><rect x="1116" y="137" width="1" height="18"/><rect x="1115" y="142" width="3" height="12"/><rect x="1119" y="130" width="1" height="26"/><rect x="1118" y="139" width="3" height="3"/><rect x="1122" y="130" width="1" height="14"/><rect x="1121" y="136" width="3" height="3"/><rect x="1125" y="120" width="1" height="21"/><rect x="1124" y="129" width="3" height="7"/><rect x="1128" y="102" width="1" height="30"/><rect x="1127" y="104" width="3" height="25"/><rect x="1132" y="82" width="1" height="22"/><rect x="1131" y="89" width="3" height="15"/><rect x="1144" y="83" width="1" height="21"/><rect x="1143" y="84" width="3" height="16"/><rect x="1157" y="126" width="1" height="26"/><rect x="1156" y="135" width="3" height="12"/><rect x="1163" y="130" width="1" height="14"/><rect x="1162" y="136" width="3" height="7"/><rect x="1170" y="150" width="1" height="11"/><rect x="1169" y="151" width="3" height="6"/></g><g fill="#ef5350"><rect x="9" y="545" width="1" height="67"/><rect x="8" y="587" width="3" height="9"/><rect x="12" y="593" width="1" height="6"/><rect x="11" y="596" width="3" height="3"/><rect x="19" y="583" width="1" height="16"/><rect x="18" y="588" width="3" height="3"/><rect x="25" y="577" width="1" height="13"/><rect x="24" y="587" width="3" height="2"/><rect x="34" y="578" width="1" height="11"/><rect x="33" y="582" width="3" height="3"/><rect x="44" y="576" width="1" height="7"/><rect x="43" y="577" width="3" height="3"/><rect x="53" y="576" width="1" height="23"/><rect x="52" y="576" width="3" height="15"/><rect x="57" y="589" width="1" height="28"/><rect x="56" y="591" width="3" height="21"/><rect x="63" y="605" width="1" height="6"/><rect x="62" y="608" width="3" height="2"/><rect x="66" y="609" width="1" height="9"/><rect x="65" y="610" width="3" height="3"/><rect x="72" y="591" width="1" height="16"/><rect x="71" y="596" width="3" height="7"/><rect x="79" y="600" width="1" height="9"/><rect x="78" y="603" width="3" height="1"/><rect x="85" y="599" width="1" height="12"/><rect x="84" y="603" width="3" height="8"/><rect x="88" y="606" width="1" height="11"/><rect x="87" y="611" width="3" height="1"/><rect x="98" y="603" width="1" height="47"/><rect x="97" y="607" width="3" height="31"/><rect x="101" y="636" width="1" height="15"/><rect x="100" y="638" width="3" height="3"/><rect x="104" y="639" width="1" height="7"/><rect x="103" y="641" width="3" height="1"/><rect x="107" y="640" width="1" height="6"/><rect x="106" y="642" width="3" height="2"/><rect x="113" y="631" width="1" height="47"/><rect x="112" y="632" width="3" height="42"/><rect x="117" y="665" width="1" height="27"/><rect x="116" y="674" width="3" height="13"/><rect x="126" y="670" width="1" height="22"/><rect x="125" y="674" width="3" height="12"/><rect x="129" y="676" width="1" height="12"/><rect x="128" y="686" width="3" height="1"/><rect x="142" y="557" width="1" height="40"/><rect x="141" y="572" width="3" height="20"/><rect x="145" y="591" width="1" height="15"/><rect x="144" y="592" width="3" height="14"/><rect x="151" y="582" width="1" height="30"/><rect x="150" y="597" width="3" height="1"/><rect x="158" y="591" width="1" height="10"/><rect x="157" y="591" width="3" height="4"/><rect x="161" y="594" width="1" height="14"/><rect x="160" y="595" width="3" height="4"/><rect x="167" y="591" width="1" height="16"/><rect x="166" y="597" width="3" height="1"/><rect x="177" y="584" width="1" height="7"/><rect x="176" y="588" width="3" height="1"/><rect x="180" y="588" width="1" height="7"/><rect x="179" y="589" width="3" height="4"/><rect x="183" y="589" width="1" height="11"/><rect x="182" y="593" width="3" height="6"/><rect x="189" y="594" width="1" height="6"/><rect x="188" y="596" width="3" height="2"/><rect x="196" y="591" width="1" height="12"/><rect x="195" y="596" width="3" height="1"/><rect x="199" y="595" width="1" height="4"/><rect x="198" y="597" width="3" height="1"/><rect x="205" y="585" width="1" height="13"/><rect x="204" y="587" width="3" height="7"/><rect x="221" y="519" width="1" height="23"/><rect x="220" y="520" width="3" height="14"/><rect x="230" y="502" width="1" height="57"/><rect x="229" y="520" width="3" height="27"/><rect x="234" y="546" width="1" height="30"/><rect x="233" y="547" width="3" height="22"/><rect x="237" y="564" width="1" height="9"/><rect x="236" y="569" width="3" height="1"/><rect x="240" y="564" width="1" height="17"/><rect x="239" y="569" width="3" height="11"/><rect x="246" y="549" width="1" height="30"/><rect x="245" y="559" width="3" height="16"/><rect x="249" y="570" width="1" height="25"/><rect x="248" y="575" width="3" height="5"/><rect x="256" y="577" width="1" height="8"/><rect x="255" y="579" width="3" height="4"/><rect x="262" y="577" width="1" height="9"/><rect x="261" y="580" width="3" height="5"/><rect x="265" y="578" width="1" height="15"/><rect x="264" y="585" width="3" height="5"/><rect x="272" y="576" width="1" height="17"/><rect x="271" y="581" width="3" height="7"/><rect x="275" y="584" width="1" height="7"/><rect x="274" y="588" width="3" height="2"/><rect x="281" y="581" width="1" height="9"/><rect x="280" y="586" width="3" height="4"/><rect x="291" y="566" width="1" height="31"/><rect x="290" y="570" width="3" height="19"/><rect x="297" y="583" width="1" height="12"/><rect x="296" y="584" width="3" height="9"/><rect x="300" y="589" width="1" height="22"/><rect x="299" y="593" width="3" height="10"/><rect x="306" y="576" width="1" height="18"/><rect x="305" y="582" width="3" height="5"/><rect x="319" y="567" width="1" height="14"/><rect x="318" y="572" width="3" height="1"/><rect x="328" y="563" width="1" height="9"/><rect x="327" y="564" width="3" height="7"/><rect x="332" y="569" width="1" height="5"/><rect x="331" y="571" width="3" height="1"/><rect x="347" y="531" width="1" height="31"/><rect x="346" y="541" width="3" height="15"/><rect x="351" y="555" width="1" height="15"/><rect x="350" y="556" width="3" height="7"/><rect x="357" y="558" width="1" height="15"/><rect x="356" y="559" width="3" height="11"/><rect x="360" y="565" width="1" height="16"/><rect x="359" y="570" width="3" height="10"/><rect x="363" y="578" width="1" height="9"/><rect x="362" y="580" width="3" height="5"/><rect x="370" y="580" width="1" height="12"/><rect x="369" y="582" width="3" height="2"/><rect x="376" y="580" width="1" height="8"/><rect x="375" y="581" width="3" height="1"/><rect x="379" y="569" width="1" height="24"/><rect x="378" y="582" width="3" height="10"/><rect x="382" y="586" width="1" height="15"/><rect x="381" y="592" width="3" height="4"/><rect x="392" y="584" width="1" height="6"/><rect x="391" y="585" width="3" height="4"/><rect x="395" y="584" width="1" height="11"/><rect x="394" y="589" width="3" height="2"/><rect x="404" y="583" width="1" height="12"/><rect x="403" y="585" width="3" height="6"/><rect x="408" y="589" width="1" height="16"/><rect x="407" y="591" width="3" height="14"/><rect x="411" y="598" width="1" height="10"/><rect x="410" y="605" width="3" height="2"/><rect x="417" y="597" width="1" height="11"/><rect x="416" y="602" width="3" height="1"/><rect x="420" y="600" width="1" height="37"/><rect x="419" y="602" width="3" height="26"/><rect x="423" y="626" width="1" height="8"/><rect x="422" y="628" width="3" height="2"/><rect x="427" y="629" width="1" height="17"/><rect x="426" y="630" width="3" height="2"/><rect x="436" y="556" width="1" height="25"/><rect x="435" y="564" width="3" height="4"/><rect x="445" y="562" width="1" height="13"/><rect x="444" y="563" width="3" height="2"/><rect x="452" y="559" width="1" height="13"/><rect x="451" y="564" width="3" height="1"/><rect x="455" y="565" width="1" height="9"/><rect x="454" y="565" width="3" height="4"/><rect x="468" y="536" width="1" height="9"/><rect x="467" y="541" width="3" height="3"/><rect x="471" y="540" width="1" height="13"/><rect x="470" y="544" width="3" height="5"/><rect x="477" y="540" width="1" height="10"/><rect x="476" y="543" width="3" height="3"/><rect x="480" y="543" width="1" height="25"/><rect x="479" y="546" width="3" height="15"/><rect x="487" y="527" width="1" height="10"/><rect x="486" y="529" width="3" height="7"/><rect x="493" y="516" width="1" height="22"/><rect x="492" y="530" width="3" height="4"/><rect x="506" y="467" width="1" height="15"/><rect x="505" y="468" width="3" height="3"/><rect x="512" y="466" width="1" height="27"/><rect x="511" y="470" width="3" height="21"/><rect x="525" y="387" width="1" height="17"/><rect x="524" y="400" width="3" height="1"/><rect x="531" y="380" width="1" height="37"/><rect x="530" y="394" width="3" height="6"/><rect x="534" y="395" width="1" height="64"/><rect x="533" y="400" width="3" height="59"/><rect x="540" y="443" width="1" height="20"/><rect x="539" y="443" width="3" height="17"/><rect x="544" y="455" width="1" height="13"/><rect x="543" y="460" width="3" height="1"/><rect x="547" y="459" width="1" height="18"/><rect x="546" y="461" width="3" height="12"/><rect x="556" y="451" width="1" height="44"/><rect x="555" y="465" width="3" height="19"/><rect x="559" y="478" width="1" height="14"/><rect x="558" y="484" width="3" height="1"/><rect x="562" y="484" width="1" height="17"/><rect x="561" y="484" width="3" height="12"/><rect x="578" y="407" width="1" height="22"/><rect x="577" y="417" width="3" height="6"/><rect x="581" y="420" width="1" height="21"/><rect x="580" y="423" width="3" height="16"/><rect x="585" y="430" width="1" height="19"/><rect x="584" y="439" width="3" height="6"/><rect x="594" y="401" width="1" height="50"/><rect x="593" y="425" width="3" height="23"/><rect x="610" y="418" width="1" height="22"/><rect x="609" y="425" width="3" height="6"/><rect x="616" y="417" width="1" height="21"/><rect x="615" y="419" width="3" height="16"/><rect x="619" y="432" width="1" height="12"/><rect x="618" y="435" width="3" height="5"/><rect x="632" y="424" width="1" height="10"/><rect x="631" y="433" width="3" height="1"/><rect x="654" y="296" width="1" height="36"/><rect x="653" y="310" width="3" height="19"/><rect x="657" y="327" width="1" height="26"/><rect x="656" y="329" width="3" height="19"/><rect x="673" y="307" width="1" height="45"/><rect x="672" y="313" width="3" height="31"/><rect x="683" y="320" width="1" height="24"/><rect x="682" y="330" width="3" height="2"/><rect x="686" y="332" width="1" height="16"/><rect x="685" y="332" width="3" height="2"/><rect x="698" y="279" width="1" height="25"/><rect x="697" y="293" width="3" height="8"/><rect x="702" y="298" width="1" height="24"/><rect x="701" y="301" width="3" height="9"/><rect x="714" y="295" width="1" height="20"/><rect x="713" y="295" width="3" height="14"/><rect x="733" y="256" width="1" height="21"/><rect x="732" y="257" width="3" height="13"/><rect x="736" y="263" width="1" height="116"/><rect x="735" y="270" width="3" height="70"/><rect x="740" y="338" width="1" height="19"/><rect x="739" y="340" width="3" height="6"/><rect x="749" y="328" width="1" height="17"/><rect x="748" y="333" width="3" height="8"/><rect x="752" y="337" width="1" height="9"/><rect x="751" y="341" width="3" height="1"/><rect x="755" y="337" width="1" height="15"/><rect x="754" y="342" width="3" height="7"/><rect x="762" y="335" width="1" height="9"/><rect x="761" y="339" width="3" height="2"/><rect x="765" y="326" width="1" height="24"/><rect x="764" y="341" width="3" height="5"/><rect x="771" y="336" width="1" height="12"/><rect x="770" y="341" width="3" height="5"/><rect x="777" y="338" width="1" height="8"/><rect x="776" y="343" width="3" height="2"/><rect x="781" y="341" width="1" height="34"/><rect x="780" y="345" width="3" height="20"/><rect x="787" y="325" width="1" height="11"/><rect x="786" y="328" width="3" height="3"/><rect x="793" y="330" width="1" height="19"/><rect x="792" y="331" width="3" height="13"/><rect x="796" y="340" width="1" height="8"/><rect x="795" y="344" width="3" height="1"/><rect x="806" y="338" width="1" height="23"/><rect x="805" y="340" width="3" height="16"/><rect x="809" y="354" width="1" height="18"/><rect x="808" y="356" width="3" height="1"/><rect x="812" y="350" width="1" height="39"/><rect x="811" y="357" width="3" height="28"/><rect x="815" y="371" width="1" height="30"/><rect x="814" y="385" width="3" height="10"/><rect x="825" y="383" width="1" height="22"/><rect x="824" y="385" width="3" height="15"/><rect x="841" y="365" width="1" height="20"/><rect x="840" y="368" width="3" height="12"/><rect x="844" y="379" width="1" height="31"/><rect x="843" y="380" width="3" height="25"/><rect x="860" y="383" width="1" height="14"/><rect x="859" y="393" width="3" height="3"/><rect x="872" y="372" width="1" height="8"/><rect x="871" y="373" width="3" height="6"/><rect x="885" y="340" width="1" height="9"/><rect x="884" y="342" width="3" height="2"/><rect x="898" y="283" width="1" height="20"/><rect x="897" y="296" width="3" height="4"/><rect x="904" y="259" width="1" height="32"/><rect x="903" y="264" width="3" height="12"/><rect x="910" y="248" width="1" height="42"/><rect x="909" y="272" width="3" height="10"/><rect x="913" y="277" width="1" height="25"/><rect x="912" y="282" width="3" height="2"/><rect x="920" y="208" width="1" height="27"/><rect x="919" y="214" width="3" height="10"/><rect x="926" y="210" width="1" height="34"/><rect x="925" y="222" width="3" height="12"/><rect x="929" y="220" width="1" height="20"/><rect x="928" y="234" width="3" height="2"/><rect x="936" y="208" width="1" height="28"/><rect x="935" y="218" width="3" height="15"/><rect x="939" y="227" width="1" height="24"/><rect x="938" y="233" width="3" height="6"/><rect x="945" y="215" width="1" height="17"/><rect x="944" y="218" width="3" height="9"/><rect x="958" y="193" width="1" height="24"/><rect x="957" y="196" width="3" height="14"/><rect x="961" y="209" width="1" height="21"/><rect x="960" y="210" width="3" height="12"/><rect x="964" y="217" width="1" height="22"/><rect x="963" y="222" width="3" height="7"/><rect x="967" y="229" width="1" height="20"/><rect x="966" y="229" width="3" height="1"/><rect x="970" y="226" width="1" height="17"/><rect x="969" y="230" width="3" height="5"/><rect x="983" y="210" width="1" height="18"/><rect x="982" y="211" width="3" height="14"/><rect x="986" y="220" width="1" height="14"/><rect x="985" y="225" width="3" height="2"/><rect x="996" y="217" width="1" height="25"/><rect x="995" y="218" width="3" height="21"/><rect x="1008" y="203" width="1" height="12"/><rect x="1007" y="205" width="3" height="2"/><rect x="1011" y="204" width="1" height="28"/><rect x="1010" y="207" width="3" height="22"/><rect x="1018" y="212" width="1" height="14"/><rect x="1017" y="219" width="3" height="4"/><rect x="1021" y="218" width="1" height="16"/><rect x="1020" y="223" width="3" height="5"/><rect x="1024" y="223" width="1" height="16"/><rect x="1023" y="228" width="3" height="8"/><rect x="1030" y="225" width="1" height="17"/><rect x="1029" y="230" width="3" height="5"/><rect x="1034" y="223" width="1" height="17"/><rect x="1033" y="235" width="3" height="1"/><rect x="1037" y="228" width="1" height="20"/><rect x="1036" y="235" width="3" height="2"/><rect x="1040" y="234" width="1" height="36"/><rect x="1039" y="237" width="3" height="15"/><rect x="1046" y="246" width="1" height="12"/><rect x="1045" y="252" width="3" height="5"/><rect x="1068" y="158" width="1" height="23"/><rect x="1067" y="168" width="3" height="9"/><rect x="1075" y="166" width="1" height="19"/><rect x="1074" y="176" width="3" height="1"/><rect x="1084" y="140" width="1" height="22"/><rect x="1083" y="149" width="3" height="10"/><rect x="1100" y="142" width="1" height="21"/><rect x="1099" y="148" width="3" height="2"/><rect x="1103" y="142" width="1" height="14"/><rect x="1102" y="150" width="3" height="5"/><rect x="1110" y="144" width="1" height="27"/><rect x="1109" y="144" width="3" height="18"/><rect x="1135" y="86" width="1" height="17"/><rect x="1134" y="89" width="3" height="5"/><rect x="1138" y="85" width="1" height="27"/><rect x="1137" y="94" width="3" height="1"/><rect x="1141" y="91" width="1" height="12"/><rect x="1140" y="94" width="3" height="6"/><rect x="1147" y="80" width="1" height="26"/><rect x="1146" y="84" width="3" height="14"/><rect x="1151" y="95" width="1" height="67"/><rect x="1150" y="98" width="3" height="17"/><rect x="1154" y="115" width="1" height="41"/><rect x="1153" y="115" width="3" height="32"/><rect x="1160" y="132" width="1" height="18"/><rect x="1159" y="135" width="3" height="8"/><rect x="1166" y="136" width="1" height="25"/><rect x="1165" y="136" width="3" height="21"/></g></g>
<g stroke="#000" stroke-width="3" stroke-linecap="butt"><line x1="518.6" y1="376.1" x2="679.9" y2="431.5"/><line x1="512.4" y1="492.6" x2="654.6" y2="526.8"/></g><g stroke="#000" stroke-width="2.6"><line x1="635" y1="353.6" x2="643.8" y2="357.8"/><line x1="638.5" y1="368.6" x2="645.2" y2="373.8"/></g>
<g shape-rendering="crispEdges"><line x1="8" x2="1400" y1="150.5" y2="150.5" stroke="#fff" stroke-width="1"/><line x1="8" x2="1400" y1="150.5" y2="150.5" stroke="#17a08d" stroke-width="1" stroke-dasharray="2 1"/></g>
</g>
<g clip-path="url(#cpI)"><g shape-rendering="crispEdges"><g fill="#f9bf5a"><rect x="8" y="785" width="2" height="4"/><rect x="11" y="790" width="2" height="6"/><rect x="14" y="790" width="3" height="5"/><rect x="18" y="790" width="2" height="7"/><rect x="21" y="791" width="2" height="7"/><rect x="24" y="790" width="2" height="2"/><rect x="27" y="790" width="2" height="3"/><rect x="30" y="790" width="2" height="6"/><rect x="33" y="790" width="3" height="5"/><rect x="37" y="790" width="2" height="5"/><rect x="40" y="790" width="2" height="6"/><rect x="43" y="792" width="2" height="7"/><rect x="46" y="793" width="2" height="7"/><rect x="49" y="790" width="2" height="4"/><rect x="52" y="790" width="3" height="5"/><rect x="56" y="793" width="2" height="7"/><rect x="59" y="795" width="2" height="7"/><rect x="62" y="793" width="2" height="7"/><rect x="65" y="792" width="2" height="8"/><rect x="68" y="792" width="2" height="7"/><rect x="71" y="791" width="3" height="7"/><rect x="75" y="790" width="2" height="5"/><rect x="78" y="790" width="2" height="6"/><rect x="81" y="790" width="2" height="6"/><rect x="84" y="790" width="2" height="5"/><rect x="87" y="790" width="2" height="1"/><rect x="90" y="790" width="2" height="1"/><rect x="93" y="790" width="3" height="3"/><rect x="97" y="790" width="2" height="2"/><rect x="100" y="790" width="2" height="6"/><rect x="103" y="790" width="2" height="6"/><rect x="106" y="790" width="2" height="2"/><rect x="109" y="790" width="2" height="5"/><rect x="112" y="796" width="3" height="7"/><rect x="116" y="794" width="2" height="7"/><rect x="119" y="797" width="2" height="7"/><rect x="122" y="798" width="2" height="7"/><rect x="125" y="790" width="2" height="6"/><rect x="128" y="790" width="2" height="5"/><rect x="131" y="792" width="3" height="8"/><rect x="135" y="795" width="2" height="7"/><rect x="138" y="837" width="2" height="7"/><rect x="141" y="811" width="2" height="8"/><rect x="144" y="790" width="2" height="7"/><rect x="147" y="790" width="2" height="7"/><rect x="150" y="798" width="3" height="7"/><rect x="154" y="796" width="2" height="7"/><rect x="157" y="794" width="2" height="8"/><rect x="160" y="790" width="2" height="7"/><rect x="163" y="790" width="2" height="1"/><rect x="166" y="790" width="2" height="6"/><rect x="169" y="791" width="3" height="7"/><rect x="173" y="790" width="2" height="7"/><rect x="176" y="790" width="2" height="6"/><rect x="179" y="790" width="2" height="6"/><rect x="182" y="792" width="2" height="7"/><rect x="185" y="792" width="2" height="7"/><rect x="188" y="790" width="3" height="7"/><rect x="192" y="790" width="2" height="7"/><rect x="195" y="794" width="2" height="7"/><rect x="198" y="790" width="2" height="6"/><rect x="201" y="790" width="2" height="1"/><rect x="204" y="790" width="2" height="1"/><rect x="207" y="790" width="2" height="4"/><rect x="210" y="790" width="3" height="7"/><rect x="214" y="790" width="2" height="4"/><rect x="217" y="790" width="2" height="4"/><rect x="220" y="790" width="2" height="1"/><rect x="223" y="785" width="2" height="4"/><rect x="226" y="790" width="2" height="4"/><rect x="229" y="790" width="3" height="1"/><rect x="233" y="790" width="2" height="1"/><rect x="236" y="790" width="2" height="3"/><rect x="239" y="790" width="2" height="5"/><rect x="242" y="790" width="2" height="5"/><rect x="245" y="790" width="2" height="4"/><rect x="248" y="790" width="3" height="2"/><rect x="252" y="790" width="2" height="1"/><rect x="255" y="790" width="2" height="3"/><rect x="258" y="790" width="2" height="4"/><rect x="261" y="790" width="2" height="3"/><rect x="271" y="790" width="2" height="1"/><rect x="277" y="783" width="2" height="6"/><rect x="280" y="783" width="2" height="6"/><rect x="283" y="786" width="2" height="3"/><rect x="286" y="788" width="3" height="1"/><rect x="290" y="790" width="2" height="1"/><rect x="293" y="790" width="2" height="1"/><rect x="296" y="785" width="2" height="4"/><rect x="299" y="787" width="2" height="2"/><rect x="302" y="788" width="2" height="1"/><rect x="305" y="788" width="3" height="1"/><rect x="309" y="790" width="2" height="3"/><rect x="312" y="790" width="2" height="2"/><rect x="315" y="788" width="2" height="1"/><rect x="318" y="788" width="2" height="1"/><rect x="324" y="790" width="2" height="1"/><rect x="327" y="790" width="3" height="2"/><rect x="331" y="790" width="2" height="2"/><rect x="334" y="790" width="2" height="3"/><rect x="337" y="790" width="2" height="2"/><rect x="340" y="785" width="2" height="4"/><rect x="343" y="784" width="2" height="5"/><rect x="353" y="788" width="2" height="1"/><rect x="356" y="788" width="2" height="1"/><rect x="359" y="787" width="2" height="2"/><rect x="362" y="788" width="2" height="1"/><rect x="369" y="790" width="2" height="3"/><rect x="378" y="788" width="2" height="1"/><rect x="381" y="788" width="2" height="1"/><rect x="394" y="790" width="2" height="1"/><rect x="397" y="790" width="2" height="2"/><rect x="400" y="790" width="2" height="2"/><rect x="403" y="787" width="3" height="2"/><rect x="407" y="790" width="2" height="1"/><rect x="410" y="790" width="2" height="2"/><rect x="413" y="790" width="2" height="2"/><rect x="416" y="792" width="2" height="7"/><rect x="419" y="793" width="2" height="7"/><rect x="422" y="793" width="3" height="7"/><rect x="426" y="792" width="2" height="7"/><rect x="429" y="790" width="2" height="5"/><rect x="432" y="790" width="2" height="2"/><rect x="435" y="790" width="2" height="4"/><rect x="438" y="790" width="2" height="2"/><rect x="444" y="790" width="3" height="1"/><rect x="448" y="790" width="2" height="4"/><rect x="451" y="790" width="2" height="3"/><rect x="467" y="790" width="2" height="1"/><rect x="476" y="790" width="2" height="1"/><rect x="479" y="790" width="2" height="3"/><rect x="482" y="790" width="3" height="6"/><rect x="492" y="790" width="2" height="2"/><rect x="495" y="790" width="2" height="3"/><rect x="498" y="790" width="2" height="3"/><rect x="501" y="790" width="3" height="2"/><rect x="505" y="787" width="2" height="2"/><rect x="508" y="790" width="2" height="1"/><rect x="511" y="790" width="2" height="5"/><rect x="514" y="790" width="2" height="3"/><rect x="517" y="790" width="2" height="2"/><rect x="520" y="790" width="3" height="2"/><rect x="524" y="787" width="2" height="2"/><rect x="527" y="787" width="2" height="2"/><rect x="530" y="790" width="2" height="2"/><rect x="536" y="785" width="2" height="4"/><rect x="539" y="785" width="3" height="4"/><rect x="543" y="784" width="2" height="5"/><rect x="546" y="785" width="2" height="4"/><rect x="549" y="787" width="2" height="2"/><rect x="552" y="785" width="2" height="4"/><rect x="561" y="786" width="3" height="3"/><rect x="565" y="786" width="2" height="3"/><rect x="568" y="782" width="2" height="7"/><rect x="571" y="788" width="2" height="1"/><rect x="574" y="792" width="2" height="7"/><rect x="577" y="790" width="2" height="1"/><rect x="580" y="784" width="3" height="5"/><rect x="584" y="784" width="2" height="5"/><rect x="587" y="785" width="2" height="4"/><rect x="590" y="787" width="2" height="2"/><rect x="596" y="787" width="2" height="2"/><rect x="606" y="787" width="2" height="2"/><rect x="612" y="785" width="2" height="4"/><rect x="615" y="784" width="2" height="5"/><rect x="618" y="785" width="3" height="4"/><rect x="622" y="784" width="2" height="5"/><rect x="631" y="790" width="2" height="1"/><rect x="634" y="783" width="2" height="6"/><rect x="637" y="778" width="3" height="7"/><rect x="641" y="779" width="2" height="7"/><rect x="644" y="790" width="2" height="2"/><rect x="650" y="779" width="2" height="7"/><rect x="653" y="776" width="2" height="8"/><rect x="656" y="775" width="3" height="8"/><rect x="660" y="777" width="2" height="7"/><rect x="663" y="783" width="2" height="6"/><rect x="666" y="782" width="2" height="7"/><rect x="669" y="785" width="2" height="4"/><rect x="672" y="785" width="2" height="4"/><rect x="675" y="777" width="2" height="7"/><rect x="678" y="775" width="3" height="8"/><rect x="682" y="778" width="2" height="7"/><rect x="685" y="775" width="2" height="8"/><rect x="688" y="775" width="2" height="7"/><rect x="691" y="775" width="2" height="7"/><rect x="694" y="775" width="2" height="7"/><rect x="697" y="775" width="3" height="8"/><rect x="701" y="787" width="2" height="2"/><rect x="704" y="787" width="2" height="2"/><rect x="707" y="785" width="2" height="4"/><rect x="710" y="784" width="2" height="5"/><rect x="713" y="783" width="2" height="6"/><rect x="716" y="780" width="3" height="8"/><rect x="720" y="779" width="2" height="8"/><rect x="723" y="779" width="2" height="7"/><rect x="726" y="781" width="2" height="7"/><rect x="729" y="780" width="2" height="7"/><rect x="732" y="781" width="2" height="7"/><rect x="735" y="790" width="3" height="2"/><rect x="742" y="788" width="2" height="1"/><rect x="745" y="799" width="2" height="8"/><rect x="748" y="792" width="2" height="7"/><rect x="751" y="787" width="2" height="2"/><rect x="754" y="785" width="3" height="4"/><rect x="758" y="783" width="2" height="6"/><rect x="761" y="784" width="2" height="5"/><rect x="764" y="781" width="2" height="7"/><rect x="767" y="783" width="2" height="6"/><rect x="770" y="780" width="2" height="7"/><rect x="773" y="778" width="2" height="8"/><rect x="776" y="784" width="3" height="5"/><rect x="780" y="787" width="2" height="2"/><rect x="783" y="782" width="2" height="7"/><rect x="786" y="780" width="2" height="7"/><rect x="789" y="781" width="2" height="7"/><rect x="792" y="785" width="2" height="4"/><rect x="795" y="786" width="3" height="3"/><rect x="799" y="786" width="2" height="3"/><rect x="802" y="783" width="2" height="6"/><rect x="805" y="783" width="2" height="6"/><rect x="808" y="780" width="2" height="7"/><rect x="811" y="782" width="2" height="7"/><rect x="814" y="774" width="3" height="7"/><rect x="818" y="777" width="2" height="7"/><rect x="821" y="786" width="2" height="3"/><rect x="824" y="783" width="2" height="6"/><rect x="827" y="786" width="2" height="3"/><rect x="830" y="781" width="2" height="7"/><rect x="833" y="782" width="3" height="7"/><rect x="837" y="786" width="2" height="3"/><rect x="840" y="790" width="2" height="3"/><rect x="843" y="790" width="2" height="2"/><rect x="846" y="790" width="2" height="2"/><rect x="849" y="790" width="2" height="1"/><rect x="856" y="787" width="2" height="2"/><rect x="862" y="787" width="2" height="2"/><rect x="865" y="786" width="2" height="3"/><rect x="868" y="783" width="2" height="6"/><rect x="871" y="783" width="3" height="6"/><rect x="875" y="784" width="2" height="5"/><rect x="878" y="785" width="2" height="4"/><rect x="881" y="786" width="2" height="3"/><rect x="887" y="782" width="2" height="7"/><rect x="890" y="784" width="2" height="5"/><rect x="893" y="783" width="3" height="6"/><rect x="897" y="779" width="2" height="8"/><rect x="900" y="778" width="2" height="7"/><rect x="903" y="773" width="2" height="7"/><rect x="906" y="774" width="2" height="7"/><rect x="909" y="781" width="2" height="8"/><rect x="912" y="783" width="3" height="6"/><rect x="916" y="768" width="2" height="7"/><rect x="919" y="768" width="2" height="8"/><rect x="922" y="771" width="2" height="7"/><rect x="925" y="771" width="2" height="7"/><rect x="928" y="777" width="2" height="7"/><rect x="931" y="778" width="3" height="8"/><rect x="935" y="782" width="2" height="7"/><rect x="938" y="779" width="2" height="7"/><rect x="941" y="763" width="2" height="8"/><rect x="944" y="767" width="2" height="7"/><rect x="947" y="779" width="2" height="7"/><rect x="954" y="782" width="2" height="7"/><rect x="957" y="780" width="2" height="7"/><rect x="960" y="773" width="2" height="8"/><rect x="963" y="773" width="2" height="8"/><rect x="966" y="782" width="2" height="7"/><rect x="969" y="783" width="3" height="6"/><rect x="973" y="785" width="2" height="4"/><rect x="976" y="782" width="2" height="7"/><rect x="979" y="779" width="2" height="8"/><rect x="982" y="780" width="2" height="7"/><rect x="985" y="782" width="2" height="7"/><rect x="988" y="781" width="3" height="7"/><rect x="992" y="787" width="2" height="2"/><rect x="995" y="784" width="2" height="5"/><rect x="998" y="780" width="2" height="7"/><rect x="1001" y="780" width="2" height="7"/><rect x="1004" y="778" width="2" height="7"/><rect x="1007" y="776" width="2" height="8"/><rect x="1010" y="787" width="3" height="2"/><rect x="1014" y="783" width="2" height="6"/><rect x="1017" y="783" width="2" height="6"/><rect x="1020" y="783" width="2" height="6"/><rect x="1023" y="781" width="2" height="7"/><rect x="1026" y="780" width="2" height="7"/><rect x="1029" y="782" width="3" height="7"/><rect x="1033" y="782" width="2" height="7"/><rect x="1036" y="778" width="2" height="7"/><rect x="1039" y="778" width="2" height="8"/><rect x="1042" y="777" width="2" height="7"/><rect x="1045" y="781" width="2" height="7"/><rect x="1048" y="784" width="3" height="5"/><rect x="1052" y="782" width="2" height="7"/><rect x="1055" y="777" width="2" height="7"/><rect x="1058" y="776" width="2" height="7"/><rect x="1061" y="775" width="2" height="7"/><rect x="1064" y="770" width="2" height="8"/><rect x="1067" y="763" width="3" height="7"/><rect x="1071" y="765" width="2" height="7"/><rect x="1074" y="778" width="2" height="7"/><rect x="1077" y="778" width="2" height="7"/><rect x="1080" y="776" width="2" height="7"/><rect x="1083" y="777" width="2" height="7"/><rect x="1086" y="777" width="3" height="7"/><rect x="1090" y="776" width="2" height="7"/><rect x="1093" y="773" width="2" height="7"/><rect x="1096" y="773" width="2" height="7"/><rect x="1099" y="778" width="2" height="7"/><rect x="1102" y="778" width="2" height="7"/><rect x="1105" y="783" width="3" height="6"/><rect x="1109" y="781" width="2" height="7"/><rect x="1112" y="783" width="2" height="6"/><rect x="1115" y="778" width="2" height="7"/><rect x="1118" y="773" width="2" height="7"/><rect x="1121" y="775" width="2" height="8"/><rect x="1124" y="781" width="2" height="8"/><rect x="1127" y="781" width="3" height="8"/><rect x="1131" y="776" width="2" height="7"/><rect x="1134" y="773" width="2" height="7"/><rect x="1137" y="772" width="2" height="7"/><rect x="1140" y="773" width="2" height="7"/><rect x="1143" y="775" width="2" height="7"/><rect x="1146" y="775" width="3" height="7"/><rect x="1150" y="783" width="2" height="6"/><rect x="1153" y="778" width="2" height="7"/><rect x="1156" y="780" width="2" height="8"/><rect x="1159" y="778" width="2" height="8"/><rect x="1162" y="776" width="2" height="8"/><rect x="1165" y="773" width="3" height="7"/><rect x="1169" y="771" width="2" height="7"/></g><g fill="#2a8be8"><rect x="8" y="789" width="2" height="1"/><rect x="11" y="789" width="2" height="1"/><rect x="14" y="789" width="3" height="1"/><rect x="18" y="789" width="2" height="1"/><rect x="21" y="789" width="2" height="2"/><rect x="24" y="789" width="2" height="1"/><rect x="27" y="789" width="2" height="1"/><rect x="30" y="789" width="2" height="1"/><rect x="33" y="789" width="3" height="1"/><rect x="37" y="789" width="2" height="1"/><rect x="40" y="789" width="2" height="1"/><rect x="43" y="789" width="2" height="3"/><rect x="46" y="789" width="2" height="4"/><rect x="49" y="789" width="2" height="1"/><rect x="52" y="789" width="3" height="1"/><rect x="56" y="789" width="2" height="4"/><rect x="59" y="789" width="2" height="6"/><rect x="62" y="789" width="2" height="4"/><rect x="65" y="789" width="2" height="3"/><rect x="68" y="789" width="2" height="3"/><rect x="71" y="789" width="3" height="2"/><rect x="75" y="789" width="2" height="1"/><rect x="78" y="789" width="2" height="1"/><rect x="81" y="789" width="2" height="1"/><rect x="84" y="789" width="2" height="1"/><rect x="87" y="789" width="2" height="1"/><rect x="90" y="789" width="2" height="1"/><rect x="93" y="789" width="3" height="1"/><rect x="97" y="789" width="2" height="1"/><rect x="100" y="789" width="2" height="1"/><rect x="103" y="789" width="2" height="1"/><rect x="106" y="789" width="2" height="1"/><rect x="109" y="789" width="2" height="1"/><rect x="112" y="789" width="3" height="7"/><rect x="116" y="789" width="2" height="5"/><rect x="119" y="789" width="2" height="8"/><rect x="122" y="789" width="2" height="9"/><rect x="125" y="789" width="2" height="1"/><rect x="128" y="789" width="2" height="1"/><rect x="131" y="789" width="3" height="3"/><rect x="135" y="789" width="2" height="6"/><rect x="138" y="789" width="2" height="48"/><rect x="141" y="789" width="2" height="22"/><rect x="144" y="789" width="2" height="1"/><rect x="147" y="789" width="2" height="1"/><rect x="150" y="789" width="3" height="9"/><rect x="154" y="789" width="2" height="7"/><rect x="157" y="789" width="2" height="5"/><rect x="160" y="789" width="2" height="1"/><rect x="163" y="789" width="2" height="1"/><rect x="166" y="789" width="2" height="1"/><rect x="169" y="789" width="3" height="2"/><rect x="173" y="789" width="2" height="1"/><rect x="176" y="789" width="2" height="1"/><rect x="179" y="789" width="2" height="1"/><rect x="182" y="789" width="2" height="3"/><rect x="185" y="789" width="2" height="3"/><rect x="188" y="789" width="3" height="1"/><rect x="192" y="789" width="2" height="1"/><rect x="195" y="789" width="2" height="5"/><rect x="198" y="789" width="2" height="1"/><rect x="201" y="789" width="2" height="1"/><rect x="204" y="789" width="2" height="1"/><rect x="207" y="789" width="2" height="1"/><rect x="210" y="789" width="3" height="1"/><rect x="214" y="789" width="2" height="1"/><rect x="217" y="789" width="2" height="1"/><rect x="220" y="789" width="2" height="1"/><rect x="223" y="789" width="2" height="1"/><rect x="226" y="789" width="2" height="1"/><rect x="229" y="789" width="3" height="1"/><rect x="233" y="789" width="2" height="1"/><rect x="236" y="789" width="2" height="1"/><rect x="239" y="789" width="2" height="1"/><rect x="242" y="789" width="2" height="1"/><rect x="245" y="789" width="2" height="1"/><rect x="248" y="789" width="3" height="1"/><rect x="252" y="789" width="2" height="1"/><rect x="255" y="789" width="2" height="1"/><rect x="258" y="789" width="2" height="1"/><rect x="261" y="789" width="2" height="1"/><rect x="264" y="789" width="2" height="1"/><rect x="267" y="789" width="3" height="1"/><rect x="271" y="789" width="2" height="1"/><rect x="274" y="789" width="2" height="1"/><rect x="277" y="789" width="2" height="1"/><rect x="280" y="789" width="2" height="1"/><rect x="283" y="789" width="2" height="1"/><rect x="286" y="789" width="3" height="1"/><rect x="290" y="789" width="2" height="1"/><rect x="293" y="789" width="2" height="1"/><rect x="296" y="789" width="2" height="1"/><rect x="299" y="789" width="2" height="1"/><rect x="302" y="789" width="2" height="1"/><rect x="305" y="789" width="3" height="1"/><rect x="309" y="789" width="2" height="1"/><rect x="312" y="789" width="2" height="1"/><rect x="315" y="789" width="2" height="1"/><rect x="318" y="789" width="2" height="1"/><rect x="321" y="789" width="2" height="1"/><rect x="324" y="789" width="2" height="1"/><rect x="327" y="789" width="3" height="1"/><rect x="331" y="789" width="2" height="1"/><rect x="334" y="789" width="2" height="1"/><rect x="337" y="789" width="2" height="1"/><rect x="340" y="789" width="2" height="1"/><rect x="343" y="789" width="2" height="1"/><rect x="346" y="789" width="3" height="1"/><rect x="350" y="789" width="2" height="1"/><rect x="353" y="789" width="2" height="1"/><rect x="356" y="789" width="2" height="1"/><rect x="359" y="789" width="2" height="1"/><rect x="362" y="789" width="2" height="1"/><rect x="365" y="789" width="3" height="1"/><rect x="369" y="789" width="2" height="1"/><rect x="372" y="789" width="2" height="1"/><rect x="375" y="789" width="2" height="1"/><rect x="378" y="789" width="2" height="1"/><rect x="381" y="789" width="2" height="1"/><rect x="384" y="789" width="3" height="1"/><rect x="388" y="789" width="2" height="1"/><rect x="391" y="789" width="2" height="1"/><rect x="394" y="789" width="2" height="1"/><rect x="397" y="789" width="2" height="1"/><rect x="400" y="789" width="2" height="1"/><rect x="403" y="789" width="3" height="1"/><rect x="407" y="789" width="2" height="1"/><rect x="410" y="789" width="2" height="1"/><rect x="413" y="789" width="2" height="1"/><rect x="416" y="789" width="2" height="3"/><rect x="419" y="789" width="2" height="4"/><rect x="422" y="789" width="3" height="4"/><rect x="426" y="789" width="2" height="3"/><rect x="429" y="789" width="2" height="1"/><rect x="432" y="789" width="2" height="1"/><rect x="435" y="789" width="2" height="1"/><rect x="438" y="789" width="2" height="1"/><rect x="441" y="789" width="2" height="1"/><rect x="444" y="789" width="3" height="1"/><rect x="448" y="789" width="2" height="1"/><rect x="451" y="789" width="2" height="1"/><rect x="454" y="789" width="2" height="1"/><rect x="457" y="789" width="2" height="1"/><rect x="460" y="789" width="2" height="1"/><rect x="463" y="789" width="3" height="1"/><rect x="467" y="789" width="2" height="1"/><rect x="470" y="789" width="2" height="1"/><rect x="473" y="789" width="2" height="1"/><rect x="476" y="789" width="2" height="1"/><rect x="479" y="789" width="2" height="1"/><rect x="482" y="789" width="3" height="1"/><rect x="486" y="789" width="2" height="1"/><rect x="489" y="789" width="2" height="1"/><rect x="492" y="789" width="2" height="1"/><rect x="495" y="789" width="2" height="1"/><rect x="498" y="789" width="2" height="1"/><rect x="501" y="789" width="3" height="1"/><rect x="505" y="789" width="2" height="1"/><rect x="508" y="789" width="2" height="1"/><rect x="511" y="789" width="2" height="1"/><rect x="514" y="789" width="2" height="1"/><rect x="517" y="789" width="2" height="1"/><rect x="520" y="789" width="3" height="1"/><rect x="524" y="789" width="2" height="1"/><rect x="527" y="789" width="2" height="1"/><rect x="530" y="789" width="2" height="1"/><rect x="533" y="789" width="2" height="1"/><rect x="536" y="789" width="2" height="1"/><rect x="539" y="789" width="3" height="1"/><rect x="543" y="789" width="2" height="1"/><rect x="546" y="789" width="2" height="1"/><rect x="549" y="789" width="2" height="1"/><rect x="552" y="789" width="2" height="1"/><rect x="555" y="789" width="2" height="1"/><rect x="558" y="789" width="2" height="1"/><rect x="561" y="789" width="3" height="1"/><rect x="565" y="789" width="2" height="1"/><rect x="568" y="789" width="2" height="1"/><rect x="571" y="789" width="2" height="1"/><rect x="574" y="789" width="2" height="3"/><rect x="577" y="789" width="2" height="1"/><rect x="580" y="789" width="3" height="1"/><rect x="584" y="789" width="2" height="1"/><rect x="587" y="789" width="2" height="1"/><rect x="590" y="789" width="2" height="1"/><rect x="593" y="789" width="2" height="1"/><rect x="596" y="789" width="2" height="1"/><rect x="599" y="789" width="3" height="1"/><rect x="603" y="789" width="2" height="1"/><rect x="606" y="789" width="2" height="1"/><rect x="609" y="789" width="2" height="1"/><rect x="612" y="789" width="2" height="1"/><rect x="615" y="789" width="2" height="1"/><rect x="618" y="789" width="3" height="1"/><rect x="622" y="789" width="2" height="1"/><rect x="625" y="789" width="2" height="1"/><rect x="628" y="789" width="2" height="1"/><rect x="631" y="789" width="2" height="1"/><rect x="634" y="789" width="2" height="1"/><rect x="637" y="785" width="3" height="5"/><rect x="641" y="786" width="2" height="4"/><rect x="644" y="789" width="2" height="1"/><rect x="647" y="789" width="2" height="1"/><rect x="650" y="786" width="2" height="4"/><rect x="653" y="784" width="2" height="6"/><rect x="656" y="783" width="3" height="7"/><rect x="660" y="784" width="2" height="6"/><rect x="663" y="789" width="2" height="1"/><rect x="666" y="789" width="2" height="1"/><rect x="669" y="789" width="2" height="1"/><rect x="672" y="789" width="2" height="1"/><rect x="675" y="784" width="2" height="6"/><rect x="678" y="783" width="3" height="7"/><rect x="682" y="785" width="2" height="5"/><rect x="685" y="783" width="2" height="7"/><rect x="688" y="782" width="2" height="8"/><rect x="691" y="782" width="2" height="8"/><rect x="694" y="782" width="2" height="8"/><rect x="697" y="783" width="3" height="7"/><rect x="701" y="789" width="2" height="1"/><rect x="704" y="789" width="2" height="1"/><rect x="707" y="789" width="2" height="1"/><rect x="710" y="789" width="2" height="1"/><rect x="713" y="789" width="2" height="1"/><rect x="716" y="788" width="3" height="2"/><rect x="720" y="787" width="2" height="3"/><rect x="723" y="786" width="2" height="4"/><rect x="726" y="788" width="2" height="2"/><rect x="729" y="787" width="2" height="3"/><rect x="732" y="788" width="2" height="2"/><rect x="735" y="789" width="3" height="1"/><rect x="739" y="789" width="2" height="1"/><rect x="742" y="789" width="2" height="1"/><rect x="745" y="789" width="2" height="10"/><rect x="748" y="789" width="2" height="3"/><rect x="751" y="789" width="2" height="1"/><rect x="754" y="789" width="3" height="1"/><rect x="758" y="789" width="2" height="1"/><rect x="761" y="789" width="2" height="1"/><rect x="764" y="788" width="2" height="2"/><rect x="767" y="789" width="2" height="1"/><rect x="770" y="787" width="2" height="3"/><rect x="773" y="786" width="2" height="4"/><rect x="776" y="789" width="3" height="1"/><rect x="780" y="789" width="2" height="1"/><rect x="783" y="789" width="2" height="1"/><rect x="786" y="787" width="2" height="3"/><rect x="789" y="788" width="2" height="2"/><rect x="792" y="789" width="2" height="1"/><rect x="795" y="789" width="3" height="1"/><rect x="799" y="789" width="2" height="1"/><rect x="802" y="789" width="2" height="1"/><rect x="805" y="789" width="2" height="1"/><rect x="808" y="787" width="2" height="3"/><rect x="811" y="789" width="2" height="1"/><rect x="814" y="781" width="3" height="9"/><rect x="818" y="784" width="2" height="6"/><rect x="821" y="789" width="2" height="1"/><rect x="824" y="789" width="2" height="1"/><rect x="827" y="789" width="2" height="1"/><rect x="830" y="788" width="2" height="2"/><rect x="833" y="789" width="3" height="1"/><rect x="837" y="789" width="2" height="1"/><rect x="840" y="789" width="2" height="1"/><rect x="843" y="789" width="2" height="1"/><rect x="846" y="789" width="2" height="1"/><rect x="849" y="789" width="2" height="1"/><rect x="852" y="789" width="3" height="1"/><rect x="856" y="789" width="2" height="1"/><rect x="859" y="789" width="2" height="1"/><rect x="862" y="789" width="2" height="1"/><rect x="865" y="789" width="2" height="1"/><rect x="868" y="789" width="2" height="1"/><rect x="871" y="789" width="3" height="1"/><rect x="875" y="789" width="2" height="1"/><rect x="878" y="789" width="2" height="1"/><rect x="881" y="789" width="2" height="1"/><rect x="884" y="789" width="2" height="1"/><rect x="887" y="789" width="2" height="1"/><rect x="890" y="789" width="2" height="1"/><rect x="893" y="789" width="3" height="1"/><rect x="897" y="787" width="2" height="3"/><rect x="900" y="785" width="2" height="5"/><rect x="903" y="780" width="2" height="10"/><rect x="906" y="781" width="2" height="9"/><rect x="909" y="789" width="2" height="1"/><rect x="912" y="789" width="3" height="1"/><rect x="916" y="775" width="2" height="15"/><rect x="919" y="776" width="2" height="14"/><rect x="922" y="778" width="2" height="12"/><rect x="925" y="778" width="2" height="12"/><rect x="928" y="784" width="2" height="6"/><rect x="931" y="786" width="3" height="4"/><rect x="935" y="789" width="2" height="1"/><rect x="938" y="786" width="2" height="4"/><rect x="941" y="771" width="2" height="19"/><rect x="944" y="774" width="2" height="16"/><rect x="947" y="786" width="2" height="4"/><rect x="950" y="789" width="3" height="1"/><rect x="954" y="789" width="2" height="1"/><rect x="957" y="787" width="2" height="3"/><rect x="960" y="781" width="2" height="9"/><rect x="963" y="781" width="2" height="9"/><rect x="966" y="789" width="2" height="1"/><rect x="969" y="789" width="3" height="1"/><rect x="973" y="789" width="2" height="1"/><rect x="976" y="789" width="2" height="1"/><rect x="979" y="787" width="2" height="3"/><rect x="982" y="787" width="2" height="3"/><rect x="985" y="789" width="2" height="1"/><rect x="988" y="788" width="3" height="2"/><rect x="992" y="789" width="2" height="1"/><rect x="995" y="789" width="2" height="1"/><rect x="998" y="787" width="2" height="3"/><rect x="1001" y="787" width="2" height="3"/><rect x="1004" y="785" width="2" height="5"/><rect x="1007" y="784" width="2" height="6"/><rect x="1010" y="789" width="3" height="1"/><rect x="1014" y="789" width="2" height="1"/><rect x="1017" y="789" width="2" height="1"/><rect x="1020" y="789" width="2" height="1"/><rect x="1023" y="788" width="2" height="2"/><rect x="1026" y="787" width="2" height="3"/><rect x="1029" y="789" width="3" height="1"/><rect x="1033" y="789" width="2" height="1"/><rect x="1036" y="785" width="2" height="5"/><rect x="1039" y="786" width="2" height="4"/><rect x="1042" y="784" width="2" height="6"/><rect x="1045" y="788" width="2" height="2"/><rect x="1048" y="789" width="3" height="1"/><rect x="1052" y="789" width="2" height="1"/><rect x="1055" y="784" width="2" height="6"/><rect x="1058" y="783" width="2" height="7"/><rect x="1061" y="782" width="2" height="8"/><rect x="1064" y="778" width="2" height="12"/><rect x="1067" y="770" width="3" height="20"/><rect x="1071" y="772" width="2" height="18"/><rect x="1074" y="785" width="2" height="5"/><rect x="1077" y="785" width="2" height="5"/><rect x="1080" y="783" width="2" height="7"/><rect x="1083" y="784" width="2" height="6"/><rect x="1086" y="784" width="3" height="6"/><rect x="1090" y="783" width="2" height="7"/><rect x="1093" y="780" width="2" height="10"/><rect x="1096" y="780" width="2" height="10"/><rect x="1099" y="785" width="2" height="5"/><rect x="1102" y="785" width="2" height="5"/><rect x="1105" y="789" width="3" height="1"/><rect x="1109" y="788" width="2" height="2"/><rect x="1112" y="789" width="2" height="1"/><rect x="1115" y="785" width="2" height="5"/><rect x="1118" y="780" width="2" height="10"/><rect x="1121" y="783" width="2" height="7"/><rect x="1124" y="789" width="2" height="1"/><rect x="1127" y="789" width="3" height="1"/><rect x="1131" y="783" width="2" height="7"/><rect x="1134" y="780" width="2" height="10"/><rect x="1137" y="779" width="2" height="11"/><rect x="1140" y="780" width="2" height="10"/><rect x="1143" y="782" width="2" height="8"/><rect x="1146" y="782" width="3" height="8"/><rect x="1150" y="789" width="2" height="1"/><rect x="1153" y="785" width="2" height="5"/><rect x="1156" y="788" width="2" height="2"/><rect x="1159" y="786" width="2" height="4"/><rect x="1162" y="784" width="2" height="6"/><rect x="1165" y="780" width="3" height="10"/><rect x="1169" y="778" width="2" height="12"/></g></g></g>
<g stroke="#4f5360" stroke-width="1" fill="none" shape-rendering="crispEdges"><rect x="6.5" y="43.5" width="1455" height="833"/><line x1="1401.5" x2="1401.5" y1="43" y2="877"/><line x1="6" x2="1462" y1="756.5" y2="756.5"/><line x1="6" x2="1462" y1="849.5" y2="849.5"/><line x1="1402" x2="1406" y1="46.5" y2="46.5"/><line x1="1402" x2="1406" y1="79.5" y2="79.5"/><line x1="1402" x2="1406" y1="113.5" y2="113.5"/><line x1="1402" x2="1406" y1="147.5" y2="147.5"/><line x1="1402" x2="1406" y1="181.5" y2="181.5"/><line x1="1402" x2="1406" y1="214.5" y2="214.5"/><line x1="1402" x2="1406" y1="248.5" y2="248.5"/><line x1="1402" x2="1406" y1="282.5" y2="282.5"/><line x1="1402" x2="1406" y1="316.5" y2="316.5"/><line x1="1402" x2="1406" y1="349.5" y2="349.5"/><line x1="1402" x2="1406" y1="383.5" y2="383.5"/><line x1="1402" x2="1406" y1="417.5" y2="417.5"/><line x1="1402" x2="1406" y1="451.5" y2="451.5"/><line x1="1402" x2="1406" y1="485.5" y2="485.5"/><line x1="1402" x2="1406" y1="518.5" y2="518.5"/><line x1="1402" x2="1406" y1="552.5" y2="552.5"/><line x1="1402" x2="1406" y1="586.5" y2="586.5"/><line x1="1402" x2="1406" y1="620.5" y2="620.5"/><line x1="1402" x2="1406" y1="653.5" y2="653.5"/><line x1="1402" x2="1406" y1="687.5" y2="687.5"/><line x1="1402" x2="1406" y1="721.5" y2="721.5"/><line x1="1402" x2="1406" y1="755.5" y2="755.5"/><line x1="1402" x2="1406" y1="760.5" y2="760.5"/><line x1="1402" x2="1406" y1="789.5" y2="789.5"/><line x1="1402" x2="1406" y1="818.5" y2="818.5"/><line x1="1402" x2="1406" y1="847.5" y2="847.5"/><line x1="10.5" x2="10.5" y1="850" y2="853"/><line x1="86.5" x2="86.5" y1="850" y2="853"/><line x1="219.5" x2="219.5" y1="850" y2="853"/><line x1="295.5" x2="295.5" y1="850" y2="853"/><line x1="390.5" x2="390.5" y1="850" y2="853"/><line x1="484.5" x2="484.5" y1="850" y2="853"/><line x1="617.5" x2="617.5" y1="850" y2="853"/><line x1="750.5" x2="750.5" y1="850" y2="853"/><line x1="883.5" x2="883.5" y1="850" y2="853"/><line x1="978.5" x2="978.5" y1="850" y2="853"/><line x1="1054.5" x2="1054.5" y1="850" y2="853"/><line x1="1148.5" x2="1148.5" y1="850" y2="853"/><line x1="1281.5" x2="1281.5" y1="850" y2="853"/></g>
<g font-family='"Liberation Sans", Arial, sans-serif' font-size="10.6" fill="#50535e"><g clip-path="url(#cpAxM)"><text x="1410.5" y="51.1" textLength="38.5" lengthAdjust="spacingAndGlyphs">10400.0</text><text x="1410.5" y="84.1" textLength="38.5" lengthAdjust="spacingAndGlyphs">10200.0</text><text x="1410.5" y="118.1" textLength="38.5" lengthAdjust="spacingAndGlyphs">10000.0</text><text x="1410.5" y="152.1" textLength="32.5" lengthAdjust="spacingAndGlyphs">9800.0</text><text x="1410.5" y="186.1" textLength="32.5" lengthAdjust="spacingAndGlyphs">9600.0</text><text x="1410.5" y="219.1" textLength="32.5" lengthAdjust="spacingAndGlyphs">9400.0</text><text x="1410.5" y="253.1" textLength="32.5" lengthAdjust="spacingAndGlyphs">9200.0</text><text x="1410.5" y="287.1" textLength="32.5" lengthAdjust="spacingAndGlyphs">9000.0</text><text x="1410.5" y="321.1" textLength="32.5" lengthAdjust="spacingAndGlyphs">8800.0</text><text x="1410.5" y="354.1" textLength="32.5" lengthAdjust="spacingAndGlyphs">8600.0</text><text x="1410.5" y="388.1" textLength="32.5" lengthAdjust="spacingAndGlyphs">8400.0</text><text x="1410.5" y="422.1" textLength="32.5" lengthAdjust="spacingAndGlyphs">8200.0</text><text x="1410.5" y="456.1" textLength="32.5" lengthAdjust="spacingAndGlyphs">8000.0</text><text x="1410.5" y="490.1" textLength="32.5" lengthAdjust="spacingAndGlyphs">7800.0</text><text x="1410.5" y="523.1" textLength="32.5" lengthAdjust="spacingAndGlyphs">7600.0</text><text x="1410.5" y="557.1" textLength="32.5" lengthAdjust="spacingAndGlyphs">7400.0</text><text x="1410.5" y="591.1" textLength="32.5" lengthAdjust="spacingAndGlyphs">7200.0</text><text x="1410.5" y="625.1" textLength="32.5" lengthAdjust="spacingAndGlyphs">7000.0</text><text x="1410.5" y="658.1" textLength="32.5" lengthAdjust="spacingAndGlyphs">6800.0</text><text x="1410.5" y="692.1" textLength="32.5" lengthAdjust="spacingAndGlyphs">6600.0</text><text x="1410.5" y="726.1" textLength="32.5" lengthAdjust="spacingAndGlyphs">6400.0</text><text x="1410.5" y="760.1" textLength="32.5" lengthAdjust="spacingAndGlyphs">6200.0</text></g><g clip-path="url(#cpAxI)"><text x="1410.5" y="765.1">0.2</text><text x="1410.5" y="794.1">0.0</text><text x="1410.5" y="823.1">−0.2</text><text x="1410.5" y="852.1">−0.4</text></g><text x="4.7" y="867.9" font-size="11" textLength="26.4" lengthAdjust="spacingAndGlyphs" clip-path="url(#cpT)">00:00</text><text x="81.0" y="867.9" font-size="11" textLength="10.5" lengthAdjust="spacingAndGlyphs">16</text><text x="213.9" y="867.9" font-size="11" textLength="10.5" lengthAdjust="spacingAndGlyphs">23</text><text x="289.9" y="867.9" font-size="11" textLength="10.5" lengthAdjust="spacingAndGlyphs">27</text><text x="377.6" y="867.9" font-size="11" textLength="25.2" lengthAdjust="spacingAndGlyphs" font-weight="bold">2020</text><text x="481.6" y="867.9" font-size="11" textLength="5.25" lengthAdjust="spacingAndGlyphs">6</text><text x="612.0" y="867.9" font-size="11" textLength="10.5" lengthAdjust="spacingAndGlyphs">13</text><text x="745.0" y="867.9" font-size="11" textLength="10.5" lengthAdjust="spacingAndGlyphs">20</text><text x="878.0" y="867.9" font-size="11" textLength="10.5" lengthAdjust="spacingAndGlyphs">27</text><text x="969.7" y="867.9" font-size="11" textLength="17.1" lengthAdjust="spacingAndGlyphs">Feb</text><text x="1051.6" y="867.9" font-size="11" textLength="5.25" lengthAdjust="spacingAndGlyphs">5</text><text x="1143.0" y="867.9" font-size="11" textLength="10.5" lengthAdjust="spacingAndGlyphs">10</text><text x="1276.0" y="867.9" font-size="11" textLength="10.5" lengthAdjust="spacingAndGlyphs">17</text></g>
<g font-family='"Liberation Sans", Arial, sans-serif' font-size="10.6" font-weight="bold" fill="#fff"><rect x="1401" y="56" width="56" height="17" fill="#ff0000" shape-rendering="crispEdges"/><rect x="1401" y="64" width="4" height="1" fill="#fff" shape-rendering="crispEdges"/><text x="1410.5" y="68.2" textLength="38.5" lengthAdjust="spacingAndGlyphs">10292.0</text><rect x="1401" y="266" width="50" height="17" fill="#000000" shape-rendering="crispEdges"/><rect x="1401" y="274" width="4" height="1" fill="#fff" shape-rendering="crispEdges"/><text x="1410.5" y="278.2" textLength="33" lengthAdjust="spacingAndGlyphs">9050.0</text><rect x="1401" y="295" width="50" height="17" fill="#4caf50" shape-rendering="crispEdges"/><rect x="1401" y="303" width="4" height="1" fill="#fff" shape-rendering="crispEdges"/><text x="1410.5" y="307.2" textLength="33" lengthAdjust="spacingAndGlyphs">8875.0</text><rect x="1401" y="344" width="50" height="17" fill="#f44336" shape-rendering="crispEdges"/><rect x="1401" y="352" width="4" height="1" fill="#fff" shape-rendering="crispEdges"/><text x="1410.5" y="356.2" textLength="33" lengthAdjust="spacingAndGlyphs">8585.0</text><rect x="1401" y="536" width="50" height="17" fill="#ff0000" shape-rendering="crispEdges"/><rect x="1401" y="544" width="4" height="1" fill="#fff" shape-rendering="crispEdges"/><text x="1410.5" y="548.2" textLength="33" lengthAdjust="spacingAndGlyphs">7450.0</text><rect x="1401" y="142" width="50" height="17" fill="#26a69a" shape-rendering="crispEdges"/><rect x="1401" y="150" width="4" height="1" fill="#fff" shape-rendering="crispEdges"/><text x="1410.5" y="154.2" textLength="33" lengthAdjust="spacingAndGlyphs">9781.5</text><rect x="1401" y="160" width="56" height="17" fill="#26a69a" shape-rendering="crispEdges"/><text x="1405.3" y="172.2" textLength="43" lengthAdjust="spacingAndGlyphs">01:11:44</text></g>
<g font-family='"Liberation Sans", Arial, sans-serif' font-size="13.4" fill="#131722"><text x="6.7" y="16.6" textLength="55.6" lengthAdjust="spacingAndGlyphs" font-weight="bold">heussepa</text><text x="66.4" y="16.6" textLength="357" lengthAdjust="spacingAndGlyphs">published on TradingView.com, February 11, 2020 07:48:17 CET</text><text x="6.7" y="33.8" textLength="125.3" lengthAdjust="spacingAndGlyphs" font-weight="bold">BITMEX:XBTUSD, 240</text><text x="137.8" y="33.8" textLength="37.5" lengthAdjust="spacingAndGlyphs">9781.5</text><path d="M179.2,25.7 L189.2,25.7 L184.2,34.5 Z" fill="#ef5350"/><text x="194" y="33.8" textLength="83.5" lengthAdjust="spacingAndGlyphs">−81.0 (−0.82%)</text><text x="283" y="33.8" textLength="12" lengthAdjust="spacingAndGlyphs" font-weight="bold">O:</text><text x="296.5" y="33.8" textLength="38.5" lengthAdjust="spacingAndGlyphs" fill="#ef5350">9745.0</text><text x="339.5" y="33.8" textLength="12" lengthAdjust="spacingAndGlyphs" font-weight="bold">H:</text><text x="353" y="33.8" textLength="38.5" lengthAdjust="spacingAndGlyphs" fill="#ef5350">9782.5</text><text x="396" y="33.8" textLength="10" lengthAdjust="spacingAndGlyphs" font-weight="bold">L:</text><text x="407.5" y="33.8" textLength="38" lengthAdjust="spacingAndGlyphs" fill="#ef5350">9725.0</text><text x="450.5" y="33.8" textLength="10.5" lengthAdjust="spacingAndGlyphs" font-weight="bold">C:</text><text x="462.5" y="33.8" textLength="38" lengthAdjust="spacingAndGlyphs" fill="#ef5350">9781.5</text></g>
<path d="M9.8,901.9 C7.5,901.9 5.9,900 5.9,897.6 C5.9,895.2 7.6,893 10,892.5 C10.6,889.3 13.4,887 16.8,887 C19.9,887 22.6,888.9 23.5,891.9 C24.2,891.2 25.2,890.8 26.3,890.8 C29.6,890.8 32.05,893.3 32.05,896.5 C32.05,899.6 30,901.9 27.2,901.9 Z" fill="#2196f3"/><path d="M6.9,899.8 L15.5,892.7 L22.1,898.4 L28.4,892.5" fill="none" stroke="#fff" stroke-width="1.1"/><circle cx="15.5" cy="892.7" r="1.8" fill="#fff"/><circle cx="22.1" cy="898.4" r="1.9" fill="#fff"/><text x="34.3" y="898.8" font-family='"Liberation Sans", Arial, sans-serif' font-size="12.8" fill="#1c2030" textLength="70.4" lengthAdjust="spacingAndGlyphs">TradingView</text></svg></body></html>
